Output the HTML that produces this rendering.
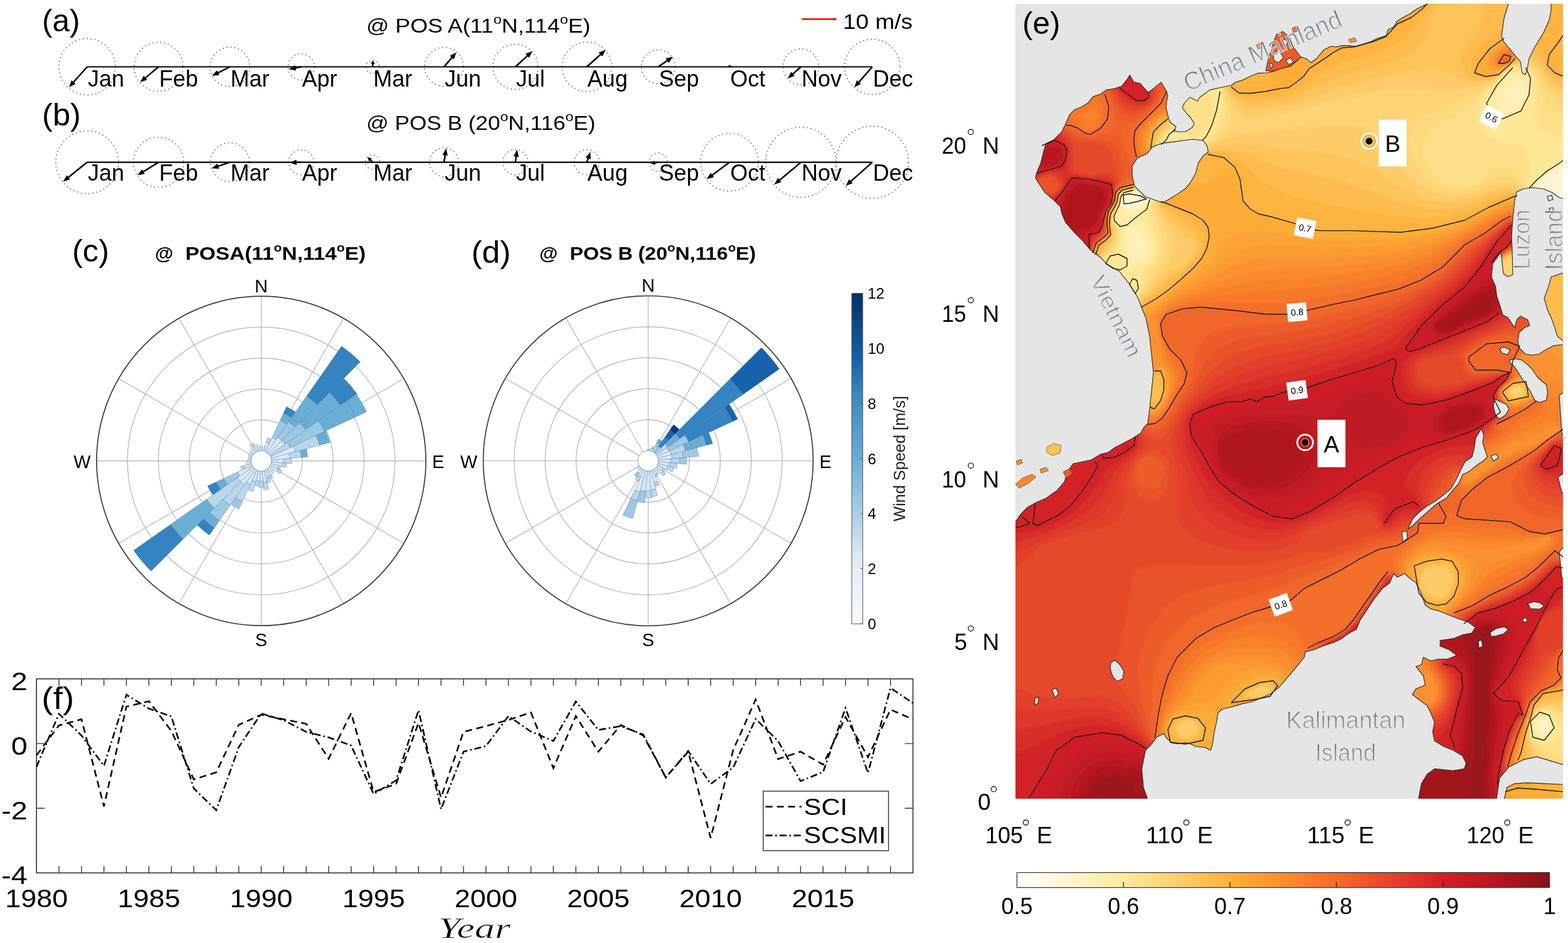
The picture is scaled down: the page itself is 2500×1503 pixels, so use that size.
<!DOCTYPE html>
<html><head><meta charset="utf-8"><title>Figure</title>
<style>html,body{margin:0;padding:0;background:#fff;overflow:hidden}svg{display:block}</style>
</head><body>
<svg width="2500" height="1503" viewBox="0 0 2500 1503" font-family="'Liberation Sans', Arial, sans-serif">
<rect width="2500" height="1503" fill="#fff"/>
<text x="67" y="49.8" font-size="50.5" textLength="60.5" lengthAdjust="spacingAndGlyphs">(a)</text>
<text x="584" y="52" font-size="32" textLength="357.5" lengthAdjust="spacingAndGlyphs">@ POS A(11<tspan font-size="21" dy="-14">o</tspan><tspan dy="14">N,114</tspan><tspan font-size="21" dy="-14">o</tspan><tspan dy="14">E)</tspan></text>
<circle cx="139" cy="106.5" r="45" fill="none" stroke="#85777a" stroke-width="1.8" stroke-dasharray="1.8 4.4"/>
<circle cx="252.8" cy="106.5" r="39" fill="none" stroke="#85777a" stroke-width="1.8" stroke-dasharray="1.8 4.4"/>
<circle cx="366.6" cy="106.5" r="31.5" fill="none" stroke="#85777a" stroke-width="1.8" stroke-dasharray="1.8 4.4"/>
<circle cx="480.4" cy="106.5" r="21" fill="none" stroke="#85777a" stroke-width="1.8" stroke-dasharray="1.8 4.4"/>
<circle cx="594.2" cy="106.5" r="10.5" fill="none" stroke="#85777a" stroke-width="1.8" stroke-dasharray="1.8 4.4"/>
<circle cx="708" cy="106.5" r="31" fill="none" stroke="#85777a" stroke-width="1.8" stroke-dasharray="1.8 4.4"/>
<circle cx="821.8" cy="106.5" r="36" fill="none" stroke="#85777a" stroke-width="1.8" stroke-dasharray="1.8 4.4"/>
<circle cx="935.6" cy="106.5" r="39.5" fill="none" stroke="#85777a" stroke-width="1.8" stroke-dasharray="1.8 4.4"/>
<circle cx="1049.4" cy="106.5" r="27" fill="none" stroke="#85777a" stroke-width="1.8" stroke-dasharray="1.8 4.4"/>
<circle cx="1163.2" cy="106.5" r="2.5" fill="none" stroke="#85777a" stroke-width="1.8" stroke-dasharray="1.8 4.4"/>
<circle cx="1277" cy="106.5" r="28.5" fill="none" stroke="#85777a" stroke-width="1.8" stroke-dasharray="1.8 4.4"/>
<circle cx="1390.8" cy="106.5" r="44" fill="none" stroke="#85777a" stroke-width="1.8" stroke-dasharray="1.8 4.4"/>
<line x1="139" y1="106.5" x2="1390.8" y2="106.5" stroke="#000" stroke-width="2.2"/>
<line x1="139" y1="106.5" x2="116.7" y2="131.5" stroke="#000" stroke-width="2.5"/>
<polygon points="110,139 114.1,127.9 120.5,133.7" fill="#000"/>
<text x="140" y="137.7" font-size="36">Jan</text>
<line x1="252.8" y1="106.5" x2="231.1" y2="124.6" stroke="#000" stroke-width="2.5"/>
<polygon points="223.4,131 229.1,120.7 234.6,127.3" fill="#000"/>
<text x="253.8" y="137.7" font-size="36">Feb</text>
<line x1="366.6" y1="106.5" x2="347" y2="116.3" stroke="#000" stroke-width="2.5"/>
<polygon points="338,120.7 345.9,112 349.8,119.7" fill="#000"/>
<text x="367.6" y="137.7" font-size="36">Mar</text>
<line x1="480.4" y1="106.5" x2="470.2" y2="108.4" stroke="#000" stroke-width="2.5"/>
<polygon points="460.4,110.2 470.4,104 472,112.4" fill="#000"/>
<text x="481.4" y="137.7" font-size="36">Apr</text>
<line x1="594.2" y1="106.5" x2="594.5" y2="101" stroke="#000" stroke-width="2.5"/>
<polygon points="594.7,96.5 597.9,102.2 591,101.8" fill="#000"/>
<text x="595.2" y="137.7" font-size="36">Mar</text>
<line x1="708" y1="106.5" x2="721" y2="91.1" stroke="#000" stroke-width="2.5"/>
<polygon points="727.5,83.5 723.7,94.7 717.1,89.1" fill="#000"/>
<text x="709" y="137.7" font-size="36">Jun</text>
<line x1="821.8" y1="106.5" x2="841.5" y2="88.3" stroke="#000" stroke-width="2.5"/>
<polygon points="848.8,81.5 843.7,92.1 837.8,85.8" fill="#000"/>
<text x="822.8" y="137.7" font-size="36">Jul</text>
<line x1="935.6" y1="106.5" x2="958.2" y2="86.2" stroke="#000" stroke-width="2.5"/>
<polygon points="965.6,79.5 960.3,90.1 954.5,83.7" fill="#000"/>
<text x="936.6" y="137.7" font-size="36">Aug</text>
<line x1="1049.4" y1="106.5" x2="1064.6" y2="96.1" stroke="#000" stroke-width="2.5"/>
<polygon points="1072.9,90.5 1066.2,100.2 1061.4,93.1" fill="#000"/>
<text x="1050.4" y="137.7" font-size="36">Sep</text>
<line x1="1163.2" y1="106.5" x2="1161.9" y2="104.8" stroke="#000" stroke-width="2.5"/>
<polygon points="1161.7,104.5 1165.3,103.5 1159.8,107.7" fill="#000"/>
<text x="1164.2" y="137.7" font-size="36">Oct</text>
<line x1="1277" y1="106.5" x2="1263.5" y2="118.5" stroke="#000" stroke-width="2.5"/>
<polygon points="1256,125.1 1261.4,114.6 1267.1,121" fill="#000"/>
<text x="1278" y="137.7" font-size="36">Nov</text>
<line x1="1390.8" y1="106.5" x2="1368.7" y2="131.6" stroke="#000" stroke-width="2.5"/>
<polygon points="1362.1,139.1 1366.1,128 1372.6,133.7" fill="#000"/>
<text x="1391.8" y="137.7" font-size="36">Dec</text>
<text x="67" y="199.5" font-size="50.5" textLength="62" lengthAdjust="spacingAndGlyphs">(b)</text>
<text x="584" y="207" font-size="32" textLength="365.5" lengthAdjust="spacingAndGlyphs">@ POS B (20<tspan font-size="21" dy="-14">o</tspan><tspan dy="14">N,116</tspan><tspan font-size="21" dy="-14">o</tspan><tspan dy="14">E)</tspan></text>
<circle cx="139" cy="258.6" r="50" fill="none" stroke="#85777a" stroke-width="1.8" stroke-dasharray="1.8 4.4"/>
<circle cx="252.8" cy="258.6" r="40" fill="none" stroke="#85777a" stroke-width="1.8" stroke-dasharray="1.8 4.4"/>
<circle cx="366.6" cy="258.6" r="31" fill="none" stroke="#85777a" stroke-width="1.8" stroke-dasharray="1.8 4.4"/>
<circle cx="480.4" cy="258.6" r="20" fill="none" stroke="#85777a" stroke-width="1.8" stroke-dasharray="1.8 4.4"/>
<circle cx="594.2" cy="258.6" r="11.5" fill="none" stroke="#85777a" stroke-width="1.8" stroke-dasharray="1.8 4.4"/>
<circle cx="708" cy="258.6" r="23" fill="none" stroke="#85777a" stroke-width="1.8" stroke-dasharray="1.8 4.4"/>
<circle cx="821.8" cy="258.6" r="20" fill="none" stroke="#85777a" stroke-width="1.8" stroke-dasharray="1.8 4.4"/>
<circle cx="935.6" cy="258.6" r="20" fill="none" stroke="#85777a" stroke-width="1.8" stroke-dasharray="1.8 4.4"/>
<circle cx="1049.4" cy="258.6" r="14.5" fill="none" stroke="#85777a" stroke-width="1.8" stroke-dasharray="1.8 4.4"/>
<circle cx="1163.2" cy="258.6" r="46" fill="none" stroke="#85777a" stroke-width="1.8" stroke-dasharray="1.8 4.4"/>
<circle cx="1277" cy="258.6" r="56" fill="none" stroke="#85777a" stroke-width="1.8" stroke-dasharray="1.8 4.4"/>
<circle cx="1390.8" cy="258.6" r="57.5" fill="none" stroke="#85777a" stroke-width="1.8" stroke-dasharray="1.8 4.4"/>
<line x1="139" y1="258.6" x2="1390.8" y2="258.6" stroke="#000" stroke-width="2.2"/>
<line x1="139" y1="258.6" x2="108.3" y2="283.2" stroke="#000" stroke-width="2.5"/>
<polygon points="100.5,289.4 106.4,279.2 111.8,285.9" fill="#000"/>
<text x="140" y="288.4" font-size="36">Jan</text>
<line x1="252.8" y1="258.6" x2="227.7" y2="274.1" stroke="#000" stroke-width="2.5"/>
<polygon points="219.2,279.3 226.3,269.9 230.8,277.2" fill="#000"/>
<text x="253.8" y="288.4" font-size="36">Feb</text>
<line x1="366.6" y1="258.6" x2="347.1" y2="265.1" stroke="#000" stroke-width="2.5"/>
<polygon points="337.6,268.3 346.7,260.7 349.4,268.9" fill="#000"/>
<text x="367.6" y="288.4" font-size="36">Mar</text>
<line x1="480.4" y1="258.6" x2="471.8" y2="258.9" stroke="#000" stroke-width="2.5"/>
<polygon points="461.8,259.2 472.7,254.5 472.9,263.1" fill="#000"/>
<text x="481.4" y="288.4" font-size="36">Apr</text>
<line x1="594.2" y1="258.6" x2="589.9" y2="254.3" stroke="#000" stroke-width="2.5"/>
<polygon points="586.2,250.6 593,252.6 588.2,257.4" fill="#000"/>
<text x="595.2" y="288.4" font-size="36">Mar</text>
<line x1="708" y1="258.6" x2="709.8" y2="246.5" stroke="#000" stroke-width="2.5"/>
<polygon points="711.3,236.6 713.9,248.1 705.4,246.8" fill="#000"/>
<text x="709" y="288.4" font-size="36">Jun</text>
<line x1="821.8" y1="258.6" x2="823.1" y2="248.5" stroke="#000" stroke-width="2.5"/>
<polygon points="824.4,238.6 827.2,250.1 818.7,249" fill="#000"/>
<text x="822.8" y="288.4" font-size="36">Jul</text>
<line x1="935.6" y1="258.6" x2="938.1" y2="251.5" stroke="#000" stroke-width="2.5"/>
<polygon points="941.4,242.1 941.8,253.9 933.7,251.1" fill="#000"/>
<text x="936.6" y="288.4" font-size="36">Aug</text>
<line x1="1049.4" y1="258.6" x2="1043" y2="259.7" stroke="#000" stroke-width="2.5"/>
<polygon points="1037.4,260.6 1043.4,256.1 1044.6,262.9" fill="#000"/>
<text x="1050.4" y="288.4" font-size="36">Sep</text>
<line x1="1163.2" y1="258.6" x2="1134.7" y2="279.7" stroke="#000" stroke-width="2.5"/>
<polygon points="1126.7,285.6 1133,275.6 1138.1,282.5" fill="#000"/>
<text x="1164.2" y="288.4" font-size="36">Oct</text>
<line x1="1277" y1="258.6" x2="1242.2" y2="287.7" stroke="#000" stroke-width="2.5"/>
<polygon points="1234.5,294.1 1240.2,283.7 1245.7,290.3" fill="#000"/>
<text x="1278" y="288.4" font-size="36">Nov</text>
<line x1="1390.8" y1="258.6" x2="1355.9" y2="289.6" stroke="#000" stroke-width="2.5"/>
<polygon points="1348.4,296.2 1353.8,285.7 1359.5,292.1" fill="#000"/>
<text x="1391.8" y="288.4" font-size="36">Dec</text>
<line x1="1278.5" y1="30.5" x2="1331" y2="30.5" stroke="#ff0000" stroke-width="2.4"/>
<polygon points="1335,30.5 1329,28 1329,33" fill="#ff0000"/>
<text x="1344" y="46.2" font-size="33" textLength="111" lengthAdjust="spacingAndGlyphs">10 m/s</text>
<text x="247" y="414" font-size="30" font-weight="bold">@</text>
<text x="860" y="414" font-size="30" font-weight="bold">@</text>
<text x="115" y="417" font-size="50" textLength="59" lengthAdjust="spacingAndGlyphs">(c)</text>
<text x="295.5" y="414" font-size="30" font-weight="bold" textLength="287.7" lengthAdjust="spacingAndGlyphs">POSA(11<tspan font-size="19" dy="-13">o</tspan><tspan dy="13">N,114</tspan><tspan font-size="19" dy="-13">o</tspan><tspan dy="13">E)</tspan></text>
<g fill="none" stroke="#b4b4b4" stroke-width="1.2"><circle cx="416.5" cy="734.7" r="65.6"/><circle cx="416.5" cy="734.7" r="114.8"/><circle cx="416.5" cy="734.7" r="164.1"/><circle cx="416.5" cy="734.7" r="213.3"/><circle cx="416.5" cy="734.7" r="16.4"/><line x1="416.5" y1="718.3" x2="416.5" y2="472.2"/><line x1="424.7" y1="720.5" x2="547.8" y2="507.4"/><line x1="430.7" y1="726.5" x2="643.8" y2="603.5"/><line x1="432.9" y1="734.7" x2="679" y2="734.7"/><line x1="430.7" y1="742.9" x2="643.8" y2="866"/><line x1="424.7" y1="748.9" x2="547.8" y2="962"/><line x1="416.5" y1="751.1" x2="416.5" y2="997.2"/><line x1="408.3" y1="748.9" x2="285.2" y2="962"/><line x1="402.3" y1="742.9" x2="189.2" y2="866"/><line x1="400.1" y1="734.7" x2="154" y2="734.7"/><line x1="402.3" y1="726.5" x2="189.2" y2="603.5"/><line x1="408.3" y1="720.5" x2="285.2" y2="507.4"/></g>
<g stroke="#4a6f94" stroke-opacity="0.45" stroke-width="0.9"><path d="M415.1 718.4L414.6 713.4A21.4 21.4 0 0 1 418.4 713.4L417.9 718.4A16.4 16.4 0 0 0 415.1 718.4Z" fill="#d9e8f5"/><path d="M417.9 718.4L418.6 710.4A24.4 24.4 0 0 1 422.8 711.1L420.7 718.9A16.4 16.4 0 0 0 417.9 718.4Z" fill="#d9e8f5"/><path d="M420.7 718.9L424.4 705.3A30.4 30.4 0 0 1 429.3 707.1L423.4 719.8A16.4 16.4 0 0 0 420.7 718.9Z" fill="#d9e8f5"/><path d="M424.4 705.3L426.4 697.6A38.4 38.4 0 0 1 432.7 699.9L429.3 707.1A30.4 30.4 0 0 0 424.4 705.3Z" fill="#b9d6ec"/><path d="M423.4 719.8L434 697.2A41.4 41.4 0 0 1 440.2 700.8L425.9 721.3A16.4 16.4 0 0 0 423.4 719.8Z" fill="#d9e8f5"/><path d="M434 697.2L446.7 670A71.4 71.4 0 0 1 457.5 676.2L440.2 700.8A41.4 41.4 0 0 0 434 697.2Z" fill="#9dc8e3"/><path d="M446.7 670L452.2 658.2A84.4 84.4 0 0 1 464.9 665.6L457.5 676.2A71.4 71.4 0 0 0 446.7 670Z" fill="#6aaed6"/><path d="M452.2 658.2L456.8 648.2A95.4 95.4 0 0 1 471.2 656.6L464.9 665.6A84.4 84.4 0 0 0 452.2 658.2Z" fill="#3583c1"/><path d="M425.9 721.3L443.1 696.7A46.4 46.4 0 0 1 449.3 701.9L428.1 723.1A16.4 16.4 0 0 0 425.9 721.3Z" fill="#d9e8f5"/><path d="M443.1 696.7L460.3 672.1A76.4 76.4 0 0 1 470.5 680.7L449.3 701.9A46.4 46.4 0 0 0 443.1 696.7Z" fill="#9dc8e3"/><path d="M460.3 672.1L489 631.2A126.4 126.4 0 0 1 505.9 645.3L470.5 680.7A76.4 76.4 0 0 0 460.3 672.1Z" fill="#6aaed6"/><path d="M489 631.2L544.6 551.7A223.4 223.4 0 0 1 574.5 576.7L505.9 645.3A126.4 126.4 0 0 0 489 631.2Z" fill="#3583c1"/><path d="M428.1 723.1L449.3 701.9A46.4 46.4 0 0 1 454.5 708.1L429.9 725.3A16.4 16.4 0 0 0 428.1 723.1Z" fill="#d9e8f5"/><path d="M449.3 701.9L477.6 673.6A86.4 86.4 0 0 1 487.3 685.1L454.5 708.1A46.4 46.4 0 0 0 449.3 701.9Z" fill="#9dc8e3"/><path d="M477.6 673.6L525.7 625.5A154.4 154.4 0 0 1 543 646.1L487.3 685.1A86.4 86.4 0 0 0 477.6 673.6Z" fill="#6aaed6"/><path d="M525.7 625.5L548.3 602.9A186.4 186.4 0 0 1 569.2 627.8L543 646.1A154.4 154.4 0 0 0 525.7 625.5Z" fill="#3583c1"/><path d="M429.9 725.3L458.6 705.2A51.4 51.4 0 0 1 463.1 713L431.4 727.8A16.4 16.4 0 0 0 429.9 725.3Z" fill="#b9d6ec"/><path d="M458.6 705.2L507.8 670.8A111.4 111.4 0 0 1 517.5 687.6L463.1 713A51.4 51.4 0 0 0 458.6 705.2Z" fill="#9dc8e3"/><path d="M507.8 670.8L552.8 639.3A166.4 166.4 0 0 1 567.3 664.4L517.5 687.6A111.4 111.4 0 0 0 507.8 670.8Z" fill="#6aaed6"/><path d="M552.8 639.3L568.4 628.4A185.4 185.4 0 0 1 584.5 656.3L567.3 664.4A166.4 166.4 0 0 0 552.8 639.3Z" fill="#6aaed6"/><path d="M431.4 727.8L467.6 710.9A56.4 56.4 0 0 1 471 720.1L432.3 730.5A16.4 16.4 0 0 0 431.4 727.8Z" fill="#d9e8f5"/><path d="M467.6 710.9L503.9 694A96.4 96.4 0 0 1 509.6 709.7L471 720.1A56.4 56.4 0 0 0 467.6 710.9Z" fill="#b9d6ec"/><path d="M503.9 694L519.3 686.8A113.4 113.4 0 0 1 526 705.3L509.6 709.7A96.4 96.4 0 0 0 503.9 694Z" fill="#6aaed6"/><path d="M432.3 730.5L461.3 722.7A46.4 46.4 0 0 1 462.7 730.7L432.8 733.3A16.4 16.4 0 0 0 432.3 730.5Z" fill="#d9e8f5"/><path d="M461.3 722.7L478.7 718A64.4 64.4 0 0 1 480.7 729.1L462.7 730.7A46.4 46.4 0 0 0 461.3 722.7Z" fill="#b9d6ec"/><path d="M478.7 718L488.4 715.4A74.4 74.4 0 0 1 490.6 728.2L480.7 729.1A64.4 64.4 0 0 0 478.7 718Z" fill="#6aaed6"/><path d="M432.8 733.3L452.8 731.5A36.4 36.4 0 0 1 452.8 737.9L432.8 736.1A16.4 16.4 0 0 0 432.8 733.3Z" fill="#d9e8f5"/><path d="M452.8 731.5L464.7 730.5A48.4 48.4 0 0 1 464.7 738.9L452.8 737.9A36.4 36.4 0 0 0 452.8 731.5Z" fill="#b9d6ec"/><path d="M432.8 736.1L450.8 737.7A34.4 34.4 0 0 1 449.7 743.6L432.3 738.9A16.4 16.4 0 0 0 432.8 736.1Z" fill="#d9e8f5"/><path d="M450.8 737.7L456.7 738.2A40.4 40.4 0 0 1 455.5 745.2L449.7 743.6A34.4 34.4 0 0 0 450.8 737.7Z" fill="#b9d6ec"/><path d="M432.3 738.9L443.9 742.1A28.4 28.4 0 0 1 442.2 746.7L431.4 741.6A16.4 16.4 0 0 0 432.3 738.9Z" fill="#d9e8f5"/><path d="M443.9 742.1L447.8 743.1A32.4 32.4 0 0 1 445.9 748.4L442.2 746.7A28.4 28.4 0 0 0 443.9 742.1Z" fill="#b9d6ec"/><path d="M431.4 741.6L444.1 747.5A30.4 30.4 0 0 1 441.4 752.1L429.9 744.1A16.4 16.4 0 0 0 431.4 741.6Z" fill="#d9e8f5"/><path d="M444.1 747.5L449.5 750.1A36.4 36.4 0 0 1 446.3 755.6L441.4 752.1A30.4 30.4 0 0 0 444.1 747.5Z" fill="#b9d6ec"/><path d="M429.9 744.1L438.1 749.8A26.4 26.4 0 0 1 435.2 753.4L428.1 746.3A16.4 16.4 0 0 0 429.9 744.1Z" fill="#d9e8f5"/><path d="M428.1 746.3L436.6 754.8A28.4 28.4 0 0 1 432.8 758L425.9 748.1A16.4 16.4 0 0 0 428.1 746.3Z" fill="#d9e8f5"/><path d="M425.9 748.1L431.6 756.3A26.4 26.4 0 0 1 427.7 758.6L423.4 749.6A16.4 16.4 0 0 0 425.9 748.1Z" fill="#d9e8f5"/><path d="M431.6 756.3L435.1 761.2A32.4 32.4 0 0 1 430.2 764.1L427.7 758.6A26.4 26.4 0 0 0 431.6 756.3Z" fill="#b9d6ec"/><path d="M423.4 749.6L428.5 760.4A28.4 28.4 0 0 1 423.9 762.1L420.7 750.5A16.4 16.4 0 0 0 423.4 749.6Z" fill="#d9e8f5"/><path d="M428.5 760.4L431.9 767.7A36.4 36.4 0 0 1 425.9 769.9L423.9 762.1A28.4 28.4 0 0 0 428.5 760.4Z" fill="#b9d6ec"/><path d="M420.7 750.5L425.4 767.9A34.4 34.4 0 0 1 419.5 769L417.9 751A16.4 16.4 0 0 0 420.7 750.5Z" fill="#d9e8f5"/><path d="M425.4 767.9L428.5 779.5A46.4 46.4 0 0 1 420.5 780.9L419.5 769A34.4 34.4 0 0 0 425.4 767.9Z" fill="#b9d6ec"/><path d="M417.9 751L419.3 767A32.4 32.4 0 0 1 413.7 767L415.1 751A16.4 16.4 0 0 0 417.9 751Z" fill="#d9e8f5"/><path d="M419.3 767L420.2 776.9A42.4 42.4 0 0 1 412.8 776.9L413.7 767A32.4 32.4 0 0 0 419.3 767Z" fill="#b9d6ec"/><path d="M415.1 751L413.7 767A32.4 32.4 0 0 1 408.1 766L412.3 750.5A16.4 16.4 0 0 0 415.1 751Z" fill="#d9e8f5"/><path d="M413.7 767L413 774.9A40.4 40.4 0 0 1 406 773.7L408.1 766A32.4 32.4 0 0 0 413.7 767Z" fill="#b9d6ec"/><path d="M412.3 750.5L407.6 767.9A34.4 34.4 0 0 1 402 765.9L409.6 749.6A16.4 16.4 0 0 0 412.3 750.5Z" fill="#d9e8f5"/><path d="M407.6 767.9L403.5 783.4A50.4 50.4 0 0 1 395.2 780.4L402 765.9A34.4 34.4 0 0 0 407.6 767.9Z" fill="#b9d6ec"/><path d="M409.6 749.6L399 772.2A41.4 41.4 0 0 1 392.8 768.6L407.1 748.1A16.4 16.4 0 0 0 409.6 749.6Z" fill="#d9e8f5"/><path d="M399 772.2L386.3 799.4A71.4 71.4 0 0 1 375.5 793.2L392.8 768.6A41.4 41.4 0 0 0 399 772.2Z" fill="#b9d6ec"/><path d="M386.3 799.4L380.8 811.2A84.4 84.4 0 0 1 368.1 803.8L375.5 793.2A71.4 71.4 0 0 0 386.3 799.4Z" fill="#9dc8e3"/><path d="M407.1 748.1L389.9 772.7A46.4 46.4 0 0 1 383.7 767.5L404.9 746.3A16.4 16.4 0 0 0 407.1 748.1Z" fill="#d9e8f5"/><path d="M389.9 772.7L366.9 805.5A86.4 86.4 0 0 1 355.4 795.8L383.7 767.5A46.4 46.4 0 0 0 389.9 772.7Z" fill="#b9d6ec"/><path d="M366.9 805.5L349.7 830A116.4 116.4 0 0 1 334.2 817L355.4 795.8A86.4 86.4 0 0 0 366.9 805.5Z" fill="#9dc8e3"/><path d="M349.7 830L341.7 841.5A130.4 130.4 0 0 1 324.3 826.9L334.2 817A116.4 116.4 0 0 0 349.7 830Z" fill="#6aaed6"/><path d="M341.7 841.5L333.7 853A144.4 144.4 0 0 1 314.4 836.8L324.3 826.9A130.4 130.4 0 0 0 341.7 841.5Z" fill="#3583c1"/><path d="M404.9 746.3L383.7 767.5A46.4 46.4 0 0 1 378.5 761.3L403.1 744.1A16.4 16.4 0 0 0 404.9 746.3Z" fill="#d9e8f5"/><path d="M383.7 767.5L341.3 809.9A106.4 106.4 0 0 1 329.3 795.7L378.5 761.3A46.4 46.4 0 0 0 383.7 767.5Z" fill="#b9d6ec"/><path d="M341.3 809.9L291.8 859.4A176.4 176.4 0 0 1 272 835.9L329.3 795.7A106.4 106.4 0 0 0 341.3 809.9Z" fill="#6aaed6"/><path d="M291.8 859.4L240.9 910.3A248.4 248.4 0 0 1 213 877.2L272 835.9A176.4 176.4 0 0 0 291.8 859.4Z" fill="#3583c1"/><path d="M403.1 744.1L382.6 758.4A41.4 41.4 0 0 1 379 752.2L401.6 741.6A16.4 16.4 0 0 0 403.1 744.1Z" fill="#d9e8f5"/><path d="M382.6 758.4L362.1 772.8A66.4 66.4 0 0 1 356.3 762.8L379 752.2A41.4 41.4 0 0 0 382.6 758.4Z" fill="#9dc8e3"/><path d="M362.1 772.8L351.5 780.2A79.4 79.4 0 0 1 344.5 768.3L356.3 762.8A66.4 66.4 0 0 0 362.1 772.8Z" fill="#6aaed6"/><path d="M351.5 780.2L339.2 788.8A94.4 94.4 0 0 1 330.9 774.6L344.5 768.3A79.4 79.4 0 0 0 351.5 780.2Z" fill="#3583c1"/><path d="M401.6 741.6L390.8 746.7A28.4 28.4 0 0 1 389.1 742.1L400.7 738.9A16.4 16.4 0 0 0 401.6 741.6Z" fill="#d9e8f5"/><path d="M390.8 746.7L385.3 749.2A34.4 34.4 0 0 1 383.3 743.6L389.1 742.1A28.4 28.4 0 0 0 390.8 746.7Z" fill="#b9d6ec"/><path d="M400.7 738.9L392.9 741A24.4 24.4 0 0 1 392.2 736.8L400.2 736.1A16.4 16.4 0 0 0 400.7 738.9Z" fill="#d9e8f5"/><path d="M400.2 736.1L394.2 736.7A22.4 22.4 0 0 1 394.2 732.7L400.2 733.3A16.4 16.4 0 0 0 400.2 736.1Z" fill="#d9e8f5"/><path d="M400.2 733.3L396.2 732.9A20.4 20.4 0 0 1 396.8 729.4L400.7 730.5A16.4 16.4 0 0 0 400.2 733.3Z" fill="#d9e8f5"/><path d="M400.7 730.5L395.8 729.2A21.4 21.4 0 0 1 397.1 725.7L401.6 727.8A16.4 16.4 0 0 0 400.7 730.5Z" fill="#d9e8f5"/><path d="M401.6 727.8L396.2 725.2A22.4 22.4 0 0 1 398.2 721.9L403.1 725.3A16.4 16.4 0 0 0 401.6 727.8Z" fill="#d9e8f5"/><path d="M403.1 725.3L398.2 721.9A22.4 22.4 0 0 1 400.7 718.9L404.9 723.1A16.4 16.4 0 0 0 403.1 725.3Z" fill="#d9e8f5"/><path d="M404.9 723.1L399.2 717.4A24.4 24.4 0 0 1 402.5 714.7L407.1 721.3A16.4 16.4 0 0 0 404.9 723.1Z" fill="#d9e8f5"/><path d="M407.1 721.3L401.4 713.1A26.4 26.4 0 0 1 405.3 710.8L409.6 719.8A16.4 16.4 0 0 0 407.1 721.3Z" fill="#d9e8f5"/><path d="M401.4 713.1L398.5 709A31.4 31.4 0 0 1 403.2 706.2L405.3 710.8A26.4 26.4 0 0 0 401.4 713.1Z" fill="#b9d6ec"/><path d="M409.6 719.8L404.5 709A28.4 28.4 0 0 1 409.1 707.3L412.3 718.9A16.4 16.4 0 0 0 409.6 719.8Z" fill="#d9e8f5"/><path d="M412.3 718.9L410.2 711.1A24.4 24.4 0 0 1 414.4 710.4L415.1 718.4A16.4 16.4 0 0 0 412.3 718.9Z" fill="#d9e8f5"/></g>
<circle cx="416.5" cy="734.7" r="262.5" fill="none" stroke="#3c3c3c" stroke-width="1.7"/>
<text x="416.5" y="465.7" font-size="29" text-anchor="middle">N</text>
<text x="416.5" y="1029.7" font-size="29" text-anchor="middle">S</text>
<text x="144.5" y="745.7" font-size="29" text-anchor="end">W</text>
<text x="689" y="745.7" font-size="29">E</text>
<text x="751.4" y="419.3" font-size="50" textLength="63" lengthAdjust="spacingAndGlyphs">(d)</text>
<text x="908.5" y="414" font-size="30" font-weight="bold" textLength="296.8" lengthAdjust="spacingAndGlyphs">POS B (20<tspan font-size="19" dy="-13">o</tspan><tspan dy="13">N,116</tspan><tspan font-size="19" dy="-13">o</tspan><tspan dy="13">E)</tspan></text>
<g fill="none" stroke="#b4b4b4" stroke-width="1.2"><circle cx="1033.5" cy="734.5" r="65.7"/><circle cx="1033.5" cy="734.5" r="115"/><circle cx="1033.5" cy="734.5" r="164.4"/><circle cx="1033.5" cy="734.5" r="213.7"/><circle cx="1033.5" cy="734.5" r="16.4"/><line x1="1033.5" y1="718.1" x2="1033.5" y2="471.5"/><line x1="1041.7" y1="720.3" x2="1165" y2="506.7"/><line x1="1047.7" y1="726.3" x2="1261.3" y2="603"/><line x1="1049.9" y1="734.5" x2="1296.5" y2="734.5"/><line x1="1047.7" y1="742.7" x2="1261.3" y2="866"/><line x1="1041.7" y1="748.7" x2="1165" y2="962.3"/><line x1="1033.5" y1="750.9" x2="1033.5" y2="997.5"/><line x1="1025.3" y1="748.7" x2="902" y2="962.3"/><line x1="1019.3" y1="742.7" x2="805.7" y2="866"/><line x1="1017.1" y1="734.5" x2="770.5" y2="734.5"/><line x1="1019.3" y1="726.3" x2="805.7" y2="603"/><line x1="1025.3" y1="720.3" x2="902" y2="506.7"/></g>
<g stroke="#4a6f94" stroke-opacity="0.45" stroke-width="0.9"><path d="M1032.1 718.2L1031.9 716.2A18.4 18.4 0 0 1 1035.1 716.2L1034.9 718.2A16.4 16.4 0 0 0 1032.1 718.2Z" fill="#d9e8f5"/><path d="M1034.9 718.2L1035.2 715.2A19.4 19.4 0 0 1 1038.5 715.8L1037.7 718.7A16.4 16.4 0 0 0 1034.9 718.2Z" fill="#d9e8f5"/><path d="M1037.7 718.7L1038.8 714.8A20.4 20.4 0 0 1 1042.1 716L1040.4 719.6A16.4 16.4 0 0 0 1037.7 718.7Z" fill="#d9e8f5"/><path d="M1038.8 714.8L1039.8 710.9A24.4 24.4 0 0 1 1043.8 712.4L1042.1 716A20.4 20.4 0 0 0 1038.8 714.8Z" fill="#b9d6ec"/><path d="M1040.4 719.6L1044.7 710.6A26.4 26.4 0 0 1 1048.6 712.9L1042.9 721.1A16.4 16.4 0 0 0 1040.4 719.6Z" fill="#b9d6ec"/><path d="M1044.7 710.6L1047.2 705.1A32.4 32.4 0 0 1 1052.1 708L1048.6 712.9A26.4 26.4 0 0 0 1044.7 710.6Z" fill="#9dc8e3"/><path d="M1047.2 705.1L1049.7 699.7A38.4 38.4 0 0 1 1055.5 703L1052.1 708A32.4 32.4 0 0 0 1047.2 705.1Z" fill="#6aaed6"/><path d="M1042.9 721.1L1049.8 711.2A28.4 28.4 0 0 1 1053.6 714.4L1045.1 722.9A16.4 16.4 0 0 0 1042.9 721.1Z" fill="#9dc8e3"/><path d="M1049.8 711.2L1060.1 696.5A46.4 46.4 0 0 1 1066.3 701.7L1053.6 714.4A28.4 28.4 0 0 0 1049.8 711.2Z" fill="#3583c1"/><path d="M1060.1 696.5L1067.6 685.8A59.4 59.4 0 0 1 1075.5 692.5L1066.3 701.7A46.4 46.4 0 0 0 1060.1 696.5Z" fill="#1663ab"/><path d="M1067.6 685.8L1073.9 676.8A70.4 70.4 0 0 1 1083.3 684.7L1075.5 692.5A59.4 59.4 0 0 0 1067.6 685.8Z" fill="#0b3a78"/><path d="M1045.1 722.9L1060.7 707.3A38.4 38.4 0 0 1 1065 712.5L1046.9 725.1A16.4 16.4 0 0 0 1045.1 722.9Z" fill="#b9d6ec"/><path d="M1060.7 707.3L1076.9 691.1A61.4 61.4 0 0 1 1083.8 699.3L1065 712.5A38.4 38.4 0 0 0 1060.7 707.3Z" fill="#6aaed6"/><path d="M1076.9 691.1L1163.9 604.1A184.4 184.4 0 0 1 1184.6 628.7L1083.8 699.3A61.4 61.4 0 0 0 1076.9 691.1Z" fill="#3583c1"/><path d="M1163.9 604.1L1214.1 553.9A255.4 255.4 0 0 1 1242.7 588L1184.6 628.7A184.4 184.4 0 0 0 1163.9 604.1Z" fill="#1663ab"/><path d="M1046.9 725.1L1063.3 713.6A36.4 36.4 0 0 1 1066.5 719.1L1048.4 727.6A16.4 16.4 0 0 0 1046.9 725.1Z" fill="#d9e8f5"/><path d="M1063.3 713.6L1092 693.5A71.4 71.4 0 0 1 1098.2 704.3L1066.5 719.1A36.4 36.4 0 0 0 1063.3 713.6Z" fill="#9dc8e3"/><path d="M1092 693.5L1155.1 649.4A148.4 148.4 0 0 1 1168 671.8L1098.2 704.3A71.4 71.4 0 0 0 1092 693.5Z" fill="#3583c1"/><path d="M1155.1 649.4L1162.4 644.2A157.4 157.4 0 0 1 1176.2 668L1168 671.8A148.4 148.4 0 0 0 1155.1 649.4Z" fill="#1663ab"/><path d="M1048.4 727.6L1068.3 718.3A38.4 38.4 0 0 1 1070.6 724.6L1049.3 730.3A16.4 16.4 0 0 0 1048.4 727.6Z" fill="#d9e8f5"/><path d="M1068.3 718.3L1089.1 708.6A61.4 61.4 0 0 1 1092.8 718.6L1070.6 724.6A38.4 38.4 0 0 0 1068.3 718.3Z" fill="#b9d6ec"/><path d="M1089.1 708.6L1120.9 693.8A96.4 96.4 0 0 1 1126.6 709.5L1092.8 718.6A61.4 61.4 0 0 0 1089.1 708.6Z" fill="#6aaed6"/><path d="M1120.9 693.8L1129.9 689.5A106.4 106.4 0 0 1 1136.3 707L1126.6 709.5A96.4 96.4 0 0 0 1120.9 693.8Z" fill="#3583c1"/><path d="M1049.3 730.3L1070.6 724.6A38.4 38.4 0 0 1 1071.8 731.2L1049.8 733.1A16.4 16.4 0 0 0 1049.3 730.3Z" fill="#d9e8f5"/><path d="M1070.6 724.6L1088 719.9A56.4 56.4 0 0 1 1089.7 729.6L1071.8 731.2A38.4 38.4 0 0 0 1070.6 724.6Z" fill="#b9d6ec"/><path d="M1088 719.9L1111.2 713.7A80.4 80.4 0 0 1 1113.6 727.5L1089.7 729.6A56.4 56.4 0 0 0 1088 719.9Z" fill="#9dc8e3"/><path d="M1049.8 733.1L1069.8 731.3A36.4 36.4 0 0 1 1069.8 737.7L1049.8 735.9A16.4 16.4 0 0 0 1049.8 733.1Z" fill="#d9e8f5"/><path d="M1069.8 731.3L1083.7 730.1A50.4 50.4 0 0 1 1083.7 738.9L1069.8 737.7A36.4 36.4 0 0 0 1069.8 731.3Z" fill="#b9d6ec"/><path d="M1083.7 730.1L1094.7 729.1A61.4 61.4 0 0 1 1094.7 739.9L1083.7 738.9A50.4 50.4 0 0 0 1083.7 730.1Z" fill="#9dc8e3"/><path d="M1049.8 735.9L1067.8 737.5A34.4 34.4 0 0 1 1066.7 743.4L1049.3 738.7A16.4 16.4 0 0 0 1049.8 735.9Z" fill="#d9e8f5"/><path d="M1067.8 737.5L1079.7 738.5A46.4 46.4 0 0 1 1078.3 746.5L1066.7 743.4A34.4 34.4 0 0 0 1067.8 737.5Z" fill="#b9d6ec"/><path d="M1049.3 738.7L1064.8 742.9A32.4 32.4 0 0 1 1062.9 748.2L1048.4 741.4A16.4 16.4 0 0 0 1049.3 738.7Z" fill="#d9e8f5"/><path d="M1064.8 742.9L1074.5 745.5A42.4 42.4 0 0 1 1071.9 752.4L1062.9 748.2A32.4 32.4 0 0 0 1064.8 742.9Z" fill="#b9d6ec"/><path d="M1048.4 741.4L1057.4 745.7A26.4 26.4 0 0 1 1055.1 749.6L1046.9 743.9A16.4 16.4 0 0 0 1048.4 741.4Z" fill="#d9e8f5"/><path d="M1057.4 745.7L1061.1 747.3A30.4 30.4 0 0 1 1058.4 751.9L1055.1 749.6A26.4 26.4 0 0 0 1057.4 745.7Z" fill="#b9d6ec"/><path d="M1046.9 743.9L1056.8 750.8A28.4 28.4 0 0 1 1053.6 754.6L1045.1 746.1A16.4 16.4 0 0 0 1046.9 743.9Z" fill="#d9e8f5"/><path d="M1056.8 750.8L1061.7 754.2A34.4 34.4 0 0 1 1057.8 758.8L1053.6 754.6A28.4 28.4 0 0 0 1056.8 750.8Z" fill="#b9d6ec"/><path d="M1045.1 746.1L1052.2 753.2A26.4 26.4 0 0 1 1048.6 756.1L1042.9 747.9A16.4 16.4 0 0 0 1045.1 746.1Z" fill="#d9e8f5"/><path d="M1042.9 747.9L1047.5 754.5A24.4 24.4 0 0 1 1043.8 756.6L1040.4 749.4A16.4 16.4 0 0 0 1042.9 747.9Z" fill="#d9e8f5"/><path d="M1047.5 754.5L1049.8 757.8A28.4 28.4 0 0 1 1045.5 760.2L1043.8 756.6A24.4 24.4 0 0 0 1047.5 754.5Z" fill="#b9d6ec"/><path d="M1040.4 749.4L1048.9 767.5A36.4 36.4 0 0 1 1042.9 769.7L1037.7 750.3A16.4 16.4 0 0 0 1040.4 749.4Z" fill="#d9e8f5"/><path d="M1048.9 767.5L1051.4 772.9A42.4 42.4 0 0 1 1044.5 775.5L1042.9 769.7A36.4 36.4 0 0 0 1048.9 767.5Z" fill="#b9d6ec"/><path d="M1037.7 750.3L1045.5 779.3A46.4 46.4 0 0 1 1037.5 780.7L1034.9 750.8A16.4 16.4 0 0 0 1037.7 750.3Z" fill="#d9e8f5"/><path d="M1045.5 779.3L1048.4 789.9A57.4 57.4 0 0 1 1038.5 791.7L1037.5 780.7A46.4 46.4 0 0 0 1045.5 779.3Z" fill="#b9d6ec"/><path d="M1034.9 750.8L1037.7 782.7A48.4 48.4 0 0 1 1029.3 782.7L1032.1 750.8A16.4 16.4 0 0 0 1034.9 750.8Z" fill="#d9e8f5"/><path d="M1037.7 782.7L1038.7 793.7A59.4 59.4 0 0 1 1028.3 793.7L1029.3 782.7A48.4 48.4 0 0 0 1037.7 782.7Z" fill="#b9d6ec"/><path d="M1032.1 750.8L1029.3 782.7A48.4 48.4 0 0 1 1021 781.3L1029.3 750.3A16.4 16.4 0 0 0 1032.1 750.8Z" fill="#d9e8f5"/><path d="M1029.3 782.7L1027.6 801.6A67.4 67.4 0 0 1 1016.1 799.6L1021 781.3A48.4 48.4 0 0 0 1029.3 782.7Z" fill="#9dc8e3"/><path d="M1029.3 750.3L1020.2 784.1A51.4 51.4 0 0 1 1011.8 781.1L1026.6 749.4A16.4 16.4 0 0 0 1029.3 750.3Z" fill="#d9e8f5"/><path d="M1020.2 784.1L1016.3 798.6A66.4 66.4 0 0 1 1005.4 794.7L1011.8 781.1A51.4 51.4 0 0 0 1020.2 784.1Z" fill="#b9d6ec"/><path d="M1016.3 798.6L1008.8 826.6A95.4 95.4 0 0 1 993.2 821L1005.4 794.7A66.4 66.4 0 0 0 1016.3 798.6Z" fill="#9dc8e3"/><path d="M1026.6 749.4L1021.5 760.2A28.4 28.4 0 0 1 1017.2 757.8L1024.1 747.9A16.4 16.4 0 0 0 1026.6 749.4Z" fill="#d9e8f5"/><path d="M1021.5 760.2L1018.1 767.5A36.4 36.4 0 0 1 1012.6 764.3L1017.2 757.8A28.4 28.4 0 0 0 1021.5 760.2Z" fill="#b9d6ec"/><path d="M1024.1 747.9L1019.5 754.5A24.4 24.4 0 0 1 1016.2 751.8L1021.9 746.1A16.4 16.4 0 0 0 1024.1 747.9Z" fill="#d9e8f5"/><path d="M1019.5 754.5L1015.5 760.2A31.4 31.4 0 0 1 1011.3 756.7L1016.2 751.8A24.4 24.4 0 0 0 1019.5 754.5Z" fill="#9dc8e3"/><path d="M1021.9 746.1L1019.1 748.9A20.4 20.4 0 0 1 1016.8 746.2L1020.1 743.9A16.4 16.4 0 0 0 1021.9 746.1Z" fill="#d9e8f5"/><path d="M1020.1 743.9L1018.4 745.1A18.4 18.4 0 0 1 1016.8 742.3L1018.6 741.4A16.4 16.4 0 0 0 1020.1 743.9Z" fill="#d9e8f5"/></g>
<circle cx="1033.5" cy="734.5" r="263" fill="none" stroke="#3c3c3c" stroke-width="1.7"/>
<text x="1033.5" y="465" font-size="29" text-anchor="middle">N</text>
<text x="1033.5" y="1030" font-size="29" text-anchor="middle">S</text>
<text x="761" y="745.5" font-size="29" text-anchor="end">W</text>
<text x="1306.5" y="745.5" font-size="29">E</text>
<defs><linearGradient id="gb" x1="0" y1="1" x2="0" y2="0"><stop offset="0" stop-color="#f7fbff"/><stop offset="0.2" stop-color="#deebf7"/><stop offset="0.3" stop-color="#b7d4ea"/><stop offset="0.5" stop-color="#6aaed6"/><stop offset="0.7" stop-color="#3787c0"/><stop offset="0.8" stop-color="#1361a9"/><stop offset="1" stop-color="#08306b"/></linearGradient></defs>
<rect x="1358" y="467.5" width="17.6" height="526.8" fill="url(#gb)" stroke="#555" stroke-width="1"/>
<line x1="1372.5" y1="994.3" x2="1375.6" y2="994.3" stroke="#444" stroke-width="1"/>
<text x="1383.5" y="1002.9" font-size="24">0</text>
<line x1="1372.5" y1="906.5" x2="1375.6" y2="906.5" stroke="#444" stroke-width="1"/>
<text x="1383.5" y="915.1" font-size="24">2</text>
<line x1="1372.5" y1="818.7" x2="1375.6" y2="818.7" stroke="#444" stroke-width="1"/>
<text x="1383.5" y="827.3" font-size="24">4</text>
<line x1="1372.5" y1="730.9" x2="1375.6" y2="730.9" stroke="#444" stroke-width="1"/>
<text x="1383.5" y="739.5" font-size="24">6</text>
<line x1="1372.5" y1="643.1" x2="1375.6" y2="643.1" stroke="#444" stroke-width="1"/>
<text x="1383.5" y="651.7" font-size="24">8</text>
<line x1="1372.5" y1="555.3" x2="1375.6" y2="555.3" stroke="#444" stroke-width="1"/>
<text x="1383.5" y="563.9" font-size="24">10</text>
<line x1="1372.5" y1="467.5" x2="1375.6" y2="467.5" stroke="#444" stroke-width="1"/>
<text x="1383.5" y="476.1" font-size="24">12</text>
<text x="1443" y="731" font-size="26" text-anchor="middle" fill="#222" textLength="200" lengthAdjust="spacingAndGlyphs" transform="rotate(-90 1443 731)">Wind Speed [m/s]</text>
<rect x="58.2" y="1082" width="1397.4" height="309.3" fill="none" stroke="#333" stroke-width="1.6"/>
<path d="M94 1082v11M94 1391.3v-11M129.9 1082v11M129.9 1391.3v-11M165.7 1082v11M165.7 1391.3v-11M201.5 1082v11M201.5 1391.3v-11M237.4 1082v11M237.4 1391.3v-11M273.2 1082v11M273.2 1391.3v-11M309 1082v11M309 1391.3v-11M344.8 1082v11M344.8 1391.3v-11M380.7 1082v11M380.7 1391.3v-11M416.5 1082v11M416.5 1391.3v-11M452.3 1082v11M452.3 1391.3v-11M488.2 1082v11M488.2 1391.3v-11M524 1082v11M524 1391.3v-11M559.8 1082v11M559.8 1391.3v-11M595.7 1082v11M595.7 1391.3v-11M631.5 1082v11M631.5 1391.3v-11M667.3 1082v11M667.3 1391.3v-11M703.2 1082v11M703.2 1391.3v-11M739 1082v11M739 1391.3v-11M774.8 1082v11M774.8 1391.3v-11M810.6 1082v11M810.6 1391.3v-11M846.5 1082v11M846.5 1391.3v-11M882.3 1082v11M882.3 1391.3v-11M918.1 1082v11M918.1 1391.3v-11M954 1082v11M954 1391.3v-11M989.8 1082v11M989.8 1391.3v-11M1025.6 1082v11M1025.6 1391.3v-11M1061.5 1082v11M1061.5 1391.3v-11M1097.3 1082v11M1097.3 1391.3v-11M1133.1 1082v11M1133.1 1391.3v-11M1169 1082v11M1169 1391.3v-11M1204.8 1082v11M1204.8 1391.3v-11M1240.6 1082v11M1240.6 1391.3v-11M1276.4 1082v11M1276.4 1391.3v-11M1312.3 1082v11M1312.3 1391.3v-11M1348.1 1082v11M1348.1 1391.3v-11M1383.9 1082v11M1383.9 1391.3v-11M1419.8 1082v11M1419.8 1391.3v-11M58.2 1185.1h13M1455.6 1185.1h-13M58.2 1288.2h13M1455.6 1288.2h-13" stroke="#333" stroke-width="1.4" fill="none"/>
<polyline points="58.2,1203.7 94,1156.2 129.9,1146.4 165.7,1285.1 201.5,1126.3 237.4,1117.6 273.2,1165 309,1242.3 344.8,1231 380.7,1155.2 416.5,1139.2 452.3,1146.4 488.2,1153.7 524,1209.3 559.8,1136.6 595.7,1262.4 631.5,1249.5 667.3,1152.1 703.2,1271.2 739,1166.5 774.8,1157.3 810.6,1147.5 846.5,1135.6 882.3,1224.3 918.1,1141.3 954,1198 989.8,1155.7 1025.6,1172.2 1061.5,1239.2 1097.3,1198 1133.1,1335.6 1169,1195.4 1204.8,1115 1240.6,1209.8 1276.4,1198 1312.3,1218.6 1348.1,1142.8 1383.9,1206.8 1419.8,1131 1455.6,1146.4" fill="none" stroke="#000" stroke-width="2.6" stroke-dasharray="11 7"/>
<polyline points="58.2,1222.2 94,1137.7 129.9,1172.2 165.7,1220.7 201.5,1107.3 237.4,1129.4 273.2,1141.8 309,1256.8 344.8,1291.3 380.7,1190.8 416.5,1137.2 452.3,1148 488.2,1166.5 524,1175.3 559.8,1188.2 595.7,1265.5 631.5,1243.9 667.3,1132 703.2,1289.7 739,1198 774.8,1189.2 810.6,1141.3 846.5,1166 882.3,1181 918.1,1118.1 954,1163.4 989.8,1157.3 1025.6,1170.7 1061.5,1239.2 1097.3,1197 1133.1,1249.5 1169,1223.2 1204.8,1145.9 1240.6,1181 1276.4,1244.9 1312.3,1230.5 1348.1,1128.4 1383.9,1232 1419.8,1096.4 1455.6,1120.7" fill="none" stroke="#000" stroke-width="2.6" stroke-dasharray="11 4.5 2.5 4.5"/>
<text x="17.8" y="1099.5" font-size="40" textLength="26" lengthAdjust="spacingAndGlyphs">2</text>
<text x="17.8" y="1202.6" font-size="40" textLength="26" lengthAdjust="spacingAndGlyphs">0</text>
<text x="2.3" y="1305.7" font-size="40" textLength="41.6" lengthAdjust="spacingAndGlyphs">-2</text>
<text x="2.3" y="1408.8" font-size="40" textLength="41.6" lengthAdjust="spacingAndGlyphs">-4</text>
<text x="58.2" y="1445.5" font-size="41.5" text-anchor="middle" textLength="100" lengthAdjust="spacingAndGlyphs">1980</text>
<text x="237.4" y="1445.5" font-size="41.5" text-anchor="middle" textLength="100" lengthAdjust="spacingAndGlyphs">1985</text>
<text x="416.5" y="1445.5" font-size="41.5" text-anchor="middle" textLength="100" lengthAdjust="spacingAndGlyphs">1990</text>
<text x="595.7" y="1445.5" font-size="41.5" text-anchor="middle" textLength="100" lengthAdjust="spacingAndGlyphs">1995</text>
<text x="774.8" y="1445.5" font-size="41.5" text-anchor="middle" textLength="100" lengthAdjust="spacingAndGlyphs">2000</text>
<text x="954" y="1445.5" font-size="41.5" text-anchor="middle" textLength="100" lengthAdjust="spacingAndGlyphs">2005</text>
<text x="1133.1" y="1445.5" font-size="41.5" text-anchor="middle" textLength="100" lengthAdjust="spacingAndGlyphs">2010</text>
<text x="1312.3" y="1445.5" font-size="41.5" text-anchor="middle" textLength="100" lengthAdjust="spacingAndGlyphs">2015</text>
<text x="698.5" y="1494.5" font-size="46" font-family="'Liberation Serif', 'Times New Roman', serif" textLength="115.5" lengthAdjust="spacingAndGlyphs" font-style="italic" stroke="#fff" stroke-width="0.6">Year</text>
<text x="66.3" y="1129.6" font-size="50" textLength="52" lengthAdjust="spacingAndGlyphs">(f)</text>
<rect x="1216.8" y="1261" width="199.8" height="94.8" fill="#fff" stroke="#333" stroke-width="1.4"/>
<line x1="1220.6" y1="1285.8" x2="1278" y2="1285.8" stroke="#000" stroke-width="2.6" stroke-dasharray="11 7"/>
<line x1="1220.6" y1="1331.6" x2="1278" y2="1331.6" stroke="#000" stroke-width="2.6" stroke-dasharray="11 4.5 2.5 4.5"/>
<text x="1281.5" y="1299" font-size="36" textLength="69.7" lengthAdjust="spacingAndGlyphs">SCI</text>
<text x="1281.5" y="1344.2" font-size="36" textLength="131" lengthAdjust="spacingAndGlyphs">SCSMI</text>
<defs><clipPath id="mc"><rect x="1619" y="6" width="873" height="1267"/></clipPath><filter id="bl" filterUnits="userSpaceOnUse" x="1560" y="-40" width="1000" height="1360"><feGaussianBlur stdDeviation="2.2"/></filter><linearGradient id="tg" x1="0" y1="0" x2="0" y2="1"><stop offset="0" stop-color="#575d65"/><stop offset="1" stop-color="#a9adb3"/></linearGradient><linearGradient id="cb" x1="0" y1="0" x2="1" y2="0"><stop offset="0" stop-color="#ffffff"/><stop offset="0.1" stop-color="#fff4cf"/><stop offset="0.2" stop-color="#feea9b"/><stop offset="0.3" stop-color="#fdd06e"/><stop offset="0.4" stop-color="#fdb03a"/><stop offset="0.5" stop-color="#fb8e2e"/><stop offset="0.6" stop-color="#f36b29"/><stop offset="0.7" stop-color="#e4452a"/><stop offset="0.8" stop-color="#d11f28"/><stop offset="0.9" stop-color="#b3171f"/><stop offset="1" stop-color="#871117"/></linearGradient></defs>
<g clip-path="url(#mc)">
<g filter="url(#bl)">
<rect x="1607" y="-6" width="897" height="1291" fill="#fff5d5"/>
<path fill="#fff3c9" d="M1607.8 -5.2l0 1291.4 895.4 0 0 -972 -4.4 1.6 -4.6 4.4 -1.4 6 -4.6 0 -4.4 6 -3 0 -9 9 -3 0 -9 6 -6 -4.4 0 -4.6 -3 -1.4 0 -9 3 -3 1.4 -13.6 4.6 -6 0 -6 -6 -9 9 -7.4 3 0 10.4 -7.6 3 0 3 -3 3 0 7.6 -4.4 10.4 9 0 -282zM1832.8 302.2l0 3 -3 3 0 7.6 -4.6 6 -3 0 -7.4 4.4 -7.6 0 -6 3 -9 -1.4 -3 -3 0 -7.6 3 -7.4 6 -1.6 21 0 4.6 -1.4 4.4 -6z"/>
<path fill="#fff0bc" d="M1607.8 -5.2l0 1291.4 895.4 0 0 -957 -12 0 -6 4.6 -3 0 -9 9 -4.4 0 -1.6 3 -4.4 0 -3 3 -3 -1.6 -6 -10.4 0 -3 -3 -3 4.4 -13.6 0 -16.4 1.6 -1.6 -1.6 -10.4 4.6 -4.6 3 0 15 -10.4 18 -9 10.4 1.4 0 -271.4zM2465.8 1146.8l4.4 12 -9 10.4 -6 -7.4 -1.4 -10.6 4.4 -3zM1843.2 290.2l-9 22.6 -10.4 12 -7.6 4.4 -10.4 3 -10.6 0 -6 -4.4 0 -16.6 3 -3 16.6 0 1.4 -1.4 12 -1.6 4.6 -6 13.4 -10.4z"/>
<path fill="#feeeaf" d="M1607.8 -5.2l0 1291.4 895.4 0 0 -945 -27 0 -3 3 -15 6 -4.4 -7.4 0 -3 -3 -3 0 -3 -4.6 -6 0 -24 3 -3 3 -13.6 28.6 -19.4 13.4 -6 9 0 0 -267zM2465.8 1143.8l4.4 6 1.6 12 -9 9 -4.6 0 -7.4 -10.6 0 -10.4 6 -4.6zM1801.2 362.2l10.6 6 12 12 1.4 4.6 7.6 9 -6 10.4 -7.6 7.6 -6 -1.6 -15 -9 0 -36zM1844.8 290.2l-3 4.6 0 6 -6 9 0 4.4 -3 1.6 -3 6 -9 9 -13.6 6 -12 0 -6 -4.6 -1.4 -3 0 -13.4 3 -7.6 21 -1.4 9 -3 4.4 -6 7.6 -3 7.4 -7.6zM2426.8 132.8l7.4 9 -3 1.4 0 7.6 -3 1.4 0 7.6 -3 1.4 0 4.6 -6 1.4 -1.4 3 -4.6 0 -1.4 3 -7.6 0 -3 3 -1.4 -6 -3 -1.4 0 -10.6 -3 -1.4 0 -4.6 7.4 -7.4 4.6 0 7.4 -9 4.6 0 1.4 -3z"/>
<path fill="#feeba2" d="M1607.8 -5.2l0 1291.4 895.4 0 0 -933 -45 0 -1.4 -6 -10.6 -18 0 -22.4 -1.4 -1.6 1.4 -9 9 -13.4 9 -4.6 12 -10.4 16.6 -9 10.4 -3 0 -261zM2456.8 1140.8l10.4 1.4 3 3 4.6 12 -3 7.6 -9 9 -9 -1.6 -4.6 -4.4 -3 -7.6 0 -10.4zM1801.2 359.2l7.6 0 9 4.6 12 15 6 13.4 0 4.6 -4.6 9 -12 10.4 -12 -1.4 -13.4 -13.6 0 -31.4 1.4 -6zM1843.2 287.2l1.6 6 -3 1.6 0 7.4 -3 1.6 -3 12 -7.6 12 -9 9 -16.4 7.4 -10.6 -1.4 -6 -7.6 1.6 -24 4.4 -4.4 25.6 -3 6 -6 3 0 13.4 -10.6zM2428.2 126.8l7.6 7.4 1.4 9 -9 22.6 -9 9 -15 6 -9 -1.6 -6 -6 -3 -7.4 0 -12 3 -7.6 16.6 -16.4 10.4 -4.6z"/>
<path fill="#fee795" d="M1607.8 -5.2l0 1291.4 895.4 0 0 -921 -45 0 -1.4 -1.4 0 -16.6 -4.6 -4.4 0 -3 -7.4 -12 0 -19.6 -3 -1.4 0 -4.6 -3 -1.4 3 -6 13.4 -15 4.6 0 13.4 -15 4.6 0 1.4 -3 4.6 0 6 -6 0 -3 4.4 -6 9 -3 0 -249zM2455.2 1134.8l4.6 0 3 3 6 0 4.4 6 0 6 6 9 -16.4 22.4 -4.6 -3 -6 0 -3 -3 -6 0 -1.4 -1.4 0 -16.6 -3 -1.4 0 -4.6zM1843.2 287.2l3 4.6 -3 3 0 6 -3 3 -3 12 -6 10.4 0 6 -9 9 -3 0 -3 3 0 3 4.6 4.6 15 24 4.4 13.4 0 9 -4.4 10.6 -9 10.4 -18 10.6 -10.6 1.4 -7.4 -4.4 3 -3 3 0 0 -10.6 -3 -3 -4.6 0 -3 -4.4 3 -21 1.6 -1.6 0 -16.4 -1.6 -4.6 -3 0 -10.4 -10.4 0 -10.6 3 -1.4 0 -4.6 3 -1.4 0 -4.6 3 -3 0 -9 6 -10.4 4.4 0 3 -3 16.6 0 4.4 -1.6 6 -6 9 -3 4.6 -6zM2435.8 116.2l4.4 6 0 24 -3 3 0 6 -3 3 -6 15 -6 6 -3 0 -9 6 -6 0 -9 6 -3 -3 -6 0 -4.4 -3 -6 -7.4 0 -3 -6 -6 0 -4.6 3 -3 3 -9 6 -6 3 -9 6 -6 0 -3 16.4 -15 7.6 4.6 7.4 0 1.6 1.4z"/>
<path fill="#fee08a" d="M1607.8 -5.2l0 1291.4 895.4 0 0 -909 -45 0 -1.4 -1.4 0 -27 -4.6 -6 -3 -9 -6 -6 0 -3 -3 -3 0 -6 -3 -3 -3 -12 1.6 -12 1.4 -1.6 0 -9 1.6 -1.4 0 -19.6 -1.6 -1.4 0 -7.6 -4.4 -10.4 -10.6 -7.6 -10.4 -3 -18 -1.4 -19.6 -7.6 -12 -12 -3 -6 0 -7.4 -1.4 -1.6 1.4 -18 3 -10.4 9 -13.6 16.6 -18 1.4 -4.4 22.6 -21 6 6 6 1.4 6 -1.4 1.4 -1.6 0 -6 3 -1.4 1.6 6 4.4 4.4 4.6 10.6 1.4 15 1.6 1.4 1.4 46.6 1.6 1.4 0 7.6 4.4 10.4 4.6 4.6 13.4 4.4 30 0 0 -220.4zM2453.8 1133.2l16.4 1.6 9 9 10.6 16.4 1.4 4.6 -1.4 7.4 -13.6 12 -12 3 -19.4 -9 -4.6 -4.4 -1.4 -22.6zM1844.8 287.2l1.4 1.6 0 6 -3 1.4 0 7.6 -3 1.4 0 10.6 -3 4.4 -4.4 18 0 15 12 27 1.4 16.6 -6 16.4 -12 13.6 -7.4 12 -1.6 22.4 -9 13.6 -6 1.4 -1.4 3 -4.6 0 -1.4 3 -4.6 0 -1.4 3 -4.6 0 -1.4 3 -4.6 0 -1.4 3 -4.6 0 -1.4 3 -3 0 -3 3 -3 0 -10.6 6 -4.4 4.6 -3 0 -6 6 -9 3 -4.6 4.4 -4.4 0 -3 3 -3 0 -3 3 -3 0 -3 3 -3 0 -3 3 -3 0 -3 3 -15 6 -27 24 -4.6 0 -1.4 -3 -16.6 0 -1.4 -3 -4.6 0 -1.4 -3 9 -7.4 0 -3 126 -126 6 -9 19.4 -16.6 3 -9 0 -19.4 -10.4 -13.6 0 -13.4 9 -15 0 -9 3 -6 9 -6 19.4 -1.6 6 -3 1.6 -3 9 -3 6 -6zM1928.8 72.8l4.4 4.4 0 7.6 3 1.4 0 13.6 3 1.4 0 13.6 3 1.4 0 24 6 6 0 28.6 -1.4 1.4 -1.6 12 -12 24 -16.4 18 -3 0 -6 6 -4.6 0 -1.4 3 -4.6 0 -1.4 3 -3 0 -21 21 -3 0 -3 3 -1.6 -1.4 0 -7.6 -3 -3 0 -9 -4.4 -4.4 -3 -7.6 -4.6 -3 10.6 -13.4 1.4 -4.6 13.6 -10.4 13.4 -1.6 3 3 4.6 12 7.4 6 24 -16.4 0 -3 3 -3 0 -6 3 -3 0 -6 3 -3 -3 -7.6 -1.4 -13.4 -7.6 -16.6 -16.4 -18 0 -3 -12 -15 0 -3 3 -1.4 0 -16.6 3 -1.4 0 -7.6 6 -1.4 1.4 -3z"/>
<path fill="#fdda7f" d="M1607.8 -5.2l0 1291.4 895.4 0 0 -84 -25.4 1.6 -16.6 -9 -21 -18 0 -16.6 -3 -7.4 10.6 -15 6 -6 6 -1.6 15 3 15 10.6 13.4 4.4 0 -759 -45 0 -1.4 -1.4 0 -37.6 -1.6 -4.4 -3 -3 -3 -9 -9 -10.6 0 -6 -10.4 -18 0 -4.4 -7.6 -18 -7.4 -7.6 -9 -4.4 -16.6 0 -10.4 6 -16.6 18 -27 7.4 -22.4 1.6 -15 -9 -18 -16.6 -6 -10.4 -3 -12 0 -19.6 6 -18 15 -13.4 21 -7.6 24 -13.4 28.4 -30 18 -15 28.6 -28.6 12 4.6 6 -1.6 0 -3 4.4 -3 3 6 6 4.6 6 12 9 28.4 10.6 18 6 6 13.4 7.6 15 1.4 0 -190.4zM1847.8 282.8l1.4 1.4 0 21 -3 3 -1.4 7.6 -4.6 4.4 -1.4 24 13.4 34.6 1.6 15 -1.6 1.4 -1.4 12 -4.6 9 -16.4 22.6 -6 15 0 4.4 -6 10.6 -9 9 -3 0 -3 3 -3 0 -3 3 -3 0 -3 3 -3 0 -3 3 -3 0 -3 3 -3 0 -3 3 -3 0 -3 3 -15 6 -1.6 3 -4.4 0 -4.6 6 -4.4 0 -1.6 3 -4.4 0 -1.6 3 -6 1.4 -3 3 -3 0 -3 3 -3 0 -3 3 -3 0 -21 12 -3 0 -27 24 -6 0 -3 -3 -15 0 -3 -3 -4.4 0 -1.6 -1.4 10.6 -10.6 0 -3 18 -16.4 0 -4.6 18 -16.4 0 -4.6 18 -16.4 0 -4.6 18 -16.4 43.4 -46.6 9 -3 22.6 -22.4 4.4 -12 0 -13.6 -9 -15 0 -12 9 -15 1.6 -12 3 -6 7.4 -4.4 22.6 -3 16.4 -9 6 -6 4.6 0zM1928.8 72.8l4.4 4.4 0 6 4.6 7.6 0 7.4 3 3 0 12 3 3 1.4 15 3 3 0 7.6 3 6 1.6 18 1.4 1.4 0 21 -3 9 -7.4 12 -13.6 13.6 -12 9 -4.4 0 -1.6 3 -7.4 1.4 -3 3 -9 3 -19.6 21 -3 0 -6 4.6 -10.4 -15 0 -6 -3 -3 -3 -15 12 -18 13.4 -12 1.6 -6 6 -4.6 -6 -7.4 0 -19.6 3 -1.4 0 -7.6 3 -1.4 0 -10.6 3 -1.4 0 -7.6 3 -1.4 0 -4.6 3 -1.4 0 -4.6 3 -1.4 0 -4.6 3 -1.4 0 -7.6 3 -3 0 -15 3 -3 0 -6 7.4 -4.4z"/>
<path fill="#fdd374" d="M1607.8 -5.2l0 1291.4 895.4 0 0 -66 -4.4 1.6 -13.6 13.4 -3 -3 -15 0 -3 -3 -9 0 -1.4 -1.4 0 -9 1.4 -1.6 1.6 -12 -4.6 -10.4 -13.4 -18 0 -18 -1.6 -1.6 0 -6 10.6 -15 9 -7.4 18 0 19.4 7.4 9 1.6 0 -735 -39 0 -7.4 -6 0 -45 -1.6 -6 -3 -1.6 0 -4.4 -3 -1.6 0 -4.4 -16.4 -16.6 0 -3 -3 -3 0 -4.4 -6 -10.6 -12 -12 -7.6 -3 -15 0 -36 18 -19.4 4.6 -9 0 -1.6 1.4 -16.4 -1.4 -16.6 -7.6 -22.4 -18 -9 -12 -6 -12 -6 -22.4 0 -15 3 -10.6 6 -10.4 6 -6 13.4 -7.6 27 -6 21 -13.4 34.6 -16.6 25.4 -16.4 27 -25.6 18 0 6 -4.4 3 4.4 4.6 1.6 6 6 16.4 31.4 10.6 12 12 7.6 16.4 3 0 -171zM1849.2 282.8l1.6 1.4 0 19.6 -3 3 0 4.4 -4.6 7.6 0 18 4.6 13.4 12 24 1.4 6 0 19.6 -9 21 -19.4 27 -9 18 -12 12 -4.6 0 -3 3 -3 0 -3 3 -3 0 -3 3 -3 0 -3 3 -3 0 -3 3 -15 6 -16.4 10.4 -3 0 -6 6 -9 3 -4.6 4.6 -4.4 0 -3 3 -3 0 -3 3 -3 0 -3 3 -3 0 -3 3 -3 0 -3 3 -15 6 -25.6 22.4 -6 0 -3 -3 -15 0 -3 -3 -4.4 0 -1.6 -1.4 10.6 -10.6 0 -3 18 -18 0 -3 18 -18 0 -3 18 -18 0 -3 60 -63 3 0 6 -4.4 21 -24 4.4 -10.6 0 -13.4 -6 -12 0 -15 9 -15 0 -9 3 -6 10.6 -7.6 10.4 0 10.6 -3 6 -4.4 9 -3 6 -6 4.4 0 3 -3zM1928.8 71.2l6 6 0 6 3 3 0 12 3 1.6 0 13.4 3 1.6 0 7.4 3 1.6 0 7.4 4.4 6 0 4.6 12 34.4 1.6 18 -4.6 9 -19.4 18 -21 12 -4.6 0 -1.4 3 -9 1.6 -3 3 -9 3 -21 21 -3 0 -4.6 4.4 -1.4 -4.4 -10.6 -13.6 0 -4.4 -3 -3 -3 -15 9 -16.6 24 -24 -4.4 -6 0 -21 3 -3 0 -6 3 -3 0 -9 3 -3 0 -6 3 -3 0 -3 9 -15 0 -6 3 -3 0 -15 3 -3 0 -7.4 7.4 -4.6z"/>
<path fill="#fdcc68" d="M1607.8 -5.2l0 1291.4 895.4 0 0 -57 -12 1.6 -4.4 4.4 -4.6 -1.4 -15 0 -3 -3 -9 0 -6 -6 -1.4 -25.6 -10.6 -21 0 -28.4 3 -1.6 10.6 -18 13.4 -6 12 0 18 4.6 9 0 0 -714 -24 0 -7.4 -6 -6 -1.6 -9 -9 0 -45 -1.6 -1.4 0 -6 -3 -1.6 0 -4.4 -3 -1.6 0 -4.4 -15 -12 -7.4 -10.6 0 -4.4 -12 -10.6 -10.6 -4.4 -13.4 0 -10.6 3 -22.4 10.4 -30 7.6 -21 0 -18 -4.6 -21 -10.4 -18 -13.6 -21 -22.4 -24 -33 -18 -18 -19.6 -9 -12 -1.6 -1.4 -1.4 -42 0 -1.6 1.4 -12 0 -1.4 1.6 -10.6 0 -1.4 1.4 -21 1.6 -1.6 1.4 -21 1.6 -1.4 1.4 -13.6 0 -1.4 1.6 -18 0 -1.6 1.4 -19.4 0 -6 -1.4 -16.6 6 -27 13.4 -10.4 3 -4.6 4.6 -3 -1.6 -13.4 1.6 -1.6 3 -4.4 0 -1.6 3 -4.4 0 -19.6 21 -4.4 0 -4.6 4.4 -3 -1.4 0 -3 -6 -6 0 -3 -3 -3 0 -6 -3 -1.6 0 -4.4 -3 -3 -1.4 -10.6 6 -13.4 18 -18 3 0 0 -3 3 -3 4.4 -1.6 -6 -7.4 1.6 -1.6 0 -18 3 -3 0 -6 3 -3 0 -9 3 -3 0 -6 3 -3 0 -3 9 -15 0 -6 3 -3 0 -15 3 -3 0 -7.4 7.4 -4.6 19.6 0 6 4.6 0 7.4 3 1.6 1.4 13.4 3 3 0 12 3 3 0 6 3 3 0 6 4.6 4.6 3 10.4 18 31.6 7.4 7.4 6 3 21 -1.4 15 -4.6 22.6 -3 66 -16.4 6 0 19.4 -6 6 0 7.6 -3 6 0 31.4 -7.6 7.6 0 9 -3 58.4 -3 1.6 1.6 13.4 0 12 3 27 0 1.6 -1.6 15 0 1.4 -1.4 16.6 -1.6 15 -4.4 15 -7.6 30 -25.4 15 0 7.4 -7.6 9 6 9 9 10.6 18 12 13.6 12 7.4 16.4 3 0 -157.4zM2423.8 615.8l1.4 1.4 0 7.6 3 3 -1.4 1.4 -7.6 0 -1.4 3 -4.6 0 -1.4 -6 -3 -1.4 0 -4.6 1.4 -1.4 7.6 0 1.4 -3zM2405.8 405.8l3 1.4 1.4 6 3 1.6 30 0 1.6 1.4 -1.6 1.6 0 7.4 -3 3 0 21 -3 3 -3 9 -7.4 9 -7.6 0 -1.4 -3 -4.6 0 -19.4 -19.4 0 -4.6 -3 -1.4 0 -4.6 -3 -1.4 0 -10.6 9 -4.4 3 -9zM1847.8 281.2l3 3 0 21 -4.6 7.6 -1.4 12 9 22.4 10.4 15 9 21 0 12 -12 27 -15 18 -16.4 24 -18 18 -3 0 -3 3 -3 0 -3 3 -3 0 -3 3 -3 0 -3 3 -3 0 -21 12 -4.6 0 -1.4 3 -7.6 0 -1.4 3 -4.6 0 -1.4 3 -4.6 0 -12 7.6 -4.4 0 -1.6 3 -4.4 0 -1.6 3 -4.4 0 -1.6 3 -4.4 0 -1.6 3 -4.4 0 -1.6 3 -4.4 0 -1.6 3 -4.4 0 -1.6 3 -4.4 0 -10.6 12 -4.4 0 -10.6 10.4 -6 0 -3 -3 -15 0 -3 -3 -4.4 0 -1.6 -1.4 10.6 -10.6 0 -3 18 -18 0 -3 18 -18 0 -3 18 -18 0 -3 55.4 -58.4 12 -10.6 3 -6 16.6 -18 4.4 -9 0 -16.4 -4.4 -9 0 -13.6 10.4 -18 1.6 -12 10.4 -9 15 -1.4 6 -3 12 -12 4.6 0 1.4 -3 4.6 0 1.4 -3z"/>
<path fill="#fdc45b" d="M1607.8 -5.2l0 1291.4 895.4 0 0 -51 -16.4 0 -3 1.6 -1.6 -3 -16.4 0 -1.6 -3 -10.4 0 -6 -6 -1.6 -15 -4.4 -6 -6 -24 1.4 -30 6 -7.6 3 -9 7.6 -7.4 15 -6 34.4 1.4 0 -694.4 -7.4 0 -10.6 -6 -3 0 -12 -12 -4.4 0 -9 -9 0 -42 -1.6 -1.6 0 -9 -6 -9 0 -4.4 -3 -3 -3 0 -27 -27 -6 -3 -7.4 0 -1.6 -1.6 -12 1.6 -30 12 -33 9 -31.4 0 -1.6 -1.6 -13.4 -1.4 -31.6 -12 -28.4 -16.6 -28.6 -19.4 -25.4 -13.6 -31.6 -10.4 -22.4 -3 -1.6 -1.6 -10.4 0 -1.6 -1.4 -63 -4.6 -1.4 -1.4 -10.6 0 -1.4 -1.6 -10.6 0 -1.4 -1.4 -22.6 -1.6 -1.4 -1.4 -21 0 -1.6 1.4 -24 3 -13.4 4.6 -19.6 0 -3 3 -9 3 -21 21 -3 0 -6 6 -3 -3 0 -3 -6 -6 0 -3 -3 -3 0 -4.6 -3 -3 0 -3 -3 -3 0 -4.4 -3 -3 0 -7.6 7.6 -15 10.4 -10.4 16.6 -10.6 -4.6 -6 1.6 -22.4 3 -3 0 -6 3 -3 0 -9 3 -3 0 -6 3 -3 0 -3 9 -15 0 -6 3 -3 0 -15 3 -3 0 -6 4.4 -1.6 1.6 -3 22.4 0 4.6 4.6 0 6 3 3 1.4 12 3 1.4 0 4.6 3 1.4 0 4.6 3 1.4 0 4.6 3 1.4 0 4.6 3 1.4 0 13.6 12 21 10.6 10.4 16.4 7.6 21 0 1.6 -1.6 9 0 1.4 -1.4 21 -3 24 -6 85.6 -28.6 24 -6 6 0 7.4 -3 6 0 7.6 -3 6 0 39 -9 7.4 0 1.6 -1.4 10.4 0 1.6 -1.6 12 0 1.4 1.6 12 1.4 27 13.6 13.6 4.4 7.4 0 1.6 1.6 18 -1.6 16.4 -6 27 -22.4 7.6 -3 12 0 4.4 -6 10.6 1.4 9 9 15 22.6 9 7.4 13.4 6 12 1.6 0 -147zM1879.2 1155.8l13.6 -7.6 4.4 0 3 3 3 0 7.6 9 -10.6 13.6 -16.4 0 -4.6 -9zM2026.2 1095.8l0 3 -9 9 -12 0 -4.4 3 -10.6 0 -1.4 -1.6 0 -3 3 -3 3 0 15 -9 15 0zM2293.2 902.2l9 0 12 13.6 1.6 7.4 -6 18 -4.6 7.6 -7.4 3 -12 0 -19.6 -16.6 0 -7.4 3 -7.6 0 -6 4.6 -6zM2407.2 620.2l10.6 -6 7.4 0 4.6 10.6 0 4.4 -1.6 1.6 -6 0 -4.4 3 -6 0 -4.6 -6zM2405.8 405.8l6 4.4 33 0 3 3 0 3 -3 1.6 0 7.4 -3 1.6 0 22.4 -3 1.6 0 4.4 -3 1.6 0 4.4 -3 1.6 0 3 -6 4.4 -7.6 0 -3 -3 -3 0 -19.4 -19.4 0 -3 -6 -9 0 -10.6 3 -1.4 0 -4.6 4.4 -1.4zM1849.2 281.2l1.6 1.6 0 22.4 -3 7.6 0 13.4 3 6 28.4 36 12 10.6 6 0 1.6 -1.6 6 7.6 3 7.4 -6 12 -3 1.6 -6 10.4 -3 1.6 0 3 -6 6 -3 0 -3 3 -7.6 0 -7.4 4.4 -27 30 -22.6 19.6 -4.4 0 -1.6 3 -4.4 0 -1.6 3 -4.4 0 -1.6 3 -4.4 0 -1.6 3 -4.4 0 -1.6 3 -4.4 0 -1.6 3 -4.4 0 -15 9 -6 0 -9 6 -6 0 -9 6 -4.6 0 -3 3 -3 0 -3 3 -3 0 -3 3 -3 0 -3 3 -3 0 -3 3 -15 6 -25.4 22.4 -9 0 -3 -3 -15 0 -3 -3 -4.6 0 -1.4 -1.4 12 -12 0 -3 18 -18 0 -3 18 -18 0 -3 18 -18 0 -3 55.4 -57 31.6 -40.6 3 -7.4 0 -9 -3 -9 0 -18 4.4 -4.6 0 -3 6 -9 0 -10.4 1.6 -3 9 -7.6 7.4 0 13.6 -4.4 9 -9 10.4 -6 3 0 3 -3z"/>
<path fill="#fdbc4e" d="M2365.2 -5.2l0 22.4 -1.4 1.6 0 9 -3 12 -4.6 9 -19.4 25.4 -7.6 13.6 0 13.4 7.6 15 9 7.6 9 3 18 0 10.4 -3 18 -13.6 9 -9 15 -6 4.6 0 1.4 -1.4 -1.4 -12 4.4 -1.6 3 3 4.6 0 12 10.6 10.4 19.4 13.6 13.6 9 4.4 16.4 1.6 0 -138zM1607.8 -5.2l0 1291.4 895.4 0 0 -43.4 -7.4 0 -7.6 -6 -4.4 0 -3 -3 -15 0 -3 -3 -9 0 -6 -4.6 -4.6 1.6 -3 -3 -3 -9 -1.4 -25.6 -1.6 -1.4 0 -18 3 -10.6 -1.4 -9 4.4 -4.4 6 -16.6 9 -9 12 -6 7.6 0 1.4 -1.4 27 1.4 0 -672 -4.4 0 -7.6 -7.4 -6 -9 0 -3 -4.4 -1.6 -12 -12 -3 0 -9 -9 -1.6 -54 -3 -3 -3 -9 -13.4 -10.4 -10.6 -12 -12 -6 -16.4 0 -12 3 -31.6 13.4 -31.4 9 -9 0 -1.6 1.6 -40.4 -1.6 -1.6 -1.4 -31.4 -6 -43.6 -15 -4.4 -3 -51 -16.6 -96 -22.4 -30 -10.6 -27 -12 -22.6 -6 -42 1.6 -3 -3 -9 0 -15 6 -22.4 22.4 -1.6 -1.4 -7.4 6 -1.6 -6 -6 -4.6 0 -4.4 -3 -1.6 0 -3 -12 -21 1.6 -10.4 7.4 -13.6 7.6 -7.4 9 -6 6 -1.6 4.4 -4.4 -3 -4.6 0 -21 3 -3 0 -6 3 -3 0 -9 3 -3 0 -6 3 -3 0 -3 9 -15 0 -6 3 -3 0 -15 3 -3 0 -6 7.6 -6 22.4 0 4.6 4.6 0 6 3 3 3 10.4 3 3 0 3 12 21 0 6 3 3 0 7.6 3 6 12 12 18 7.4 25.4 0 1.6 -1.4 18 -1.6 33 -9 40.4 -19.4 3 0 10.6 -6 15 -4.6 4.4 -3 75 -21 22.6 -9 13.4 -7.4 16.6 -16.6 6 -16.4 4.4 -27 15 -15 4.6 -7.6 0 -4.4zM1882.2 1149.8l7.6 -3 9 0 6 3 7.4 7.4 -1.4 10.6 -9 9 -15 1.4 -6 -3 -4.6 -6 -1.4 -10.4zM2029.2 1097.2l-7.4 12 -10.6 0 -9 3 -13.4 0 -3 -3 4.4 -7.4 18 -9 15 -1.6zM2302.2 899.2l6 3 7.6 9 3 6 0 9 -7.6 19.6 -6 6 -6 3 -10.4 1.4 -10.6 -4.4 -13.4 -15 0 -19.6 3 -7.4 10.4 -7.6 12 -3zM2404.2 623.2l6 -7.4 7.6 -3 7.4 0 4.6 4.4 1.4 12 -3 3 -16.4 3 -6 -6zM2405.8 404.2l7.4 4.6 36 0 1.6 1.4 -1.6 6 -3 3 0 6 -3 3 0 21 -3 3 0 3 -6 10.6 -7.4 4.4 -7.6 0 -3 -3 -3 0 -19.4 -19.4 0 -3 -6 -9 0 -10.6 3 -3 0 -4.4 6 -3zM1847.8 279.8l3 3 0 19.4 1.4 1.6 -3 4.4 0 15 1.6 3 37.4 34.6 9 6 10.6 10.4 4.4 12 -1.4 9 -4.6 9 -10.4 13.6 -9 9 -22.6 13.4 -31.4 30 -15 10.6 -7.6 1.4 -1.4 3 -4.6 0 -1.4 3 -4.6 0 -1.4 3 -4.6 0 -1.4 3 -4.6 0 -1.4 3 -6 0 -3 3 -3 0 -7.6 4.6 -4.4 0 -1.6 3 -7.4 0 -1.6 3 -4.4 0 -1.6 3 -7.4 0 -1.6 3 -4.4 0 -1.6 3 -6 0 -3 3 -3 0 -3 3 -3 0 -3 3 -3 0 -3 3 -3 0 -3 3 -15 6 -25.4 22.4 -9 0 -3 -3 -15 0 -3 -3 -4.6 0 -1.4 -1.4 12 -12 0 -3 18 -18 0 -3 18 -18 0 -3 18 -18 0 -3 55.4 -57 3 -7.6 6 -6 0 -3 4.6 -7.4 16.4 -19.6 3 -10.4 -1.4 -1.6 0 -10.4 -1.6 -1.6 0 -15 6 -7.4 0 -3 6 -9 0 -10.6 3 -4.4 6 -4.6 7.6 0 4.4 -3 12 -3 10.6 -10.4 3 0 12 -7.6z"/>
<path fill="#fdb441" d="M2503.2 -5.2l-64.4 0 0 30 -6 10.4 -3 1.6 0 6 -3 3 0 3 -1.6 1.4 -6 0 -1.4 3 -15 -1.4 -4.6 -3 -7.4 0 -16.6 9 -15 16.4 -12 19.6 -1.4 6 0 12 7.4 9 4.6 1.4 6 0 1.4 1.6 18 -1.6 31.6 -25.4 10.4 -4.6 3 -3 0 -7.4 1.6 -1.6 0 -7.4 -3 -3 0 -6 1.4 -1.6 7.6 4.6 3 0 3 3 6 1.4 10.4 10.6 4.6 13.4 0 7.6 13.4 16.4 12 6 15 -1.4zM1607.8 -5.2l0 1291.4 895.4 0 0 -36 -3 0 -12 -12 -4.4 0 -3 -3 -15 0 -3 -3 -9 0 -4.6 -4.4 -7.4 3 -3 -3 -1.6 -7.6 -3 -3 0 -4.4 -3 -1.6 -1.4 -6 1.4 -4.4 0 -16.6 1.6 -1.4 0 -9 3 -12 0 -12 7.4 -10.6 0 -7.4 4.6 -7.6 13.4 -12 7.6 -3 6 0 1.4 -1.4 27 1.4 0 -579 -7.4 1.6 -10.6 10.4 -9 0 -9 -6 -9 0 -1.4 -1.4 0 -25.6 -3 -1.4 0 -7.6 -3 -1.4 0 -4.6 -3 -1.4 0 -4.6 -6 -4.4 0 -4.6 -9 -7.4 0 -3 -13.6 1.4 -3 -3 -3 0 -19.4 -19.4 0 -3 -6 -9 0 -10.6 3 -3 0 -6 6 -3 9 -9 7.4 3 34.6 0 6 -3 1.4 -13.4 1.6 -1.6 -1.6 -6 0 -36 -3 -3 -3 -9 -4.4 -4.4 -3 0 -18 -18 -3 -1.6 -16.6 0 -30 10.6 -31.4 15 -33 9 -25.6 1.4 -1.4 1.6 -25.6 0 -1.4 -1.6 -31.6 -1.4 -1.4 -1.6 -16.6 -1.4 -1.4 -1.6 -22.6 -3 -9 -3 -7.4 0 -1.6 -1.4 -7.4 0 -9 -3 -31.6 -4.6 -7.4 -3 -6 0 -24 -6 -28.6 -9 -28.4 -13.4 -9 -6 -39 -33 -13.6 -7.6 -15 -4.4 -19.4 0 -1.6 1.4 -6 -6 -12 0 -3 3 -9 3 -21 21 -3 0 -6 6 -3 -3 0 -3 -6 -6 0 -3 -4.4 -7.4 -9 -7.6 -3 -7.4 0 -15 4.4 -10.6 9 -10.4 13.6 -9 3 0 4.4 -6 0 -22.6 3 -3 0 -6 3 -3 0 -9 3 -3 0 -6 12 -21 0 -6 3 -3 0 -15 3 -3 0 -7.4 3 -3 3 0 3 -3 19.6 0 7.4 6 0 6 3 3 1.6 9 3 3 0 3 3 3 0 3 10.4 18 0 4.4 4.6 4.6 0 7.4 10.4 10.6 15 4.4 25.6 0 1.4 -1.4 10.6 0 1.4 -1.6 15 -1.4 21 -6 12 -6 36 -24 27 -13.6 16.6 -6 4.4 0 6 -3 30 -7.4 34.6 -16.6 12 -9 25.4 -27 7.6 -13.4 7.4 -9 1.6 -15zM1871.8 1154.2l10.4 -9 16.6 -1.4 7.4 3 9 9 1.6 9 -7.6 12 -4.4 3 -10.6 1.4 -6 3 -9 -4.4 -7.4 -7.6 -1.6 -3zM2030.8 1094.2l0 4.6 -7.6 12 -10.4 0 -7.6 3 -18 0 -4.4 -4.6 0 -3 7.4 -7.4 18 -9 16.6 -1.6zM2297.8 894.8l13.4 4.4 7.6 9 3 6 0 15 -7.6 18 -9 9 -13.4 4.6 -15 -4.6 -10.6 -10.4 -4.4 -10.6 0 -25.4 6 -7.6 15 -6 12 0zM2401.2 623.2l10.6 -10.4 15 -1.6 4.4 4.6 3 12 -6 6 -7.4 0 -3 3 -7.6 0 -7.4 -6zM1853.8 627.8l-3 3 0 4.4 -7.6 7.6 -7.4 -3 -67.6 0 -6 -1.6 -4.4 -6 -4.6 0 -1.4 -3 -4.6 0 -4.4 -6 -4.6 0 -1.4 -3 -4.6 0 -7.4 -9 -4.6 0 -4.4 -6 -4.6 0 -4.4 -6 1.4 -1.4 105 0 1.6 -1.6 31.4 1.6 4.6 3zM1849.2 279.8l3 3 0 28.4 3 3 0 4.6 -4.4 4.4 46.4 28.6 18 19.4 3 9 0 13.6 -1.4 6 -7.6 13.4 -15 16.6 -13.4 9 -40.6 34.4 -22.4 13.6 -1.6 3 -4.4 0 -1.6 3 -4.4 0 -3 3 -6 0 -3 3 -6 0 -3 3 -6 0 -3 3 -13.6 3 -3 3 -6 0 -9 6 -6 0 -10.4 7.4 -4.6 0 -3 3 -3 0 -3 3 -3 0 -3 3 -3 0 -3 3 -3 0 -3 3 -15 6 -12 12 -3 0 -12 10.6 -6 0 -3 -3 -15 0 -3 -3 -6 0 -1.4 -3 10.4 -10.6 0 -3 18 -18 0 -3 18 -18 0 -3 18 -18 0 -3 60 -64.4 7.6 -19.6 13.4 -13.4 6 -10.6 0 -34.4 4.6 -4.6 0 -3 6 -9 0 -10.4 1.4 -3 10.6 -9 7.4 0 13.6 -4.6 13.4 -12 3 0 9 -6z"/>
<path fill="#fdac39" d="M2426.8 53.2l-6 -1.4 -6 4.4 -4.6 0 -1.4 3 -4.6 0 -1.4 3 -6 0 -9 9 -3 0 -19.6 19.6 0 3 -9 10.4 0 3 -3 3 0 4.6 3 0 3 3 6 0 3 3 13.6 0 3 -3 3 0 9 -9 3 0 16.4 -15 7.6 -3 4.4 -7.6zM1607.8 -5.2l0 1291.4 880.4 0 -4.4 -16.4 0 -7.6 -9 0 -3 -3 -27 0 -1.6 -1.4 1.6 -1.6 -1.6 -1.4 0 -22.6 -7.4 0 -1.6 -1.4 0 -3 -3 -1.6 0 -4.4 -3 -1.6 0 -4.4 -6 -1.6 -1.4 -6 3 -3 0 -6 3 -3 0 -9 3 -3 0 -9 3 -3 0 -10.4 3 -3 0 -9 6 -9 0 -10.6 3 -3 0 -3 9 -9 0 -3 7.4 -7.4 6 0 3 -3 12 0 3 -3 7.6 0 4.4 4.4 6 0 0 -561 -4.4 1.6 -3 4.4 -6 0 -3 -3 -10.6 -1.4 -9 -6 -9 0 -1.4 -1.6 0 -25.4 -3 -3 0 -6 -3 -3 -3 -9 -6 -6 0 -3 -9 -9 0 -3 -3 0 -3 3 -6 0 -6 -4.6 -3 0 -18 -18 0 -3 -6 -9 0 -13.4 3 -3 0 -4.6 13.4 -12 6 0 1.6 1.6 37.4 0 6 -6 0 -51 -4.4 -6 -3 -9 -3 -3 -3 0 -12 -10.6 -4.6 0 -4.4 -6 -10.6 0 -3 3 -4.4 0 -9 6 -6 0 -3 3 -3 0 -3 3 -3 0 -3 3 -3 0 -3 3 -3 0 -3 3 -3 0 -3 3 -15 6 -6 6 -9 0 -3 3 -9 0 -3 3 -9 0 -3 3 -9 0 -3 3 -18 0 -3 3 -21 0 -3 3 -37.6 0 -3 -3 -102 0 -3 -3 -6 0 -3 -3 -9 0 -3 -3 -6 0 -3 -3 -6 0 -3 -3 -6 0 -3 -3 -9 0 -3 -3 -9 0 -3 -3 -9 0 -3 -3 -6 0 -3 -3 -9 -3 -1.4 -4.4 -12 -12 0 -13.6 -3 -3 0 -18 -3 -1.4 0 -4.6 -3 -1.4 0 -4.6 -3 -1.4 0 -4.6 -6 0 -9 9 -22.6 13.6 -19.4 6 -9 0 -4.6 -1.6 -7.4 -9 -9 -3 -13.6 -10.4 -4.4 1.4 -1.6 -6 -6 -6 0 -3 -15 -15 0 -3 -4.4 -3 0 -18 3 -3 0 -6 16.4 -16.4 4.6 -3 7.4 -1.6 6 -6 0 -22.4 3 -1.6 0 -7.4 3 -1.6 0 -10.4 3 -1.6 0 -6 3 -3 0 -3 9 -15 0 -6 3 -3 0 -15 3 -3 0 -9 1.6 -1.4 3 0 3 -3 36 0 3 -3 18 0 1.4 -3 10.6 0 1.4 -3 28.6 0 3 -3 1.4 1.4 0 13.6 3 1.4 0 13.6 3 1.4 0 7.6 3 3 0 6 7.6 10.4 0 7.6 1.4 1.4 0 12 -1.4 1.6 1.4 3 10.6 0 1.4 -3 13.6 0 1.4 -3 4.6 0 7.4 -9 4.6 0 6 -6 0 -4.6 10.4 -10.4 4.6 0 4.4 -6 4.6 0 4.4 -6 4.6 0 7.4 -9 4.6 0 4.4 -6 4.6 0 1.4 -3 16.6 0 3 -3 0 -13.6 1.4 -1.4 3 1.4 0 7.6 6 6 4.6 -3 1.4 -6 6 6 6 -6 3 3 4.6 0 1.4 -3 4.6 0 1.4 -3 4.6 0 1.4 -3 7.6 0 0 -4.6 16.4 -16.4 4.6 0 1.4 -3 4.6 0 1.4 -3 4.6 0 1.4 -3 4.6 0 7.4 -9 4.6 0 9 -10.6 -10.6 0 -1.4 3 -10.6 0 -1.4 3 -7.6 0 -1.4 3 -10.6 0 -1.4 3 -10.6 0 -1.4 3 -4.6 0 -1.4 3 -7.6 0 -1.4 3 -4.6 0 -1.4 3 -4.6 0 -1.4 3 -10.6 0 -1.4 3 -19.6 0 -1.4 3 -3 0 -1.6 -1.4 0 -45zM1900.2 1140.8l3 3 7.6 0 10.4 12 0 18 -3 1.4 -1.4 6 -4.6 0 -1.4 3 -13.6 0 -3 3 0 13.6 -3 1.4 0 7.6 -3 1.4 0 13.6 -3 1.4 -1.4 -1.4 0 -37.6 -3 -3 -13.6 0 -4.4 -4.4 0 -19.6 3 -3 3 -9 4.4 -4.4 6 0 3 -3zM1964.8 1119.8l1.4 -1.6 1.6 1.6 -1.6 1.4zM1967.8 1115.2l3 -1.4 12 -15 3 0 21 -12 12 0 3 -3 9 0 7.4 10.4 -6 6 0 10.6 18 16.4 0 4.6 12 10.4 0 4.6 12 10.4 0 4.6 12 10.4 0 4.6 3 1.4 0 4.6 -1.4 1.4 -7.6 0 -1.4 3 -10.6 0 -1.4 3 -10.6 0 -1.4 3 -19.6 0 -4.4 -4.4 0 -7.6 -3 -1.4 0 -7.6 -3 -1.4 0 -7.6 -3 -1.4 0 -7.6 -3 -1.4 0 -7.6 -3 -1.4 0 -7.6 -3 -1.4 0 -7.6 -3 -1.4 0 -4.6 -3 -1.4 0 -4.6 -13.6 0 -1.4 3 -22.6 0zM2317.2 896.2l0 3 9 12 0 21 -6 10.6 0 6 -4.4 1.4 -15 15 -16.6 0 -1.4 -3 -10.6 0 -4.4 -6 -7.6 0 -1.4 3 -4.6 0 -1.4 3 -7.6 0 -1.4 3 -7.6 0 -1.4 -1.4 0 -4.6 4.4 -4.4 4.6 0 1.4 -3 4.6 0 1.4 -3 4.6 0 1.4 -3 4.6 0 0 -4.6 -3 -1.4 0 -16.6 -3 -3 0 -18 4.4 -4.4 6 0 3 -3 7.6 0 3 -3 30 0zM2440.2 605.2l0 4.6 -6 4.4 0 4.6 3 1.4 0 10.6 -1.4 1.4 -3 0 -3 3 -7.6 0 -3 3 -10.4 0 -1.6 1.6 -7.4 -6 0 -3 -3 -3 0 -4.6 7.4 -7.4 3 0 6 -6 12 0 3 -3 4.6 0 1.4 -3zM1855.2 629.2l-3 3 0 4.6 -9 9 -1.4 4.4 -31.6 0 -1.4 -3 -10.6 0 -3 -3 -15 0 -3 -3 -9 0 -1.4 -3 -4.6 0 -6 -6 -3 0 -3 -3 -3 0 -6 -6 -9 -3 -9 -9 -3 0 -6 -6 -3 0 -6 -6 -4.4 -1.4 1.4 -1.6 112.6 0 1.4 -1.4 9 0 3 -3 22.6 0 1.4 1.4 0 6 3 3zM1927.2 362.2l0 13.6 3 3 -3 3 0 10.4 -3 3 0 6 -3 3 -3 9 -24 24 -3 0 -13.4 15 -6 3 -9 9 -3 0 -18 15 -4.6 0 -6 6 -3 0 -9 6 -6 0 -9 6 -6 0 -3 3 -6 0 -3 3 -6 0 -3 3 -6 0 -3 3 -6 0 -3 3 -6 0 -3 3 -3 0 -3 3 -6 0 -9 6 -6 0 -1.4 3 -4.6 0 -1.4 3 -4.6 0 -1.4 3 -4.6 0 -1.4 3 -4.6 0 -1.4 3 -4.6 0 -1.4 3 -4.6 0 -1.4 3 -4.6 0 -10.4 12 -4.6 0 -4.4 6 -7.6 4.6 -6 0 -3 -3 -15 0 -3 -3 -6 0 -1.4 -1.6 10.4 -12 0 -3 18 -18 0 -3 18 -18 0 -3 18 -18 0 -3 25.6 -27 0 -3 6 -4.4 0 -4.6 6 -4.4 0 -4.6 6 -4.4 0 -4.6 18 -16.4 0 -4.6 3 -3 0 -6 10.4 -10.4 3 0 1.6 -4.6 6 -6 0 -33 6 -7.4 0 -3 6 -9 0 -10.6 10.4 -10.4 9 0 3 -3 4.6 0 6 -3 6 -6 7.4 -4.6 3 0 3 -3 3 0 3 -3 10.6 1.6 1.4 1.4 0 19.6 3 1.4 0 7.6 3 1.4 0 10.6 3 3 7.6 0 1.4 3 7.6 0 4.4 6 7.6 0 1.4 3 7.6 0 1.4 3 4.6 0 1.4 3 4.6 0 13.4 15 0 3z"/>
<path fill="#fca336" d="M2425.2 51.8l-4.4 0 -1.6 3 -7.4 3 -1.6 3 -4.4 0 -1.6 3 -16.4 10.4 -12 12 -6 13.6 1.4 7.4 4.6 4.6 12 1.4 9 -6 6 -1.4 15 -15 4.4 -1.6 4.6 -4.4 1.4 -12 -3 -3zM1607.8 -5.2l0 1291.4 823.4 0 0 -4.4 -7.4 -10.6 -9 -4.4 -16.6 -1.6 -1.4 -1.4 0 -7.6 3 -1.4 0 -4.6 13.4 -13.4 6 0 3 -4.6 6 0 -1.4 -7.4 -7.6 -10.6 0 -7.4 6 -13.6 0 -7.4 3 -4.6 0 -7.4 3 -3 0 -7.6 3 -4.4 0 -9 6 -9 0 -10.6 3 -3 0 -3 16.6 -19.4 7.4 -1.6 4.6 -3 9 0 3 -3 19.4 1.6 0 -549 -3 -1.6 -1.4 1.6 -9 0 -1.6 -3 -4.4 0 -1.6 -3 -7.4 0 -1.6 -3 -4.4 0 -3 -3 -7.6 0 -1.4 -1.6 0 -24 -3 -3 0 -6 -3 -3 -3 -9 -6 -6 0 -3 -9 -9 -1.6 -4.4 -4.4 3 -7.6 0 -4.4 -4.6 -3 0 -18 -18 -3 -9 -4.6 -4.4 0 -10.6 4.6 -4.4 0 -4.6 15 -13.4 3 1.4 42 0 4.4 -6 0 -48 -7.4 -12 0 -4.4 -4.6 -1.6 -13.4 -10.4 -18 -1.6 -22.6 7.6 -49.4 25.4 -3 3 -18 6 -4.6 0 -25.4 9 -6 0 -24 6 -9 0 -9 3 -15 0 -1.6 1.6 -126 0 -1.4 -1.6 -10.6 0 -1.4 -1.4 -7.6 0 -1.4 -1.6 -7.6 0 -1.4 -1.4 -24 -3 -1.6 -1.6 -9 0 -1.4 -1.4 -13.6 0 -1.4 -1.6 -36 1.6 -16.6 7.4 -6 4.6 -15 16.4 -12 16.6 -22.4 21 -13.6 9 -9 9 -12 7.4 -6 6 -4.4 1.6 -19.6 15 -24 15 -3 0 -3 3 -3 0 -3 3 -3 0 -3 3 -3 0 -3 3 -3 0 -3 3 -3 0 -3 3 -3 0 -3 3 -3 0 -3 3 -3 0 -3 3 -3 0 -3 3 -3 0 -3 3 -3 0 -7.4 4.4 -4.6 0 -3 3 -6 0 -3 3 -6 0 -9 6 -6 0 -3 3 -6 0 -9 6 -6 0 -3 3 -6 0 -3 3 -9 0 -4.4 4.6 -7.6 0 -3 -3 -15 0 -3 -3 -6 0 -1.4 -3 10.4 -10.6 0 -3 18 -18 0 -3 18 -18 0 -3 18 -18 0 -3 25.6 -27 0 -3 6 -6 0 -3 6 -6 0 -3 6 -6 0 -3 18 -18 3 -13.4 9 -9 4.4 -1.6 1.6 -4.4 6 -6 0 -33 4.4 -4.6 0 -3 6 -9 1.6 -13.4 9 -9 16.4 -3 6 -3 6 -6 6 -1.6 1.6 -3 4.4 0 1.6 -3 4.4 0 1.6 -3 12 1.6 7.4 -7.6 3 0 -1.4 -7.4 -6 -6 0 -3 -7.6 -9 -3 0 -6 -7.6 -3 0 -3 -3 1.6 -18 4.4 -12 15 -15 9 -4.4 4.6 0 6 -4.6 1.4 -22.4 3 -1.6 0 -7.4 3 -1.6 0 -10.4 3 -1.6 0 -7.4 3 -1.6 0 -4.4 3 -1.6 0 -4.4 3 -1.6 0 -4.4 3 -1.6 0 -7.4 3 -1.6 0 -16.4 3 -1.6 0 -9 -1.4 -3 -7.6 0 -1.4 -3 -13.6 0 -1.4 -3 -43.6 0 -1.4 -3 -21 0 -1.6 -1.4 0 -66zM2140.2 1161.8l-6 1.4 -1.4 3 -4.6 0 -1.4 3 -7.6 0 -1.4 3 -4.6 0 -1.4 3 -7.6 0 -1.4 3 -7.6 0 -1.4 3 -4.6 0 -1.4 3 -7.6 0 -1.4 3 -10.6 0 -1.4 3 -10.6 0 -1.4 3 -22.6 0 -1.4 3 -16.6 0 -1.4 3 -4.6 0 -10.4 12 -4.6 0 -4.4 6 -4.6 0 -4.4 6 -4.6 0 -1.4 3 -4.6 0 -1.4 3 -7.6 0 -1.4 3 -7.6 0 -1.4 3 -19.6 0 -1.4 3 -4.6 0 -1.4 -3 -25.6 0 -1.4 -3 -25.6 0 -4.4 -4.4 0 -4.6 -6 -4.4 0 -4.6 -3 -1.4 0 -6 -3 -3 0 -19.6 3 -3 3 -9 1.4 -15 6 -12 4.6 -4.4 13.4 -6 18 -1.6 1.6 -1.4 19.4 1.4 1.6 1.6 18 0 9 6 -3 -4.6 -1.6 -12 3 -7.4 7.6 -10.6 12 -12 10.4 -7.4 25.6 -9 18 -1.6 10.4 3 7.6 7.6 6 3 4.4 6 3 0 12 10.4 3 0 16.6 15 3 0 9 9 3 0 12 12 3 0 12 12 3 0zM2318.8 891.8l9 10.4 4.4 9 -1.4 21 -9 19.6 -27 22.4 -6 9 0 6 -3 3 -1.6 6 -9 0 -1.4 3 -10.6 0 -1.4 3 -4.6 0 -1.4 3 -22.6 0 -1.4 -1.4 0 -37.6 3 -3 0 -12 3 -3 0 -9 12 -19.4 1.4 -21 9 -7.6 18 -6 28.6 0zM2437.2 600.8l15 21 -4.4 4.4 -4.6 0 -6 7.6 -6 3 -4.4 0 -6 3 -7.6 0 -6 3 -9 -9 0 -3 -4.4 -6 10.4 -10.6 3 0 6 -6 7.6 0zM1858.2 624.8l-4.4 13.4 -13.6 16.6 -18 -1.6 -3 -3 -10.4 0 -3 -3 -25.6 -1.4 -3 -3 -6 0 -6 -4.6 -3 0 -6 -6 -9 -3 -6 -6 -9 -3 -9 -9 -3 0 -6 -6 -3 0 -6 -6 -4.4 -1.4 1.4 -1.6 111 0 3 -3 9 0 3 -3 24 0 6 10.6z"/>
<path fill="#fc9b33" d="M1607.8 116.2l0 1170 811.4 0 -3 -9 -4.4 -4.4 -6 -3 -4.6 0 -4.4 -4.6 0 -9 3 -3 0 -3 15 -15 4.4 0 3 -3 6 0 -6 -10.4 0 -3 -4.4 -4.6 0 -7.4 4.4 -10.6 12 -48 3 -3 3 -9 0 -7.4 3 -6 18 -19.6 4.6 0 3 -3 6 0 18 -6 10.4 1.6 0 -540 -4.4 0 -3 -4.6 -6 0 -7.6 -6 -6 0 -9 -6 -9 0 -3 -3 0 -25.4 -3 -3 0 -6 -3 -3 -3 -9 -6 -6 0 -3 -9 -9 0 -3 -3 3 -9 0 -3 -3 -3 0 -21 -21 0 -3 -6 -9 0 -10.6 3 -3 1.6 -7.4 15 -12 46.4 0 3 -4.6 0 -48 -4.4 -6 -3 -9 -3 -3 -3 0 -6 -6 -30 0 -13.6 4.6 -60 31.4 -27 9 -4.4 3 -36 10.6 -30 4.4 -1.6 1.6 -34.4 1.4 -1.6 1.6 -31.4 0 -1.6 1.4 -45 0 -1.4 1.6 -100.6 -6 -1.4 1.4 -15 0 -1.6 1.6 -12 1.4 -27 12 -33 25.6 -76.4 49.4 -28.6 22.6 -3 0 -21 12 -16.4 6 -3 3 -6 0 -3 3 -6 0 -3 3 -6 0 -3 3 -6 0 -3 3 -6 0 -1.6 3 -7.4 0 -1.6 3 -7.4 0 -1.6 3 -4.4 0 -1.6 3 -7.4 0 -1.6 3 -7.4 0 -1.6 3 -4.4 0 -1.6 3 -7.4 0 -1.6 3 -7.4 0 -1.6 3 -9 0 -3 3 -9 0 -3 -3 -15 0 -3 -3 -6 0 -1.4 -3 10.4 -10.6 0 -3 18 -18 0 -3 18 -18 0 -3 18 -18 0 -3 18 -18 1.6 -4.4 18 -22.6 0 -3 6 -6 0 -3 18 -19.4 1.4 -10.6 21 -21 1.6 -4.4 -1.6 -3 0 -25.6 6 -7.4 0 -3 6 -9 1.6 -13.6 10.4 -9 13.6 -1.4 6 -3 6 -6 7.4 -1.6 1.6 -3 4.4 0 1.6 -3 4.4 0 1.6 -3 4.4 -1.4 9 1.4 4.6 -6 3 0 0 -6 -6 -6 -3 -7.4 -6 -6 -3 0 -6 -6 -3 0 -3 -3 0 -18 4.4 -13.6 12 -13.4 15 -9 10.6 -1.6 1.4 -22.4 3 -3 0 -6 3 -3 0 -9 3 -3 0 -6 3 -3 0 -3 3 -1.6 0 -4.4 3 -1.6 0 -4.4 3 -1.6 0 -7.4 3 -1.6 0 -16.4 3 -1.6 0 -9 -3 -3 -6 0 -3 -3 -12 0 -3 -3 -42 0 -3 -3 -55.4 0 -3 3 -9 0 -3 3 -7.6 0 -1.4 3 -6 0 -3 3 -12 0 -3 3 -9 0 -3 3 -9 0 -3 3 -6 0 -3 3 -6 0 -3 3 -6 0 -3 3 -9 0 -3 3 -6 0 -3 3 -6 0 -3 3 -6 0 -3 3 -3 0 -3 3 -3 0 -3 3zM2140.2 1158.8l-1.4 4.4 -3 0 -9 6 -6 0 -9 6 -6 0 -3 3 -6 0 -3 3 -3 0 -3 3 -6 0 -3 3 -9 0 -3 3 -9 0 -3 3 -21 0 -3 3 -15 0 -3 3 -3 0 -12 12 -3 0 -15 12 -3 0 -9 6 -6 0 -3 3 -6 0 -3 3 -18 0 -3 3 -4.6 0 -3 -3 -24 0 -3 -3 -24 0 -10.4 -13.4 0 -3 -3 -3 0 -6 -3 -3 0 -21 3 -4.6 1.4 -19.4 6 -13.6 10.6 -10.4 30 -15 22.4 -3 9 -6 30 -31.6 7.6 -4.4 21 -6 27 -1.6 12 3 9 4.6 9 7.4 3 0 46.4 46.6 3 0 12 12 3 0 12 12 3 0zM2324.8 890.2l10.4 10.6 3 6 0 18 -12 25.4 -22.4 21 -3 7.6 -6 6 -3 9 -4.6 4.4 -10.4 0 -3 3 -9 0 -3 3 -3 0 -3 4.6 -22.6 0 -1.4 -1.6 0 -39 3 -3 0 -12 3 -3 0 -12 -3 -3 3 -1.4 0 -6 7.4 -9 3 -19.6 12 -10.4 21 -7.6 25.6 1.6zM2437.2 599.2l4.6 4.6 3 7.4 9 9 -3 6 -18 12 -15 4.6 -12 0 -7.6 -7.6 -4.4 -7.4 1.4 -6 16.6 -13.6 10.4 -3 6 -4.4zM1861.2 621.8l-4.4 15 -9 13.4 -7.6 6 -12 0 -6 -1.4 -3 -3 -9 0 -3 -3 -9 0 -3 -3 -16.4 0 -1.6 -3 -7.4 0 -13.6 -10.6 -3 0 -3 -3 -3 0 -6 -6 -9 -3 -9 -9 -4.4 0 -6 -6 -3 0 -9 -7.4 1.4 -1.6 109.6 0 3 -3 9 0 3 -3 25.4 -3 6 6 3 7.6zM2425.2 53.2l-4.4 0 -6 6 -25.6 18 -9 9 -4.4 10.6 0 4.4 6 7.6 10.4 0 10.6 -4.6 24 -22.4 1.4 -7.6 -3 -3 0 -9 -1.4 -1.4z"/>
<path fill="#fb9230" d="M2423.8 62.2l-3 3 -4.6 0 -1.4 3 -4.6 0 -1.4 3 -7.6 1.6 -9 6 -9 9 -3 6 0 7.4 3 4.6 9 1.4 9 -3 9 -7.4 4.6 -7.6 12 -10.4 -1.6 -15zM1607.8 117.8l0 1168.4 804 0 -3 -9 -10.6 -7.4 -1.4 -3 0 -10.6 3 -3 0 -4.4 13.4 -13.6 6 0 3 -4.4 4.6 0 -4.6 -7.6 0 -3 -6 -6 0 -7.4 6 -16.6 3 -15 7.6 -19.4 0 -6 6 -12 0 -7.6 4.4 -9 16.6 -18 12 -4.4 6 0 12 -6 13.4 -1.6 0 -517.4 -9 0 -9 -3 -7.4 -4.6 -7.6 -7.4 -3 -6 -6 -6 -3 -7.6 -3 -1.4 0 -27 -3 -3 0 -6 -3 -3 -3 -9 -6 -6 0 -3 -9 -9 0 -3 -3 3 -9 0 -3 -3 -3 0 -21 -21 0 -3 -6 -9 0 -10.6 3 -3 0 -6 12 -12 3 -1.4 46.6 0 4.4 -4.6 0 -46.4 -1.4 -4.6 -3 -1.4 0 -4.6 -3 -1.4 0 -4.6 -3 -3 -6 -1.4 -34.6 0 -6 1.4 -22.4 10.6 -16.6 10.4 -57 27 -33 12 -30 7.6 -27 3 -1.4 1.4 -49.6 3 -1.4 1.6 -21 0 -1.6 1.4 -109.4 0 -1.6 1.6 -25.4 1.4 -18 4.6 -19.6 7.4 -24 12 -3 3 -66 34.6 -18 12 -25.4 24 -4.6 0 -9 6 -9 0 -3 3 -7.4 0 -7.6 4.4 -4.4 0 -3 3 -6 0 -3 3 -6 0 -3 3 -6 0 -3 3 -6 0 -10.6 6 -6 0 -3 3 -6 0 -9 6 -6 0 -3 3 -6 0 -9 6 -6 0 -3 3 -6 0 -3 3 -9 0 -3 3 -1.4 -1.4 -9 0 -1.6 -3 -16.4 0 -1.6 -3 -7.4 0 -1.6 -3 12 -10.6 0 -4.4 18 -16.6 0 -4.4 18 -16.6 0 -4.4 18 -16.6 0 -4.4 18 -16.6 0 -3 7.6 -7.4 0 -3 6 -6 0 -3 6 -6 0 -3 6 -6 0 -3 16.4 -16.6 3 -13.4 10.6 -10.6 4.4 -1.4 0 -3 6 -6 0 -33 10.6 -16.6 1.4 -13.4 3 -4.6 7.6 -6 18 -3 10.4 -9 4.6 0 3 -3 9 -3 4.4 -4.4 10.6 1.4 9 -7.4 0 -4.6 -6 -4.4 0 -4.6 -9 -9 -4.6 0 -1.4 -3 -4.6 0 -7.4 -9 0 -18 7.4 -16.4 15 -15 12 -6 10.6 0 1.4 -21 3 -3 0 -6 3 -3 0 -9 3 -3 0 -6 3 -3 0 -3 9 -15 0 -6 3 -3 0 -15 3 -3 0 -6 -4.4 -4.6 -6 0 -3 -3 -12 0 -3 -3 -40.6 0 -3 -3 -55.4 0 -3 3 -9 0 -3 3 -6 0 -10.6 6 -12 0 -4.4 4.6 -9 0 -3 3 -9 0 -3 3 -6 0 -3 3 -6 0 -3 3 -6 0 -3 3 -9 0 -3 3 -6 0 -3 3 -6 0 -3 3 -6 0 -3 3 -3 0 -3 3 -3 0 -3 3zM1853.8 1205.2l-1.6 -21 3 -3 1.6 -25.4 6 -13.6 12 -13.4 22.4 -18 7.6 -13.6 13.4 -16.4 15 -13.6 15 -10.4 10.6 0 1.4 1.4 61.6 -1.4 12 3 15 7.4 9 7.6 3 0 4.4 6 3 0 12 10.4 3 0 6 6 3 0 7.6 9 3 0 9 9 3 0 27 24 4.4 0 3 3 0 4.6 -3 3 0 9 -6 1.4 -1.4 3 -3 0 -9 6 -6 0 -9 6 -6 0 -3 3 -6 0 -9 6 -6 0 -3 3 -9 0 -3 3 -9 0 -3 3 -21 0 -3 3 -15 0 -3 3 -3 0 -12 12 -3 0 -15 12 -3 0 -9 6 -6 0 -3 3 -6 0 -3 3 -18 0 -3 3 -4.6 0 -3 -3 -24 0 -3 -3 -24 0 -10.4 -13.4 0 -3 -3 -3 0 -4.6zM2336.8 888.8l10.4 12 -1.4 22.4 -13.6 25.6 -27 27 -3 10.4 0 7.6 -4.4 4.4 -21 0 -3 3 -9 0 -3 3 -3 0 -3 4.6 -22.6 0 -1.4 -1.6 0 -40.4 3 -3 0 -12 3 -3 0 -9 -3 -3 0 -3 3 -3 0 -9 3 -3 3 -18 3 -6 12 -10.6 22.4 -9 19.6 1.6zM2434.2 593.2l3 3 -1.4 1.6 7.4 6 0 3 10.6 12 0 6 -7.6 7.4 -12 7.6 -13.4 4.4 -15 0 -9 -9 0 -3 -4.6 -7.4 12 -12 24 -13.6zM1864.2 620.2l-4.4 15 -9 15 -9 7.6 -13.6 0 -3 -3 -4.4 0 -1.6 -3 -10.4 0 -3 -3 -9 0 -3 -3 -15 0 -3 -3 -7.6 0 -13.4 -10.6 -9 -3 -6 -6 -9 -3 -9 -9 -3 0 -13.6 -10.4 -3 0 -1.4 -4.6 1.4 -1.4 109.6 0 3 -3 9 0 3 -3 18 -1.6 4.4 -3 4.6 0 7.4 7.6 3 6z"/>
<path fill="#fa8a2d" d="M2423.8 63.8l-3 3 -3 0 -1.6 3 -4.4 0 -6 6 -15 7.4 -7.6 10.6 0 7.4 6 4.6 9 -1.6 6 -3 6 -6 3 -6 13.6 -13.4 -3 -6zM1607.8 117.8l0 1168.4 799.4 0 -1.4 -6 -6 -6 -6 -1.4 0 -4.6 3 -3 0 -10.4 3 -3 0 -3 13.4 -13.6 4.6 0 3 -4.4 -6 -15 0 -9 9 -27 0 -4.6 7.4 -18 0 -6 6 -12 0 -6 3 -9 21 -22.4 12 -4.6 4.6 0 19.4 -9 6 0 0 -483 -24 0 -10.4 3 -13.6 12 1.6 7.6 -9 7.4 -4.6 0 -10.4 7.6 -13.6 4.4 -13.4 -1.4 -9 -9 -4.6 -9 1.6 -6 9 -9 4.4 -1.6 16.6 -13.4 7.4 -3 0 -3 -10.4 -10.6 -1.6 -9 3 -3 4.6 0 9 -4.4 4.4 -7.6 0 -3 3 -3 0 -4.4 6 -6 3 0 3 -3 0 -27 -3 -1.6 0 -7.4 -3 -1.6 0 -4.4 -3 -1.6 0 -4.4 -6 -4.6 0 -4.4 -9 -7.6 0 -4.4 -3 3 -9 0 -3 -3 -3 0 -21 -21 0 -3 -6 -9 0 -10.6 3 -3 0 -6 16.6 -15 45 0 4.4 -4.4 0 -45 -1.4 -4.6 -13.6 0 -1.4 -3 -7.6 0 -1.4 -3 -7.6 0 -6 -6 -9 -1.4 -21 7.4 -37.4 22.6 -60 30 -33 12 -39 9 -28.6 3 -1.4 1.4 -12 0 -1.6 1.6 -12 0 -1.4 1.4 -52.6 3 -1.4 1.6 -69 1.4 -1.6 1.6 -28.4 1.4 -1.6 1.6 -7.4 0 -31.6 7.4 -63 24 -42 21 -16.4 16.6 1.4 31.4 1.6 1.6 0 10.4 3 3 1.4 27 9 9 7.6 15 0 13.6 -1.6 1.4 -1.4 12 -12 24 -7.6 7.6 -6 3 -7.4 0 -3 -3 -3 0 -7.6 -4.6 -9 0 -3 -3 -9 0 -3 -3 -16.4 0 -3 -3 -4.6 0 -6 -4.4 -3 0 -6 -6 -9 -3 -6 -6 -9 -3 -9 -9 -3 0 -6 -6 -3 0 -6 -6 -3 0 -4.4 -7.6 -4.6 0 -4.4 -6 -4.6 0 -4.4 -6 -4.6 0 -4.4 -6 -4.6 0 -4.4 -6 -15 -1.4 -1.6 -3 -16.4 0 -1.6 -3 -7.4 0 -1.6 -3 12 -10.6 0 -4.4 18 -16.6 0 -4.4 18 -16.6 0 -4.4 18 -16.6 0 -4.4 18 -16.6 0 -3 6 -6 0 -3 6 -6 0 -3 6 -6 0 -3 6 -6 0 -3 18 -18 0 -6 3 -7.4 19.6 -19.6 1.4 -3 -1.4 -27 1.4 -6 10.6 -16.4 1.4 -13.6 9 -9 18 -3 9 -6 1.6 -3 6 0 3 -3 9 -3 4.4 -4.4 10.6 0 4.4 -6 -28.4 -27 -3 -7.6 0 -19.4 9 -18 13.4 -13.6 18 -9 4.6 -4.4 3 0 1.4 -12 3 -3 0 -6 3 -3 0 -9 3 -3 0 -6 3 -3 0 -3 9 -15 0 -6 3 -3 0 -15 3 -3 0 -6 -3 -3 -6 0 -3 -3 -12 0 -3 -3 -34.4 0 -1.6 -1.6 -7.4 0 -3 -3 -52.6 0 -3 3 -9 0 -3 3 -6 0 -3 3 -4.4 0 -6 4.6 -12 0 -3 3 -9 0 -3 3 -9 0 -1.6 3 -7.4 0 -1.6 3 -7.4 0 -1.6 3 -6 0 -3 3 -10.4 0 -1.6 3 -7.4 0 -1.6 3 -7.4 0 -1.6 3 -7.4 0 -1.6 3 -4.4 0 -1.6 3 -4.4 0 -1.6 3 -4.4 0 -1.6 3 -4.4 0 -1.6 3zM2291.8 1095.8l0 7.4 -3 6 0 6 -4.6 4.6 -10.4 4.4 -1.6 3 -4.4 0 -19.6 18 -7.4 3 -12 12 -3 0 -3 3 -3 0 -3 3 -3 0 -3 3 -3 0 -21 12 -3 -3 -7.6 0 -1.4 -3 -4.6 0 -1.4 -3 -4.6 0 -1.4 -3 -4.6 0 -4.4 -6 -4.6 0 -1.4 -3 -6 0 -15 9 -6 0 -9 6 -6 0 -3 3 -6 0 -3 3 -3 0 -3 3 -6 0 -3 3 -9 0 -3 3 -9 0 -3 3 -21 0 -3 3 -15 0 -3 3 -3 0 -12 12 -3 0 -6 6 -3 0 -6 6 -3 0 -9 6 -6 0 -3 3 -6 0 -3 3 -18 0 -3 3 -4.6 0 -3 -3 -24 0 -3 -3 -25.4 0 -3 -3 0 -3 -6 -6 0 -3 -3 -3 0 -4.4 -4.6 -6 0 -21 3 -3 -1.4 -22.6 7.4 -19.4 28.6 -33 15 -22.6 21 -21 10.4 -7.4 13.6 -6 22.4 -1.6 1.6 -1.4 15 0 1.4 -1.6 22.6 0 25.4 6 12 6 16.6 12 46.4 46.6 3 0 27 24 3 0 0 -3 3 -3 0 -4.6 4.6 -3 0 -3 6 -6 0 -3 6 -6 0 -3 6 -6 0 -3 9 -9 0 -3 12 -12 0 -3 3 -1.4 0 -4.6 6 -4.4 0 -4.6 3 -1.4 0 -4.6 3 -1.4 0 -4.6 6 -4.4 0 -4.6 4.4 -3 4.6 1.6 6 6 3 0 6 6 3 0 6 6 3 0 6 6 3 0 4.4 4.4 1.6 4.6 12 7.4 10.4 15 0 3zM2471.8 857.2l0 4.6 -3 3 -36 16.4 -4.6 0 -10.4 4.6 -4.6 0 -43.4 13.4 -7.6 7.6 -7.4 16.4 -13.6 21 -12 13.6 -18 15 -3 9 -4.4 6 0 7.4 -4.6 3 -22.4 0 -3 3 -7.6 0 -10.4 7.6 -22.6 0 -3 -3 0 -37.6 3 -3 0 -12 3 -3 0 -6 1.6 -1.4 0 -3 -4.6 -6 3 -1.6 0 -10.4 3 -9 0 -12 4.6 -9 15 -13.6 15 -7.4 3 0 12 -7.6 16.4 1.6 13.6 4.4 6 0 9 3 10.4 0 10.6 3 30 1.6 25.4 -6 7.6 0 7.4 -3 7.6 0 4.4 -3 9 -1.6 4.6 -3 6 0 9 -4.4zM2488.2 681.8l0 3 -13.4 10.4 -3 0 -3 3 -4.6 0 -12 7.6 -4.4 0 -3 3 -4.6 0 -3 3 -12 3 -3 3 -4.4 0 -15 7.4 -13.6 10.6 -3 0 -6 6 -3 0 -34.4 27 -6 1.4 -3 -3 6 -10.4 0 -4.6 -3 -3 7.4 -7.4 4.6 0 6 -6 0 -4.6 3 -1.4 1.4 -4.6 6 1.6 1.6 3 10.4 -1.6 37.6 -22.4 66 -25.6 6 0z"/>
<path fill="#f8812c" d="M2423.8 65.2l-15 13.6 -13.6 4.4 -7.4 7.6 -3 9 7.4 4.4 1.6 -1.4 6 0 7.4 -4.6 4.6 -7.4 0 -4.6 12 -12zM1607.8 117.8l0 1168.4 795 0 -1.6 -7.4 -7.4 -6 0 -4.6 3 -4.4 -1.6 -1.6 0 -6 3 -3 0 -3 15 -15 6 -1.4 0 -6 -6 -9 0 -13.6 7.6 -25.4 4.4 -9 0 -4.6 4.6 -9 0 -4.4 6 -12 0 -6 3 -9 21 -24 15 -6 4.4 0 7.6 -6 9 -4.6 7.4 -1.4 0 -447 -12 0 -18 -6 -15 -1.6 -27 16.6 -16.4 4.4 -9 -3 -9 -9 -4.6 -9 0 -6 36 -33 -9 -10.4 0 -9 13.6 -9 10.4 -12 0 -4.6 6 -6 3 0 3 -3 0 -25.4 -3 -1.6 0 -7.4 -3 -1.6 0 -4.4 -3 -1.6 0 -4.4 -6 -4.6 0 -4.4 -9 -7.6 0 -3 -12 1.6 -3 -3 -3 0 -21 -21 0 -3 -6 -9 0 -12 3 -1.6 0 -6 4.6 -6 10.4 -9 6 -1.4 42 0 3 -3 0 -45 -4.4 -4.6 -12 0 -3 -3 -13.6 -1.4 -7.4 -6 -7.6 0 -24 10.4 -18 12 -27 13.6 -28.4 18 -31.6 16.4 -43.4 15 -33 6 -1.6 1.6 -48 6 -1.4 1.4 -10.6 0 -1.4 1.6 -43.6 3 -1.4 1.4 -16.6 0 -1.4 1.6 -60 3 -1.6 1.4 -12 0 -1.4 1.6 -28.6 3 -60 15 -30 10.4 -18 9 -12 9 -4.4 7.6 -1.6 10.4 1.6 1.6 1.4 24 3 6 3 16.4 3 9 13.6 21 1.4 15 -4.4 18 -12 24 -10.6 10.6 -6 3 -7.4 0 -3 -4.6 -4.6 0 -1.4 -3 -4.6 0 -1.4 -3 -10.6 0 -1.4 -3 -10.6 0 -1.4 -3 -16.6 0 -1.4 -3 -4.6 0 -6 -4.4 -3 0 -6 -6 -3 0 -3 -3 -3 0 -6 -6 -9 -3 -9 -9 -3 0 -6 -6 -3 0 -6 -6 -3 0 -6 -7.6 -3 0 -6 -6 -3 0 -6 -6 -3 0 -15 -12 -13.4 -1.4 -1.6 -3 -16.4 0 -1.6 -3 -7.4 0 -1.6 -3 12 -12 0 -3 18 -18 0 -3 18 -18 0 -3 18 -18 0 -3 24 -25.6 0 -3 6 -6 0 -3 6 -6 0 -3 6 -6 0 -3 18 -19.4 0 -6 3 -7.6 10.6 -10.4 4.4 -1.6 0 -3 6 -6 -1.4 -6 0 -22.4 1.4 -6 9 -13.6 3 -9 0 -7.4 7.6 -7.6 4.4 0 6 -3 9 0 1.6 -3 4.4 -1.4 4.6 -4.6 4.4 0 18 -10.4 -6 -10.6 0 -3 -3 -3 0 -3 -3 -3 0 -4.4 -3 -1.6 -4.4 -9 0 -7.4 -1.6 -1.6 1.6 -15 6 -13.4 15 -16.6 7.4 -6 22.6 -9 0 -9 3 -3 0 -6 3 -3 0 -9 3 -3 0 -6 7.4 -10.4 0 -3 6 -9 0 -6 3 -3 0 -15 3 -3 0 -4.6 -3 -4.4 -7.4 0 -1.6 -3 -13.4 0 -1.6 -3 -42 0 -3 -3 -55.4 0 -3 3 -9 0 -3 3 -6 0 -3 3 -6 0 -1.6 3 -13.4 0 -1.6 3 -10.4 0 -1.6 3 -9 0 -3 3 -6 0 -3 3 -6 0 -3 3 -6 0 -4.4 4.4 -1.6 -1.4 -6 0 -3 3 -6 0 -3 3 -6 0 -3 3 -6 0 -3 3 -3 0 -21 12zM2293.2 1094.2l-1.4 18 -7.6 10.6 -10.4 6 -4.6 0 -3 3 -3 0 -15 15 -7.4 3 -10.6 10.4 -4.4 0 -3 3 -3 0 -3 3 -3 0 -3 3 -3 0 -21 12 -4.6 -3 -6 0 -3 -3 -15 -6 -6 -6 -3 0 -3 -3 -4.4 0 -1.6 3 -3 0 -9 6 -6 0 -9 6 -6 0 -3 3 -6 0 -3 3 -3 0 -3 3 -6 0 -3 3 -9 0 -3 3 -9 0 -3 3 -21 0 -3 3 -15 0 -3 3 -3 0 -12 12 -3 0 -6 6 -3 0 -6 6 -3 0 -9 6 -6 0 -3 3 -6 0 -3 3 -18 0 -3 3 -7.4 0 -3 -3 -24 0 -3 -3 -24 0 -10.6 -13.4 0 -3 -3 -3 0 -6 -3 -3 1.6 -30 -3 -3 0 -10.6 4.4 -18 10.6 -19.4 33 -48 22.4 -22.6 19.6 -12 18 -6 24 -3 1.4 -1.4 36 0 16.6 4.4 15 7.6 27 21 3 0 4.4 4.4 3 0 4.6 6 4.4 0 4.6 6 3 0 9 9 3 0 10.4 10.6 3 6 6 4.4 0 4.6 6 4.4 0 4.6 3 3 6 0 1.6 -1.6 0 -3 6 -6 0 -3 6 -6 0 -3 6 -6 0 -3 9 -9 0 -3 12 -12 3 -9 6 -6 6 -15 6 -6 0 -3 4.4 -6 4.6 1.6 6 6 3 0 6 6 3 0 6 6 3 0 6 6 3 0 9 6 16.4 18zM2473.2 857.2l0 7.6 -6 6 -12 7.4 -31.4 15 -30 10.6 -21 12 -25.6 30 -34.4 30 -3 7.4 -4.6 4.6 0 6 -4.4 4.4 -22.6 0 -3 3 -9 0 -3 3 -3 0 -4.4 6 -22.6 0 -3 -3 0 -39 3 -3 0 -12 3 -3 0 -10.4 -3 -3 0 -3 3 -3 -1.4 -31.6 4.4 -10.4 12 -12 9 -6 28.6 -13.6 25.4 0 1.6 1.6 40.4 3 1.6 1.4 72 -1.4 1.4 -1.6 25.6 -3 7.4 -3 6 0zM2489.8 680.2l0 4.6 -15 12 -3 0 -18 10.4 -3 0 -45 21 -28.6 18 -31.4 24 -9 3 -4.6 -4.4 1.6 -16.6 10.4 -10.4 3 0 7.6 -7.6 4.4 -12 16.6 -1.4 49.4 -30 45 -21 7.6 0 6 3z"/>
<path fill="#f6782b" d="M2410.2 86.2l-3 -3 -12 3 -4.4 4.6 -3 6 0 4.4 1.4 1.6 12 -1.6 9 -9zM1607.8 119.2l0 1167 793.4 0 -3 -7.4 -4.4 -4.6 1.4 -18 3 -3 0 -3 12 -13.4 7.6 -3 0 -6 -7.6 -12 1.6 -12 7.4 -24 4.6 -9 0 -4.6 4.4 -7.4 1.6 -9 4.4 -7.6 4.6 -19.4 18 -19.6 10.4 -6 12 -3 15 -12 9 -3 0 -412.4 -3 0 -6 4.4 -3 6 0 6 -6 7.6 -4.4 0 -4.6 6 -4.4 0 -1.6 3 -10.4 4.4 -15 10.6 -3 0 -43.6 22.4 -33 21 -21 16.6 -4.4 1.4 -6 -1.4 -4.6 -6 0 -6 3 -6 0 -4.6 22.6 -19.4 0 -3 3 -3 0 -4.6 3 -3 4.4 0 1.6 -3 13.4 -4.4 40.6 -30 25.4 -13.6 13.6 -12 3 -6 0 -7.4 -3 -7.6 -4.6 -4.4 -12 10.4 -16.4 9 -16.6 1.6 -6 -3 -6 -6 -7.4 -15 3 -7.6 21 -19.4 1.4 -4.6 9 -9 -6 -6 -1.4 -6 1.4 -7.4 12 -9 10.6 -10.6 3 -6 10.4 -6 0 -24 -3 -3 0 -6 -3 -3 -3 -9 -6 -6 0 -3 -9 -9 0 -3 -3 1.6 -10.4 0 -1.6 -3 -3 0 -21 -19.6 0 -4.4 -3 -1.6 0 -4.4 -3 -1.6 0 -13.4 3 -1.6 0 -7.4 16.6 -15 45 0 3 -1.6 1.4 -3 0 -42 -3 -4.4 -12 0 -3 -3 -7.4 0 -1.6 -3 -7.4 0 -4.6 -3 -13.4 1.4 -22.6 12 -19.4 13.6 -24 12 -45 31.4 -24 12 -15 4.6 -4.6 3 -37.4 10.4 -6 0 -7.6 3 -15 1.6 -9 3 -25.4 3 -1.6 1.4 -9 0 -1.4 1.6 -9 0 -1.6 1.4 -9 0 -12 3 -10.4 0 -1.6 1.6 -10.4 0 -1.6 1.4 -30 1.6 -1.4 1.4 -22.6 0 -1.4 1.6 -22.6 0 -1.4 1.4 -21 0 -1.6 1.6 -39 3 -1.4 1.4 -7.6 0 -1.4 1.6 -7.6 0 -1.4 1.4 -27 4.6 -31.6 13.4 -9 9 -3 6 0 21 10.6 33 16.4 27 1.6 18 -6 18 -16.6 30 -13.4 10.6 -4.6 1.4 -18 0 -3 -3 -6 0 -15 -9 -6 0 -3 -3 -3 0 -6 -6 -3 0 -9 -7.4 -3 0 -6 -6 -3 0 -3 -3 -3 0 -6 -6 -9 -3 -9 -9 -3 0 -6 -6 -3 0 -6 -6 -3 0 -7.4 -7.6 -3 0 -6 -6 -3 0 -6 -6 -3 0 -15 -12 -12 -1.4 -3 -3 -15 0 -3 -3 -6 0 -1.6 -3 12 -12 0 -3 18 -18 0 -3 18 -18 0 -3 18 -18 0 -3 18 -18 0 -3 6 -4.6 0 -4.4 6 -4.6 0 -4.4 6 -4.6 0 -4.4 6 -4.6 0 -4.4 16.6 -16.6 4.4 -16.4 7.6 -7.6 6 -3 1.4 -4.4 3 -1.6 1.6 -3 -1.6 -27 6 -15 6 -7.4 3 -16.6 6 -6 21 -4.4 1.6 -3 3 0 4.4 -4.6 7.6 -1.4 15 -9 -4.6 -1.6 -4.4 -6 0 -3 -3 -3 0 -3 -3 -3 0 -4.4 -6 -10.6 -1.6 -6 0 -19.4 1.6 -6 13.4 -19.6 16.6 -15 12 -6 12 -1.4 0 -9 3 -3 0 -6 3 -3 0 -9 3 -3 0 -6 6 -7.6 0 -3 6 -9 0 -6 3 -3 0 -15 3 -3 0 -7.4 -3 -3 -6 0 -3 -3 -12 0 -3 -3 -40.6 0 -3 -3 -55.4 0 -3 3 -9 0 -3 3 -6 0 -10.6 6 -12 0 -3 3 -9 0 -3 3 -9 1.4 -3 3 -6 0 -3 3 -6 0 -3 3 -6 0 -1.4 3 -10.6 0 -3 3 -6 0 -3 3 -6 0 -3 3 -6 0 -3 3 -3 0 -21 12zM2477.8 858.8l-1.6 9 -9 9 -30 19.4 -51 24 -16.4 12 -24 22.6 -25.6 16.4 -4.4 4.6 -3 12 -7.6 10.4 -28.4 1.6 -3 3 -9 0 -7.6 4.4 0 4.6 18 16.4 0 4.6 6 4.4 -3 12 -3 1.6 0 6 12 18 7.6 15 1.4 15 -4.4 13.4 -7.6 7.6 -6 3 -3 4.4 -4.4 0 -3 3 -9 3 -13.6 10.6 -3 0 -10.4 10.4 -6 1.6 -3 3 -7.6 1.4 -3 3 -3 0 -21 12 -3 0 -3 -3 -6 0 -3 -3 -15 -6 -6 -6 -9 -3 -4.4 4.6 -3 0 -9 6 -6 0 -9 6 -6 0 -3 3 -6 0 -3 3 -3 0 -3 3 -6 0 -3 3 -9 0 -3 3 -9 0 -3 3 -21 0 -3 3 -15 0 -3 3 -3 0 -12 12 -3 0 -15 12 -3 0 -9 6 -6 0 -3 3 -6 0 -3 3 -18 0 -3 3 -4.6 0 -3 -3 -24 0 -3 -3 -24 0 -12 -15 0 -3 -3 -3 0 -6 -3 -1.6 0 -21 -1.4 -1.4 0 -7.6 -3 -4.4 3 -24 6 -18 19.4 -37.6 16.6 -25.4 15 -16.6 22.4 -16.4 28.6 -12 25.4 -6 9 0 1.6 -1.6 28.4 0 18 4.6 15 9 18 18 10.6 4.4 3 3 3 0 13.4 12 0 4.6 9 7.4 0 4.6 6 4.4 0 3 10.6 10.6 1.4 4.4 6 6 0 3 6 6 0 3 4.6 4.6 3 0 3 -3 0 -3 6 -6 0 -3 6 -6 0 -3 6 -6 0 -3 9 -9 0 -3 12 -12 0 -3 3 -3 0 -3 6 -6 6 -15 6 -6 0 -3 9 -10.6 0 -3 7.4 -7.4 0 -40.6 3 -3 0 -12 3 -3 0 -10.4 -4.4 -6 3 -3 0 -9 1.4 -1.6 -4.4 -4.4 -3 -19.6 4.4 -10.4 10.6 -10.6 36 -22.4 12 -3 12 0 1.4 -1.6 31.6 0 1.4 1.6 16.6 0 1.4 1.4 52.6 1.6 1.4 1.4 16.6 0 1.4 1.6 43.6 -3zM1748.8 171.8l1.4 6 3 1.4 0 7.6 -3 1.4 0 4.6 -3 1.4 0 4.6 -6 1.4 -1.4 3 -7.6 0 -3 3 -1.4 -6 -3 -1.4 0 -4.6 -3 -1.4 0 -4.6 -3 -3 4.4 -4.4 4.6 0 1.4 -3 4.6 0 1.4 -3 4.6 0 1.4 -3z"/>
<path fill="#f46f2a" d="M2408.8 89.2l-3 -3 -9 1.6 -9 12 1.4 1.4 10.6 0 7.4 -6zM1607.8 138.8l0 1147.4 790.4 0 -1.4 -7.4 -3 -4.6 1.4 -18 3 -3 0 -4.4 16.6 -15 0 -3 -6 -9 1.4 -19.6 6 -15 0 -4.4 6 -10.6 0 -6 3 -3 3 -12 6 -10.4 0 -7.6 3 -4.4 0 -4.6 22.6 -24 3 0 9 -6 6 0 19.4 -21 6 -1.4 0 -394.6 -9 3 -10.4 12 -3 0 -6 6 -3 0 -9 7.6 -3 0 -12 10.4 -18 7.6 -24 15 -13.6 6 -12 9 -10.4 4.4 -6 6 -24 16.6 -6 0 -6 -6 -1.6 -10.6 1.6 -4.4 4.4 -4.6 0 -3 12 -12 3 0 6 -6 0 -3 4.6 -7.4 0 -12 1.4 -1.6 9 0 18 -9 22.6 -24 33 -19.4 10.4 -12 1.6 -10.6 -1.6 0 -1.4 3 -18 12 -15 6 -6 0 -13.6 -12 -7.4 -13.4 0 -6 4.4 -7.6 15 -12 3 -4.4 1.6 -9 7.4 -4.6 -4.4 -6 -1.6 -12 10.6 -13.4 3 0 4.4 -6 12 -7.6 1.6 -3 4.4 0 3 -4.4 0 -22.6 -3 -3 0 -6 -3 -3 -3 -9 -6 -6 0 -3 -9 -9 0 -3 -4.4 3 -9 -1.4 -1.6 -3 -4.4 0 -19.6 -19.6 0 -4.4 -3 -1.6 0 -4.4 -3 -1.6 0 -13.4 3 -1.6 0 -7.4 15 -15 4.6 -1.6 43.4 0 3 -4.4 0 -39 -3 -6 -13.4 0 -3 -3 -15 -1.6 -1.6 -1.4 -16.4 1.4 -9 4.6 -27 19.4 -31.6 16.6 -33 28.4 -21 13.6 -25.4 12 -30 10.4 -30 7.6 -6 0 -7.6 3 -6 0 -31.4 7.4 -7.6 0 -9 3 -7.4 0 -9 3 -34.6 4.6 -1.4 1.4 -25.6 1.6 -1.4 1.4 -121.6 0 -1.4 1.6 -15 0 -1.6 1.4 -19.4 1.6 -27 10.4 -9 9 -3 6 0 18 9 24 6 10.6 10.4 12 6 12 1.6 16.4 -1.6 6 -12 22.6 0 3 -4.4 4.4 -1.6 6 -7.4 12 -15 12 -6 1.6 -12 -1.6 -7.6 -4.4 -6 0 -15 -9 -6 0 -12 -10.6 -3 0 -7.4 -4.4 -1.6 -3 -4.4 0 -4.6 -6 -4.4 0 -1.6 -3 -4.4 0 -4.6 -6 -4.4 0 -1.6 -3 -4.4 0 -7.6 -9 -4.4 0 -4.6 -6 -4.4 0 -4.6 -6 -4.4 0 -4.6 -6 -3 0 -6 -6 -3 0 -6 -6 -3 0 -15 -12 -3 0 -3 -3 -7.4 0 -3 -3 -15 0 -3 -3 -6 0 -1.6 -3 12 -12 0 -3 18 -18 0 -3 18 -18 0 -3 18 -18 0 -3 18 -18 0 -3 6 -4.6 0 -4.4 6 -4.6 0 -4.4 6 -4.6 0 -4.4 6 -4.6 0 -4.4 6 -4.6 10.6 -13.4 0 -6 3 -7.6 21 -21 -1.6 -6 0 -22.4 3 -9 7.6 -10.6 4.4 -19.4 7.6 -6 4.4 0 6 -3 7.6 0 3 -6 6 0 1.4 -3 7.6 0 1.4 -3 4.6 0 1.4 -3 4.6 0 0 -3 -4.6 -1.6 0 -3 -7.4 -9 0 -3 -7.6 -10.4 -3 -7.6 0 -10.4 -1.4 -1.6 1.4 -19.4 4.6 -9 31.4 -31.6 7.6 -4.4 15 1.4 0 -9 3 -1.4 0 -6 3 -3 0 -9 3 -3 0 -6 3 -3 0 -3 9 -15 0 -6 3 -3 0 -15 3 -3 0 -6 -3 -3 -6 0 -3 -3 -12 0 -3 -3 -40.6 0 -3 -3 -55.4 0 -3 3 -9 0 -3 3 -6 0 -10.6 6 -12 0 -4.4 4.4 -7.6 0 -3 3 -6 0 0 3 13.6 21 3 9 3 1.6 0 4.4 3 1.6 0 4.4 3 1.6 0 4.4 3 1.6 0 4.4 3 1.6 0 4.4 3 1.6 3 7.4 7.4 7.6 7.6 15 -1.6 10.4 -6 10.6 -4.4 4.4 -15 6 -4.6 0 -25.4 -25.4 -4.6 0 -3 -3 -3 0 -3 -3 -3 0 -3 -3 -3 0 -3 -3 -3 0 -3 -3 -3 0 -3 -3 -3 0 -3 -3 -3 0 -3 -3 -3 0 -3 -3 -3 0 -3 -3 -3 0 -3 -3 -3 0 -21 -12zM2483.8 857.2l1.4 4.6 -1.4 6 -40.6 34.4 -22.4 13.6 -31.6 15 -52.4 36 -16.6 7.4 -4.4 12 -6 6 0 3 -3 3 -30 1.6 -3 3 -9 0 -3 3 -3 0 -1.6 4.4 18 18 0 3 9 9 0 10.6 -3 3 0 6 15 27 3 15 -6 18 -10.4 10.4 -7.6 4.6 -3 0 -3 3 -3 0 -3 3 -3 0 -3 3 -3 0 -9 7.4 -3 0 -12 10.6 -4.4 0 -3 3 -3 0 -3 3 -3 0 -21 12 -9 1.4 -3 -3 -6 0 -3 -3 -15 -6 -6 -6 -7.6 -3 -4.4 4.6 -3 0 -9 6 -6 0 -9 6 -6 0 -3 3 -6 0 -3 3 -3 0 -3 3 -6 0 -3 3 -9 0 -3 3 -9 0 -3 3 -21 0 -3 3 -15 0 -3 3 -3 0 -12 12 -3 0 -15 12 -3 0 -9 6 -6 0 -3 3 -6 0 -3 3 -18 0 -3 3 -4.6 0 -3 -3 -24 0 -3 -3 -24 0 -12 -15 0 -3 -3 -3 0 -6 -3 -1.6 0 -18 -3 -9 -4.4 -6 0 -10.4 3 -6 0 -12 10.4 -33 7.6 -15 0 -3 19.4 -36 16.6 -18 24 -18 33 -15 39 -10.6 7.4 0 1.6 -1.4 34.4 0 13.6 4.4 13.4 10.6 7.6 13.4 3 12 3 4.6 24 24 0 4.4 9 9 0 3 22.4 28.6 0 3 6 6 0 3 4.6 4.4 4.4 0 0 -3 6 -6 0 -3 6 -6 0 -3 6 -6 0 -3 9 -9 0 -3 12 -12 3 -9 6 -6 6 -15 6 -6 3 -7.4 15 -18 0 -42 3 -1.6 0 -13.4 3 -1.6 0 -10.4 -4.4 -6 -1.6 -15 -10.4 -21 0 -6 1.4 -4.6 13.6 -13.4 42 -28.6 12 -3 10.4 0 18 -6 51 3 1.6 1.6 24 0 42 10.4 18 0 1.4 1.6 1.6 -1.6 19.4 0z"/>
<path fill="#f16629" d="M2219.8 909.8l-7.6 1.4 -12 12 0 4.6 -3 1.4 0 4.6 -6 4.4 0 4.6 -6 4.4 0 4.6 -6 4.4 0 4.6 -9 7.4 0 4.6 -6 4.4 0 4.6 -15 13.4 0 4.6 -4.4 4.4 -4.6 0 -1.4 3 -4.6 0 -4.4 6 -4.6 0 -1.4 3 -4.6 0 -1.4 3 -4.6 0 -1.4 3 -7.6 0 -1.4 3 -4.6 0 -1.4 3 -7.6 3 1.6 4.6 4.4 3 0 4.4 6 9 0 4.6 4.6 4.4 0 4.6 9 9 0 3 6 6 0 3 9 9 1.4 6 7.6 7.4 0 3 6 6 0 3 3 3 4.4 0 0 -3 6 -6 0 -3 6 -6 0 -3 6 -6 0 -3 9 -9 0 -3 12 -12 3 -9 6 -6 0 -3 3 -3 3 -9 6 -6 3 -9 6 -6 0 -3 9 -9 0 -40.4 3 -1.6 0 -13.4 3 -1.6 0 -10.4 -3 -1.6 -1.4 -7.4 -4.6 -4.6 -1.4 -10.4zM2405.8 89.2l-7.6 0 -6 10.6 7.6 0 1.4 -3 4.6 0zM1607.8 143.2l0 1143 789 0 -1.6 -9 -3 -4.4 0 -4.6 3 -3 0 -10.4 3 -1.6 0 -4.4 15 -15 -3 -4.6 0 -4.4 -6 -1.6 -1.4 -3 3 -3 0 -6 3 -3 0 -9 3 -3 0 -7.4 3 -3 0 -4.6 6 -10.4 0 -6 3 -3 0 -3 3 -3 0 -4.6 6 -9 0 -10.4 3 -3 0 -6 19.4 -21 7.6 -3 1.4 -3 4.6 0 1.4 -3 7.6 0 0 -3 9 -9 0 -4.6 -3 -3 0 -19.4 1.4 -1.6 18 1.6 0 -181.6 -6 1.6 -10.4 10.4 -4.6 -3 -4.4 0 -9 6 -30 30 -9 3 -6 6 -15 6 -6 6 -6 0 -3 3 -3 0 -3 3 -3 0 -3 3 -3 0 -3 3 -15 6 -6 6 -7.6 3 -1.4 3 -6 0 -3 3 -15 6 -1.6 13.6 -3 3 0 6 -1.4 1.4 -7.6 0 -3 -3 -6 1.6 -22.4 0 -3 3 -9 0 -3 3 -3 0 -1.6 4.4 18 18 0 3 10.6 9 -1.6 18 16.6 33 0 18 -3 9 -21 21 -3 0 -3 3 -3 0 -3 3 -3 0 -21 12 -6 0 -4.6 4.6 -4.4 0 -3 3 -3 0 -3 3 -3 0 -3 3 -3 0 -21 12 -4.6 -3 -6 0 -3 -3 -15 -6 -6 -6 -3 0 -3 -3 -4.4 0 -15 9 -6 0 -9 6 -6 0 -3 3 -6 0 -3 3 -3 0 -3 3 -6 0 -3 3 -9 0 -3 3 -9 0 -3 3 -21 0 -3 3 -15 0 -3 3 -3 0 -12 12 -3 0 -6 6 -3 0 -6 6 -3 0 -9 6 -6 0 -3 3 -6 0 -3 3 -18 0 -3 3 -4.6 0 -3 -3 -24 0 -3 -3 -24 0 -6 -6 0 -3 -6 -6 0 -3 -3 -1.6 0 -6 -3 -3 0 -16.4 -1.4 -4.6 -9 -7.4 0 -18 3 -3 0 -18 3 -3 0 -12 3 -3 0 -12 3 -3 0 -6 3 -3 0 -6 3 -3 0 -6 3 -3 0 -6 3 -3 0 -3 3 -3 6 -15 33 -33 3 0 6 -6 9 -3 6 -6 3 0 3 -3 6 0 9 -6 6 0 3 -3 3 0 3 -3 6 0 9 -6 6 0 3 -3 6 0 3 -3 7.4 0 3 -3 9 0 3 -3 6 0 3 -3 6 0 3 -3 6 0 3 -3 6 0 12 -12 3 0 7.6 -6 1.4 -3 4.6 0 1.4 -3 4.6 0 1.4 -3 4.6 0 1.4 -3 4.6 0 1.4 -3 4.6 0 1.4 -3 4.6 0 1.4 -3 4.6 0 1.4 -3 4.6 0 1.4 -3 4.6 0 1.4 -3 4.6 0 1.4 -3 4.6 0 4.4 -6 4.6 0 1.4 -3 4.6 0 4.4 -6 4.6 0 1.4 -3 4.6 0 1.4 -3 4.6 0 1.4 -3 4.6 0 1.4 -3 4.6 0 1.4 -3 3 0 3 -3 12 0 3 -3 10.6 0 3 -3 9 -3 21 -15 0 -4.6 3 -3 0 -6 1.4 -1.4 37.6 0 0 -4.6 3 -1.4 0 -9 6 -3 10.4 -1.6 6 7.6 4.6 0 1.4 3 25.6 0 1.4 3 39 0 3 3 9 0 3 3 3 0 21 12 15 0 3 3 13.6 0 3 -3 9 0 3 -3 9 0 7.4 4.4 3 0 0 -165 -3 1.6 -6 -1.6 -4.4 6 -7.6 3 -6 6 -3 0 -28.4 24 -4.6 0 -3 3 -3 0 -6 6 -9 3 -6 6 -3 0 -3 3 -15 6 -1.4 3 -7.6 3 -1.4 3 -4.6 0 -1.4 3 -4.6 0 -7.4 9 -4.6 0 -27 27 -6 -7.4 -4.4 -10.6 0 -13.4 3 -6 7.4 -6 0 -3 10.6 -10.6 4.4 0 6 -6 4.6 -12 0 -12 4.4 -6 12 -1.4 10.6 -7.6 6 -9 0 -12 4.4 -4.4 3 0 10.6 -6 0 -3 -18 -27 0 -10.6 21 -22.4 0 -3 -3 -3 0 -16.6 6 -1.4 0 -10.6 3 -1.4 0 -4.6 3 -1.4 0 -4.6 6 -1.4 4.4 -6 4.6 0 1.4 -3 4.6 0 12 -7.6 0 -25.4 -3 -3 0 -6 -3 -3 -3 -9 -6 -6 0 -3 -9 -9 -1.6 1.4 -6 0 -4.4 -1.4 -1.6 -3 -4.4 0 -19.6 -19.6 0 -4.4 -3 -1.6 0 -4.4 -3 -1.6 0 -13.4 3 -3 0 -6 3 -1.6 1.6 -6 9 -7.4 10.4 -3 40.6 0 1.4 -4.6 0 -36 -1.4 -4.4 -3 -3 -21 -1.6 -3 -3 -18 0 -3 3 -9 3 -6 6 -3 0 -21 18 -4.6 0 -7.4 6 -3 0 -7.6 6 -3 0 -43.4 42 -3 0 -6 6 -9 3 -6 6 -3 0 -9 6 -6 0 -9 6 -6 0 -3 3 -3 0 -3 3 -6 0 -3 3 -9 0 -3 3 -9 0 -3 3 -9 0 -3 3 -9 0 -3 3 -9 0 -3 3 -12 0 -3 3 -12 0 -3 3 -9 0 -3 3 -12 0 -3 3 -9 0 -3 3 -12 0 -3 3 -9 0 -3 3 -12 0 -1.6 1.6 -3 -1.6 -55.4 0 -3 -3 -21 0 -3 -3 -27 0 -3 -3 -46.6 0 -1.4 3 -7.6 0 -1.4 3 -7.6 0 -1.4 3 -7.6 0 -9 9 0 4.6 -3 1.4 0 13.6 3 1.4 0 7.6 3 1.4 0 4.6 3 1.4 0 4.6 6 4.4 0 4.6 18 18 0 3 6 9 0 15 -3 3 0 6 -9 10.4 -6 15 -6 6 0 6 -6 6 0 3 -6 7.6 -13.4 10.4 -10.6 0 -4.4 -4.4 -9 -3 -1.6 -3 -7.4 0 -1.6 -3 -4.4 0 -1.6 -3 -4.4 0 -1.6 -3 -7.4 0 -1.6 -3 -3 0 -6 -6 -3 0 -9 -9 -4.4 0 -4.6 -6 -4.4 0 -1.6 -3 -4.4 0 -4.6 -6 -4.4 0 -1.6 -3 -4.4 0 -7.6 -9 -4.4 0 -4.6 -6 -4.4 0 -4.6 -6 -4.4 0 -4.6 -6 -3 0 -6 -6 -3 0 -6 -6 -3 0 -15 -12 -3 0 -3 -3 -7.4 0 -3 -3 -15 0 -3 -3 -6 0 -1.6 -3 12 -12 0 -3 18 -18 0 -3 18 -18 0 -3 18 -18 0 -3 18 -18 0 -3 6 -6 0 -3 6 -6 0 -3 6 -6 0 -3 6 -6 0 -3 10.6 -13.6 6 -4.4 0 -9 3 -3 0 -3 12 -12 3 0 0 -3 6 -6 -3 -4.6 0 -21 3 -3 0 -6 3 -3 0 -3 6 -6 0 -7.4 3 -3 0 -9 6 -6 6 0 3 -3 7.4 0 1.6 -6 13.4 -10.6 6 0 3 -3 6 0 -15 -15 0 -3 -4.4 -4.4 0 -4.6 -3 -3 0 -15 -3 -3 0 -4.4 3 -3 0 -15 42 -40.6 6 -15 4.4 -4.4 6 0 13.6 -9 0 -6 3 -3 0 -3 9 -15 0 -6 3 -3 0 -15 3 -3 0 -6 -1.6 -1.6 -6 0 -3 -3 -12 0 -3 -3 -33 0 -1.4 -1.4 -9 0 -1.6 -3 -55.4 0 -1.6 3 -10.4 0 -1.6 3 -7.4 0 -1.6 3 -6 0 -3 4.4 -12 0 -3 3 -9 0 -1.4 3 -4.6 0 3 7.6 6 7.4 0 3 6 6 0 3 6 6 0 3 6 6 0 3 16.6 19.6 7.4 4.4 0 3 3 3 0 6 3 3 0 18 -3 3 0 6 -10.4 12 -4.6 0 -6 6 -6 1.6 -10.4 -1.6 -10.6 -6 -6 -6 -9 0 -4.4 -6 -4.6 0 -1.4 -3 -4.6 0 -1.4 -3 -4.6 0 -1.4 -3 -4.6 0 -1.4 -3 -4.6 0 -1.4 -3 -4.6 0 -1.4 -3 -4.6 0 -1.4 -3 -4.6 0 -1.4 -3 -4.6 0 -1.4 -3 -4.6 0 -1.4 -3 -4.6 0 -1.4 -3 -4.6 0 -10.4 -12z"/>
<path fill="#ed5d29" d="M2219.8 914.2l-6 0 -9 7.6 -6 12 -6 6 0 3 -6 6 0 3 -6 6 0 3 -6 6 -12 19.4 -12 10.6 0 3 -6 6 -9 3 -6 6 -3 0 -9 6 -10.6 3 -6 6 0 4.4 3 3 0 3 3 3 0 3 3 3 0 3 12 21 0 4.6 3 1.4 0 7.6 3 1.4 0 6 3 3 1.6 6 6 6 0 3 6 6 0 3 3 3 4.4 0 0 -4.4 6 -4.6 0 -4.4 6 -4.6 0 -4.4 6 -4.6 0 -4.4 9 -7.6 0 -4.4 12 -10.6 0 -4.4 3 -1.6 0 -4.4 6 -4.6 0 -4.4 3 -1.6 0 -4.4 3 -1.6 0 -4.4 6 -4.6 0 -4.4 3 -1.6 0 -3 6 -6 0 -3 9 -9 0 -40.4 3 -3 0 -12 3 -3 0 -9 -6 -6 0 -3 -4.4 -4.6 0 -4.4zM2503.2 689.2l-10.4 1.6 -21 10.4 -24 22.6 -9 4.4 -12 12 -12 19.6 -3 10.4 0 12 3 9 4.4 7.6 12 12 12 7.4 24 7.6 36 1.4zM1607.8 143.2l0 1143 786 0 -1.6 -18 3 -3 0 -10.4 3 -1.6 0 -4.4 15 -15 -4.4 -4.6 0 -3 -3 0 -4.6 -4.4 0 -3 3 -3 0 -6 3 -4.6 0 -7.4 3 -4.6 3 -13.4 6 -10.6 0 -4.4 6 -10.6 0 -3 6 -9 0 -9 3 -4.4 1.6 -10.6 12 -15 22.4 -22.4 4.6 -9 4.4 -21 7.6 -10.6 6 -6 10.4 4.6 0 -153 -3 0 -6 6 -12 -4.6 -10.4 3 -30 28.6 -12 6 -4.6 4.4 -16.4 7.6 -6 4.4 -22.6 9 -3 3 -3 0 -22.4 12 -4.6 4.6 -3 0 -15 7.4 -3 3 -3 9 -4.4 4.6 0 6 -1.6 1.4 -9 0 -4.4 -3 -3 1.6 -24 0 -1.6 3 -10.4 0 -1.6 3 -4.4 0 0 4.4 16.4 16.6 0 3 10.6 10.4 0 13.6 3 9 9 13.4 6 15 0 18 -3 9 -4.6 7.6 -10.4 10.4 -7.6 4.6 -3 0 -3 3 -3 0 -3 3 -3 0 -3 3 -3 0 -3 3 -3 0 -7.4 4.4 -7.6 0 -4.4 4.6 -6 0 -1.6 3 -4.4 0 -1.6 3 -4.4 0 -1.6 3 -4.4 0 -1.6 3 -4.4 0 -1.6 3 -4.4 0 -1.6 3 -4.4 0 -3 3 -4.6 -3 -6 0 -3 -3 -15 -6 -6 -6 -3 0 -3 -3 -4.4 0 -15 9 -6 0 -9 6 -6 0 -3 3 -6 0 -3 3 -3 0 -3 3 -6 0 -3 3 -9 0 -3 3 -9 0 -3 3 -21 0 -3 3 -15 0 -3 3 -3 0 -12 12 -3 0 -15 12 -3 0 -9 6 -6 0 -3 3 -6 0 -3 3 -18 0 -3 3 -4.6 0 -3 -3 -24 0 -3 -3 -24 0 -6 -4.6 0 -4.4 -6 -4.6 0 -4.4 -3 -1.6 0 -6 -3 -3 0 -15 -1.4 -3 -12 -12 -1.6 -30 -1.4 -1.4 0 -48 1.4 -1.6 0 -10.4 1.6 -1.6 0 -7.4 3 -12 13.4 -31.6 18 -24 28.6 -24 37.4 -18 105 -30 37.6 -18 48 -18 57 -28.4 13.4 -4.6 7.6 0 22.4 -6 15 -9 7.6 -7.4 3 -6 0 -4.6 13.4 -13.4 3 0 9 -9 4.6 -1.6 6 -10.4 10.4 -3 6 -4.6 4.6 -9 3 -15 4.4 -7.4 4.6 -4.6 6 -1.4 12 -13.6 4.4 0 6 -6 0 -4.4 3 -1.6 0 -16.4 4.6 -4.6 0 -6 1.4 -1.4 7.6 0 6 -3 9 -10.6 -1.6 -10.4 4.6 -4.6 7.4 -3 7.6 -9 -1.6 -6 -12 -21 0 -7.4 3 -6 16.6 -15 1.4 -3 -1.4 -6 -1.6 -1.6 -12 1.6 -6 -3 -37.4 1.4 -12 -12 0 -13.4 1.4 -3 28.6 -21 21 -3 7.4 -3 34.6 0 3 3 3 -1.6 4.4 3 10.6 -6 0 -24 -3 -3 0 -6 -3 -3 -3 -9 -6 -6 0 -3 -9 -10.4 -1.6 1.4 -7.4 0 -4.6 -4.4 -4.4 0 -19.6 -19.6 0 -3 -6 -9 0 -13.4 3 -3 0 -6 3 -3 0 -3 9 -9 7.6 -3 45 0 0 -6 1.4 -1.6 0 -30 -1.4 -1.4 0 -6 -1.6 -1.6 -13.4 0 -3 -3 -25.6 0 -10.4 4.6 -18 15 -4.6 1.4 -7.4 7.6 -7.6 3 -4.4 4.4 -13.6 7.6 -33 33 -16.4 13.4 -33 19.6 -3 0 -16.6 9 -22.4 7.4 -4.6 3 -4.4 0 -34.6 12 -60 15 -6 0 -13.4 4.6 -13.6 1.4 -7.4 3 -7.6 0 -10.4 3 -18 0 -1.6 1.6 -67.4 3 -1.6 1.4 -21 3 -18 7.6 -19.4 19.4 -6 16.6 -1.6 21 -4.4 16.4 -34.6 58.6 -16.4 16.4 -3 1.6 -12 0 -16.6 -13.6 -4.4 0 -18 -10.4 -6 0 -10.6 -9 -3 0 -6 -6 -7.4 -3 -6 -6 -3 0 -3 -3 -3 0 -6 -6 -9 -3 -9 -9 -3 0 -6 -6 -3 0 -6 -6 -3 0 -4.6 -6 -3 0 -6 -6 -3 0 -6 -6 -3 0 -15 -12 -7.4 -3 -6 0 -3 -3 -15 0 -3 -3 -6 0 -1.6 -3 10.6 -10.6 0 -3 18 -18 0 -3 18 -18 0 -3 18 -18 0 -3 18 -18 1.4 -4.4 6 -6 0 -3 6 -6 0 -3 6 -6 0 -3 6 -6 0 -3 13.6 -16.6 1.4 -9 4.6 -9 16.4 -16.4 1.6 -3 -1.6 -4.6 1.6 -22.4 3 -4.6 0 -4.4 9 -12 3 -19.6 24 -24 3 -1.4 15 0 3 -3 3 0 -4.6 -4.6 -6 0 -13.4 -12 -4.6 -9 -12 -36 0 -6 4.6 -4.4 22.4 -10.6 15 -10.4 18 -18 9 -21 4.6 -1.6 6 -6 3 0 15 -9 0 -3 3 -1.4 0 -4.6 3 -1.4 0 -4.6 3 -1.4 0 -7.6 3 -1.4 0 -16.6 3 -1.4 0 -4.6 -3 -3 -6 0 -3 -3 -12 0 -3 -3 -33 0 -1.6 -1.4 -7.4 0 -1.6 -3 -55.4 0 -1.6 3 -10.4 0 -1.6 3 -7.4 0 -1.6 3 -4.4 0 -3 4.4 -13.6 0 0 6 3 3 0 3 3 3 0 3 3 3 0 3 3 3 0 3 3 3 0 3 3 3 0 3 3 3 6 15 6 6 6 10.6 15 46.4 0 3 -4.4 4.6 -18 6 -6 0 -15 4.4 -12 -1.4 -7.6 -3 -6 -4.6 -16.4 -7.4 -3 -4.6 -3 0 -3 -3 -3 0 -3 -3 -3 0 -3 -3 -3 0 -3 -3 -3 0 -3 -3 -3 0 -3 -3 -15 -6 -13.6 -12 -3 0z"/>
<path fill="#ea532a" d="M2218.2 915.8l-4.4 0 -6 4.4 -7.6 13.6 -4.4 4.4 -31.6 48 -18 19.6 -3 0 -12 9 -9 3 -9 6 -4.4 0 -4.6 4.4 1.6 10.6 3 3 0 3 9 15 1.4 7.4 3 3 0 6 3 3 0 6 3 3 0 4.6 3 3 1.6 7.4 6 4.6 0 4.4 6 4.6 0 4.4 3 3 4.4 -1.4 0 -3 6 -6 0 -3 6 -6 0 -3 6 -6 0 -3 9 -9 0 -3 12 -12 0 -3 3 -1.6 0 -4.4 6 -4.6 0 -4.4 3 -1.6 0 -4.4 3 -1.6 0 -4.4 6 -4.6 0 -4.4 3 -1.6 0 -4.4 6 -4.6 0 -4.4 9 -9 0 -39 3 -3 0 -12 3 -3 0 -7.6 -6 -7.4 0 -3 -6 -6 0 -3zM2503.2 693.8l-1.4 1.4 -9 0 -19.6 7.6 -34.4 33 -7.6 15 -1.4 16.4 6 16.6 13.4 13.4 18 9 12 1.6 1.6 1.4 9 0 1.4 1.6 12 0zM1607.8 144.8l0 1141.4 784.4 0 0 -18 3 -3 0 -10.4 3 -3 0 -3 13.6 -15 -4.6 -6 -6 -3 0 -9 12 -40.6 12 -27 6 -7.4 0 -12 3 -12 12 -21 16.6 -21 13.4 -27 13.6 -13.6 3 -1.4 10.4 0 0 -142.6 -7.4 3 -6 -1.4 -16.6 1.4 -31.4 28.6 -39 22.4 -3 0 -46.6 22.6 -22.4 13.4 -10.6 15 -1.4 6 -42 -1.4 -1.6 3 -10.4 0 -1.6 3 -4.4 0 0 4.4 18 18 0 3 10.4 9 0 10.6 3 4.4 1.6 7.6 7.4 10.4 7.6 16.6 0 19.4 -4.6 13.6 -7.4 10.4 -10.6 7.6 -3 4.4 -3 0 -9 6 -7.4 0 -3 3 -9 0 -7.6 4.6 -7.4 0 -3 3 -4.6 0 -3 3 -3 0 -3 3 -3 0 -3 3 -3 0 -21 12 -3 0 -3 -3 -6 0 -3 -3 -15 -6 -6 -6 -3 0 -3 -3 -4.4 0 -1.6 3 -4.4 0 -1.6 3 -4.4 0 -1.6 3 -7.4 0 -1.6 3 -4.4 0 -1.6 3 -7.4 0 -1.6 3 -7.4 0 -1.6 3 -4.4 0 -1.6 3 -7.4 0 -1.6 3 -10.4 0 -1.6 3 -10.4 0 -1.6 3 -22.4 0 -1.6 3 -16.4 0 -1.6 3 -4.4 0 -10.6 12 -4.4 0 -4.6 6 -4.4 0 -4.6 6 -4.4 0 -1.6 3 -4.4 0 -1.6 3 -7.4 0 -1.6 3 -7.4 0 -1.6 3 -19.4 0 -1.6 3 -7.4 0 -1.6 -3 -25.4 0 -1.6 -3 -25.4 0 -4.6 -4.6 0 -4.4 -6 -4.6 0 -3 -3 -3 0 -6 -4.4 -4.4 0 -15 -9 -6 -6 -7.6 -18 -69 -4.6 -37.4 1.6 -1.6 0 -12 4.4 -19.4 15 -36 16.6 -24 10.4 -10.6 16.6 -12 15 -7.4 28.4 -9 6 0 24 -6 7.6 0 1.4 -1.6 27 -3 9 -3 7.6 0 31.4 -7.4 37.6 -13.6 37.4 -9 22.6 -7.4 58.4 -25.6 18 -1.4 21 -6 15 -9 24 -25.6 3 0 10.6 -10.4 3 -7.6 15 -16.4 10.4 -21 9 -9 13.6 -4.6 19.4 -16.4 0 -3 3 -3 0 -16.6 4.6 -6 0 -6 12 -4.4 7.4 -7.6 3 -12 10.6 -7.4 6 -7.6 -1.6 -9 -9 -15 0 -12 6 -9 10.6 -7.4 3 -4.6 0 -6 -1.6 -1.4 -57 1.4 -10.4 -7.4 -4.6 -12 0 -10.6 9 -10.4 15 -10.6 12 -6 16.6 -3 6 -3 19.4 -4.4 9 0 7.6 6 6 3 4.4 0 3 3 10.6 -6 0 -22.6 -3 -1.4 0 -7.6 -3 -1.4 0 -4.6 -3 -1.4 0 -4.6 -6 -4.4 0 -4.6 -9 -9 -9 0 -6 -4.4 -3 0 -19.6 -19.6 0 -3 -6 -9 0 -13.4 3 -3 0 -6 3 -3 0 -4.6 10.6 -9 7.4 -3 43.6 0 0 -43.4 -3 -1.6 -42 0 -7.6 3 -27 22.6 -25.4 18 -34.6 34.4 -27 21 -42 24 -37.4 16.6 -54 18 -16.6 3 -6 3 -24 6 -6 0 -7.4 3 -6 0 -24 6 -7.6 0 -1.4 1.4 -34.6 3 -1.4 1.6 -9 0 -1.6 1.4 -9 0 -1.4 1.6 -21 3 -30 12 -12 9 -10.6 12 -22.4 42 -18 24 -22.6 37.4 -10.4 9 -10.6 3 -12 -4.4 -16.4 -16.6 -3 0 -15 -9 -4.6 0 -4.4 -4.4 -3 0 -4.6 -6 -4.4 0 -1.6 -3 -7.4 -6 -3 0 -6 -6 -3 0 -3 -3 -3 0 -6 -6 -9 -3 -9 -9 -3 0 -6 -6 -3 0 -6 -6 -3 0 -4.6 -6 -4.4 0 -4.6 -6 -4.4 0 -4.6 -6 -4.4 0 -4.6 -6 -4.4 0 -4.6 -6 -4.4 0 -3 -3 -6 0 -3 -3 -15 0 -3 -3 -6 0 -3 -3 12 -12 0 -3 18 -18 0 -3 18 -18 0 -3 18 -18 0 -3 25.4 -27 0 -3 6 -6 0 -3 6 -6 0 -3 6 -6 0 -3 6 -6 3 -7.6 4.6 -4.4 4.4 -16.6 16.6 -18 1.4 -3 0 -24 6 -15 6 -6 0 -6 3 -4.4 0 -9 12 -19.6 1.6 -21 -7.6 -22.4 -10.4 -13.6 -10.6 -4.4 -36 -1.6 -28.4 -15 -4.6 -4.4 -4.4 0 -1.6 -3 -4.4 0 -1.6 -3 -4.4 0 -1.6 -3 -4.4 0 -1.6 -3 -4.4 0 -1.6 -3 -4.4 0 -1.6 -3 -7.4 -3 -15 -15 -7.6 -3zM2284.2 1203.8l6 -6 3 0 3 -3 10.6 0 1.4 3 4.6 0 1.4 3 4.6 0 10.4 12 -7.4 7.4 -7.6 0 -3 3 -4.4 -6 -4.6 0 -4.4 -6 -4.6 0 -1.4 -3 -4.6 0zM1838.8 726.8l15 15 3 6 0 7.4 -9 18 -6 6 -6 1.6 -12 -3 -6 -3 -6 -6 0 -19.6 1.4 -1.4 0 -10.6 3 -3zM1745.8 72.8l-1.6 1.4 3 3 3 9 6 6 3 9 6 6 0 9 3 3 0 25.6 15 31.4 6 6 6 3 13.6 0 12 -4.4 9 -6 12 -12 6 -15 -1.6 -18 -9 -7.6 -1.4 -6 -3 -1.4 0 -22.6 3 -1.4 0 -13.6 3 -1.4 0 -7.6 -1.6 -1.4 -7.4 0 -3 -3 -52.6 0 -3 3 -9 0 -3 3 -6 0 -3 3z"/>
<path fill="#e64a2a" d="M2216.8 917.2l-4.6 0 -4.4 4.6 -4.6 9 -39 57 -19.4 19.4 -12 7.6 -24 10.4 -3 3 7.4 12 0 4.6 3 1.4 0 10.6 3 1.4 0 6 4.6 7.6 0 4.4 3 3 0 6 3 3 0 6 3 3 0 4.6 6 6 0 3 10.4 13.4 3 -1.4 0 -3 6 -6 0 -3 6 -6 0 -3 6 -6 0 -3 9 -9 0 -3 12 -12 3 -9 6 -6 0 -3 3 -3 3 -9 6 -6 3 -9 6 -6 0 -3 9 -9 0 -39 3 -3 0 -12 3 -3 0 -7.6 -6 -6 0 -4.4 -6 -4.6 0 -3zM2488.2 699.8l-10.4 3 -7.6 4.4 -25.4 27 -4.6 10.6 0 15 6 13.4 10.6 10.6 15 7.4 12 3 19.4 1.6 0 -96zM1607.8 144.8l0 184.4 7.4 -7.4 3 0 6 -6 3 0 6 -6 3 0 6 -6 3 0 9 -9 0 -6 7.6 -6 6 0 3 -3 4.4 0 15 15 -10.4 13.4 -6 -1.4 -9 1.4 -57 57 0 921 783 0 1.4 -19.4 3 -1.6 0 -10.4 15 -21 -10.4 -9 0 -9 6 -24 9 -25.6 9 -18 6 -6 1.4 -25.4 4.6 -13.6 30 -51 22.4 -19.4 10.6 -6 4.4 0 0 -132 -25.4 0 -6 3 -25.6 24 -28.4 18 -34.6 16.4 -13.4 4.6 -33 18 -6 6 -1.6 9 -7.4 7.4 -13.6 1.6 -3 -3 -28.4 0 -1.6 3 -10.4 0 -1.6 3 -4.4 0 0 4.4 18 18 0 3 15 12 1.4 16.6 10.6 15 6 13.4 1.4 13.6 -1.4 1.4 -1.6 13.6 -7.4 15 -10.6 10.4 -9 6 -4.4 0 -7.6 4.6 -7.4 0 -3 3 -12 0 -3 3 -7.6 0 -3 3 -6 0 -3 3 -3 0 -3 3 -3 0 -3 3 -3 0 -21 12 -3 0 -3 -3 -6 0 -3 -3 -15 -6 -6 -6 -3 0 -3 -3 -4.4 0 -1.6 3 -4.4 0 -1.6 3 -4.4 0 -1.6 3 -7.4 0 -1.6 3 -4.4 0 -1.6 3 -7.4 0 -1.6 3 -7.4 0 -1.6 3 -4.4 0 -1.6 3 -7.4 0 -1.6 3 -10.4 0 -1.6 3 -10.4 0 -1.6 3 -22.4 0 -1.6 3 -16.4 0 -1.6 3 -4.4 0 -10.6 12 -4.4 0 -4.6 6 -4.4 0 -4.6 6 -4.4 0 -1.6 3 -4.4 0 -1.6 3 -7.4 0 -1.6 3 -7.4 0 -1.6 3 -19.4 0 -1.6 3 -7.4 0 -1.6 -3 -25.4 0 -1.6 -3 -25.4 0 -10.6 -13.6 0 -3 -3 -3 0 -4.4 -4.4 -6 0 -15 -3 0 -4.6 -4.6 -4.4 -1.4 -7.6 -9 -22.4 -49.6 -34.6 -51 -1.4 -10.4 7.4 -10.6 0 -6 3 -3 0 -10.4 3 -4.6 0 -10.4 3 -4.6 0 -10.4 3 -4.6 6 -33 4.6 -13.4 0 -25.6 4.4 -12 6 -6 6 -3 25.6 -6 60 0 1.4 1.6 30 0 1.6 1.4 63 -1.4 1.4 -1.6 12 0 1.6 -1.4 22.4 -3 39 -12 37.6 -3 42 -13.6 30 -15 6 0 1.4 -1.4 1.6 1.4 19.4 0 13.6 -4.4 28.4 -16.6 10.6 -12 4.4 0 9 -9 0 -9 21 -37.4 15 -13.6 16.6 -1.4 6 -6 6 -1.6 7.4 -7.4 0 -3 3 -3 0 -18 3 -1.6 1.6 -10.4 10.4 -6 6 -6 4.6 -10.6 15 -15 0 -7.4 -9 -18 0 -9 3 -6 16.4 -15 1.6 -4.6 -1.6 -4.4 -27 1.4 -10.4 3 -25.6 0 -4.4 -1.4 -4.6 -4.6 -1.4 -13.4 -6 -4.6 0 -7.4 16.4 -18 9 -6 15 -7.6 33 -10.4 12 -7.6 1.6 -3 0 -33 3 -1.4 0 -4.6 3 -3 -6 -4.4 -3 0 -19.6 -19.6 0 -3 -6 -9 0 -13.4 3 -3 0 -6 3 -3 -1.4 -3 10.4 -10.6 10.6 -4.4 42 0 0 -40.6 -3 -1.4 -40.6 0 -10.4 4.4 -40.6 34.6 -54 52.4 -39 27 -58.4 31.6 -30 12 -43.6 13.4 -48 12 -85.4 15 -25.6 7.6 -19.4 9 -15 10.4 -15 15 -31.6 39 -13.4 19.6 -10.6 21 -9 13.4 -9 9 -12 1.6 -19.4 -15 -4.6 0 -6 -4.6 -21 -21 -7.4 -4.4 -4.6 -6 -4.4 0 -1.6 -3 -7.4 -6 -3 0 -6 -6 -3 0 -3 -3 -3 0 -6 -6 -9 -3 -9 -9 -3 0 -6 -6 -3 0 -6 -6 -3 0 -6 -6 -3 0 -6 -6 -3 0 -6 -6 -3 0 -15 -12 -10.6 -1.6 -3 -3 -15 0 -3 -3 -6 0 -4.4 -3 12 -13.4 0 -3 18 -18 0 -3 18 -18 0 -3 18 -18 0 -3 24 -25.6 0 -3 6 -6 0 -3 6 -6 0 -3 12 -15 4.4 -7.4 0 -3 3 -1.6 6 -21 16.6 -18 1.4 -25.4 3 -4.6 0 -4.4 9 -10.6 3 -21 6 -13.4 0 -9 -9 -22.6 -3 -16.4 -3 -4.6 -24 -10.4 -24 0 -6 -3 -15 -12 -7.4 -4.6 -4.6 0 -3 -3 -3 0 -1.4 -3 -4.6 0 -4.4 -6 -4.6 0 -4.4 -6 -4.6 0 -1.4 -3 -7.6 -4.4 -18 -18 -3 0zM2282.8 1203.8l6 -6 3 0 3 -3 13.4 0 10.6 6 10.4 12 -7.4 7.4 -6 0 -4.6 3 -6 -6 -3 0 -6 -6 -9 -3zM1844.8 716.2l10.4 9 7.6 13.6 3 10.4 0 10.6 -1.6 1.4 -1.4 12 -6 12 -10.6 10.6 -6 3 -12 0 -10.4 -6 -10.6 -13.6 -3 -9 1.6 -21 4.4 -13.4 6 -6 24 -13.6zM1747.2 72.8l-1.4 1.4 3 3 3 9 6 6 3 9 4.4 4.6 3 18 3 4.4 0 6 1.6 1.6 0 9 7.4 16.4 10.6 12 9 4.6 15 0 19.4 -10.6 9 -16.4 0 -6 -3 -7.6 -4.4 -4.4 0 -15 -3 -3 0 -22.6 3 -3 0 -12 3 -3 0 -6 -1.6 -1.4 -7.4 0 -3 -3 -52.6 0 -3 3 -9 0 -3 3 -6 0 -3 3z"/>
<path fill="#e2402a" d="M2216.8 918.8l-4.6 0 -3 3 -4.4 9 -4.6 4.4 -34.4 52.6 -19.6 19.4 -13.4 9 -3 0 -3 3 -4.6 0 -15 9 10.6 18 0 9 3 3 0 9 3 3 0 6 3 1.6 0 7.4 3 1.6 0 7.4 3 1.6 0 6 6 6 0 3 10.4 13.4 3 -1.4 0 -3 6 -6 0 -3 6 -6 0 -3 6 -6 0 -3 9 -9 0 -3 12 -12 3 -9 6 -6 0 -3 3 -3 3 -9 6 -6 3 -9 13.6 -16.6 0 -39 3 -3 0 -12 3 -3 0 -10.4 -4.6 -4.6 0 -3 -7.4 -6 0 -3zM2503.2 897.8l-19.4 -1.6 -9 3 -30 27 -18 12 -43.6 21 -18 6 -28.4 16.6 -3 3 -3 9 -7.6 7.4 -15 1.6 -3 -3 -27 0 -3 3 -9 0 -7.4 4.4 0 3 15 13.6 3 7.4 6 6 3 0 3 4.6 6 1.4 0 13.6 16.4 24 3 10.4 -1.4 22.6 -7.6 18 -13.4 15 -4.6 1.4 -4.4 4.6 -19.6 0 -3 3 -12 0 -3 3 -9 0 -3 3 -7.4 1.4 -3 3 -3 0 -3 3 -3 0 -3 3 -3 0 -3 3 -3 0 -3 3 -3 0 -7.6 4.6 -4.4 0 -1.6 -3 -7.4 0 -1.6 -3 -4.4 0 -1.6 -3 -4.4 0 -1.6 -3 -4.4 0 -4.6 -6 -4.4 0 -1.6 -3 -4.4 0 -1.6 3 -4.4 0 -1.6 3 -4.4 0 -1.6 3 -7.4 0 -1.6 3 -4.4 0 -1.6 3 -7.4 0 -1.6 3 -7.4 0 -1.6 3 -4.4 0 -1.6 3 -7.4 0 -1.6 3 -10.4 0 -1.6 3 -10.4 0 -1.6 3 -22.4 0 -1.6 3 -16.4 0 -1.6 3 -4.4 0 -10.6 12 -4.4 0 -4.6 6 -4.4 0 -4.6 6 -4.4 0 -1.6 3 -4.4 0 -1.6 3 -7.4 0 -1.6 3 -7.4 0 -1.6 3 -19.4 0 -1.6 3 -7.4 0 -1.6 -3 -25.4 0 -1.6 -3 -25.4 0 -10.6 -13.6 0 -3 -3 -3 0 -4.4 -4.4 -4.6 0 -15 -4.6 0 -1.4 -3 -4.6 0 -4.4 -3 -36 -49.4 -16.6 -15 -16.4 -9 -18 -3 -1.6 1.4 -10.4 0 -19.6 4.6 -43.4 -1.6 -1.6 -1.4 -9 0 -12 -3 -24 -9 -19.4 -3 0 190.4 781.4 0 0 -7.4 3 -4.6 0 -7.4 3 -3 0 -9 3 -3 0 -3 10.6 -12 -9 -9 -1.6 -12 4.6 -19.6 12 -34.4 6 -12 9 -9 0 -34.6 4.4 -15 25.6 -45 3 -3 10.4 -3 13.6 -9 3 0 4.4 -10.4 4.6 -4.6 4.4 -1.4zM2282.8 1203.8l7.4 -7.6 3 0 3 -3 10.6 0 3 3 9 3 10.4 10.6 0 4.4 -6 6 -6 0 -3 3 -4.4 0 -15 -12 -9 -3zM2479.2 704.2l-6 3 -22.4 24 -4.6 10.6 0 10.4 6 12 10.6 9 9 4.6 12 3 19.4 1.4 0 -79.4zM2453.8 353.2l-42 0 -6 1.6 -12 9 -24 22.4 -55.6 57 -15 12 -49.4 34.6 -52.6 30 -3 0 -15 7.4 -63 19.6 -121.4 27 -34.6 13.4 -28.4 19.6 -42 43.4 -10.6 18 0 3 -10.4 22.6 -3 12 1.4 15 6 15 3 12 0 9 1.6 1.4 -1.6 58.6 4.6 15 6 9 19.4 16.4 31.6 13.6 25.4 4.4 1.6 1.6 10.4 0 1.6 1.4 49.4 0 1.6 -1.4 21 -3 18 -7.6 6 -6 3 -9 7.4 -6 9 -1.4 22.6 -9 6 0 13.4 -6 10.6 -1.6 4.4 -3 4.6 0 10.4 -4.4 19.6 -1.6 15 13.6 1.4 10.4 3 3 13.6 0 24 -12 12 -1.4 15 -13.6 3 0 9 -9 -1.6 -3 1.6 -19.4 3 -9 10.4 -18 9 -9 12 -7.6 13.6 -1.4 9 3 1.4 -3 13.6 -7.6 0 -3 4.4 -7.4 0 -15 3 -3 0 -7.6 36 -39 0 -7.4 -6 -10.6 -3 -12 6 -13.4 15 -13.6 0 -7.4 -24 3 -24 6 -13.4 0 -6 1.4 -9 6 -16.6 1.6 -7.4 3 -19.6 0 -19.4 -7.6 -7.6 -9 0 -16.4 1.6 -4.6 4.4 -4.4 15 -4.6 36 -4.4 16.6 -13.6 21 -13.4 31.4 -12 18 -9 7.6 -6 1.4 -4.6 0 -18 1.6 -6 6 -9 -6 -4.4 -3 0 -19.6 -19.6 -3 -9 -4.4 -4.4 0 -10.6 3 -3 0 -6 3 -3 0 -6 9 -9 12 -6 42 0zM1607.8 144.8l0 166.4 3 -3 3 0 3 -3 3 0 3 -3 3 0 3 -3 3 0 3 -3 15 -6 4.4 -6 15 -6 10.6 1.6 12 13.4 0 3 -4.6 7.6 -6 6 -6 1.4 -3 3 -1.4 4.6 -4.6 4.4 0 3 -15 19.6 0 3 -7.4 7.4 -4.6 0 -7.4 9 -4.6 0 -7.4 9 -4.6 0 -4.4 6 -3 0 0 525 4.4 0 16.6 -6 27 -25.4 7.4 -4.6 42 -15 4.6 -3 42 -7.4 25.4 -10.6 10.6 -10.4 6 -13.6 0 -36 6 -25.4 10.4 -18 16.6 -15 1.4 -3 0 -10.6 -10.4 -15 -9 -4.4 -25.6 -27 -7.4 -6 -3 0 -7.6 -7.6 -3 0 -6 -6 -9 -3 -6 -6 -9 -3 -9 -9 -3 0 -6 -6 -3 0 -6 -6 -3 0 -7.4 -7.4 -3 0 -6 -6 -3 0 -6 -6 -3 0 -15 -12 -12 -1.6 -3 -3 -15 0 -3 -3 -6 0 -3 -3 12 -13.4 0 -3 18 -18 0 -3 18 -18 0 -3 18 -18 0 -3 18 -18 0 -3 6 -6 0 -3 6 -6 0 -3 6 -6 0 -3 6 -6 0 -3 10.4 -12 0 -3 3 -3 4.6 -19.6 16.4 -18 3 -27 6 -13.4 6 -4.6 1.6 -21 3 -6 0 -12 -7.6 -9 -10.4 0 -1.6 1.6 -9 0 -4.4 3 -7.6 0 -6 -3 -9 0 -3 -3 -6 0 -3 -3 0 -42 -1.4 -3 -9 -9 -7.6 -4.6 -3 -4.4 -4.4 0 -7.6 -6 -3 0 -6 -6 -3 0 -6 -6 -3 0 -27 -27 -4.4 0zM1747.2 72.8l-1.4 1.4 3 3 3 9 6 6 3 9 6 6 0 9 3 1.6 0 7.4 3 3 0 6 3 3 1.4 9 9 15 10.6 9 9 3 9 0 15 -6 6 -6 3 -6 0 -10.4 -1.6 -4.6 -4.4 -4.4 1.4 -3 0 -15 -3 -3 0 -22.6 3 -3 0 -12 3 -3 0 -6 -1.4 -1.4 -6 0 -3 -3 -52.6 0 -3 3 -9 0 -3 3 -6 0 -3 3z"/>
<path fill="#dd3729" d="M2215.2 918.8l-6 4.4 -3 7.6 -6 6 -21 33 -4.4 4.4 -1.6 4.6 -4.4 4.4 -1.6 4.6 -24 22.4 -18 10.6 -4.4 0 -3 3 -9 3 0 3 6 9 0 4.4 3 1.6 0 10.4 3 1.6 0 9 3 3 0 6 3 3 0 6 3 3 0 6 3 3 0 4.4 7.4 9 0 3 6 6 1.6 4.6 3 0 0 -3 6 -6 0 -3 6 -6 0 -3 6 -6 0 -3 9 -9 0 -3 12 -12 0 -3 9 -10.6 6 -15 6 -6 3 -9 6 -6 0 -3 9 -9 0 -40.4 3 -3 0 -12 3 -3 0 -7.6 -6 -7.4 0 -3 -9 -6zM2503.2 900.8l-22.4 -1.6 -6 3 -25.6 24 -16.4 12 -39 19.6 -30 10.4 -15 7.6 -10.6 7.4 -10.4 15 -6 4.6 -13.6 0 -3 -3 -27 0 -3 3 -9 0 -7.4 4.4 0 3 18 16.6 0 4.4 6 6 3 0 4.4 4.6 6 1.4 1.6 3 0 12 16.4 19.6 3 7.4 1.6 13.6 -1.6 1.4 0 10.6 -3 10.4 -10.4 21 -12 10.6 -4.6 1.4 -3 -1.4 -13.4 0 -1.6 1.4 -6 0 -3 3 -13.4 0 -3 3 -7.6 0 -3 3 -6 0 -3 3 -3 0 -3 3 -3 0 -3 3 -3 0 -3 3 -3 0 -3 3 -3 0 -7.4 4.6 -6 0 -1.6 -3 -7.4 0 -1.6 -3 -4.4 0 -1.6 -3 -4.4 0 -1.6 -3 -4.4 0 -4.6 -6 -4.4 0 -1.6 -3 -3 0 -15 9 -6 0 -9 6 -6 0 -3 3 -6 0 -3 3 -3 0 -3 3 -6 0 -3 3 -9 0 -3 3 -9 0 -3 3 -21 0 -3 3 -15 0 -3 3 -3 0 -12 12 -3 0 -6 6 -3 0 -6 6 -3 0 -9 6 -6 0 -3 3 -6 0 -3 3 -18 0 -3 3 -7.4 0 -3 -3 -24 0 -3 -3 -24 0 -15 -21 -3 -12 -12 -12 -3 0 -33 -36 -22.6 -16.6 -10.4 -4.4 -19.6 -4.6 -19.4 0 -1.6 1.6 -36 1.4 -1.4 1.6 -84 0 0 154.4 780 0 0 -6 4.4 -6 0 -7.4 3 -3 0 -6 -1.4 -1.6 3 -3 1.4 -6 9 -10.4 -10.4 -10.6 0 -10.4 6 -25.6 15 -39 4.4 -6 6 -3 0 -18 -1.4 -1.4 0 -13.6 -1.6 -1.4 1.6 -15 3 -9 22.4 -43.6 0 -10.4 -3 -6 0 -16.6 3 -3 1.6 -12 15 -15 9 -4.4 7.4 0 1.6 1.4 6 0 4.4 3 6 0zM2282.8 1202.2l6 -6 3 0 3 -3 13.4 0 1.6 3 4.4 0 1.6 3 3 0 12 13.6 -9 9 -6 0 -4.6 3 -15 -12 -9 -3 -4.4 -4.6zM2479.2 705.8l-6 3 -18 21 -4.4 9 0 9 4.4 9 13.6 9 12 3 22.4 0 0 -61.6zM2453.8 356.2l-46.6 0 -3 1.6 -27 25.4 -31.4 36 -31.6 31.6 -70.4 54 -36 24 -25.6 12 -45 15 -4.4 0 -6 3 -4.6 0 -6 3 -10.4 1.4 -6 3 -24 6 -6 0 -13.6 4.6 -6 0 -13.4 4.4 -6 0 -24 6 -33 10.6 -28.6 13.4 -22.4 15 -16.6 13.6 -13.4 15 -9 16.4 -6 25.6 0 13.4 7.4 30 3 6 9 42 7.6 18 9 13.6 10.4 10.4 15 10.6 27 12 24 6 9 0 1.6 1.4 37.4 0 21 -6 22.6 -15 78 -28.4 19.4 -1.6 7.6 3 10.4 10.6 7.6 18 10.4 0 27 -13.6 13.6 1.6 13.4 -12 3 0 4.6 -6 -4.6 -13.6 0 -16.4 4.6 -15 4.4 -7.6 15 -15 10.6 -6 10.4 -3 10.6 0 9 3 3 3 6 -1.4 6 -6 0 -3 3 -3 0 -15 4.4 -6 0 -9 3 -3 0 -3 31.6 -33 0 -7.6 -7.6 -13.4 0 -10.6 3 -7.4 15 -13.6 3 -9 -4.4 -1.4 -6 3 -12 1.4 -10.6 4.6 -31.4 6 -13.6 6 -12 1.4 -7.4 3 -21 1.6 -18 -4.6 -6 -3 -7.6 -7.4 -3 -6 0 -16.6 1.6 -4.4 10.4 -10.6 48 -12 28.6 -18 21 -10.4 10.4 -3 21 -10.6 7.6 -6 9 -3 1.4 -24 6 -9 -4.4 -4.4 -3 0 -19.6 -19.6 0 -3 -7.4 -10.4 0 -12 3 -3 0 -6 3 -3 -1.6 -3 7.6 -9 15 -9 42 0zM1607.8 144.8l0 139.4 42 0 18 -7.4 12 0 6 3 7.4 9 0 7.4 -6 10.6 -12 9 -10.4 13.4 0 3 -6 4.6 0 3 -15 16.4 -3 0 -21 18 -3 0 -6 6 -3 0 0 501 3 -1.4 9 0 16.4 -6 18 -10.6 76.6 -30 15 -7.4 10.4 -7.6 15 -18 15 -42 9 -16.4 24 -27 1.6 -3 0 -13.6 -4.6 -6 0 -3 -12 -13.4 -28.4 -27 -3 0 -9 -7.6 -3 0 -6 -6 -9 -3 -6 -6 -9 -3 -9 -9 -3 0 -6 -6 -3 0 -6 -6 -3 0 -4.6 -6 -3 0 -6 -6 -3 0 -6 -6 -3 0 -15 -12 -3 0 -3 -3 -7.4 0 -3 -3 -15 0 -3 -3 -6 0 -3 -3 0 -3 12 -10.4 0 -4.6 18 -16.4 0 -4.6 18 -16.4 0 -4.6 18 -16.4 0 -4.6 18 -16.4 0 -4.6 6 -4.4 0 -4.6 6 -4.4 0 -4.6 6 -4.4 0 -4.6 6 -4.4 0 -4.6 6 -4.4 0 -3 7.4 -12 1.6 -12 4.4 -10.6 15 -15 3 -25.4 3 -7.6 9 -10.4 0 -13.6 1.6 -1.4 1.4 -16.6 -7.4 -9 -4.6 -1.4 -30 1.4 -6 -3 -7.4 0 -9 -3 -4.6 -4.4 -1.4 -4.6 0 -6 1.4 -1.4 0 -24 -3 -7.6 -18 -18 -10.4 -7.4 -3 0 -6 -6 -3 0 -4.6 -6 -4.4 0 -4.6 -6 -22.4 -21 -3 0zM1745.8 74.2l3 1.6 0 4.4 3 1.6 0 4.4 6 4.6 0 4.4 3 1.6 0 4.4 6 4.6 0 6 3 6 0 6 3 3 0 6 6 7.4 4.4 10.6 13.6 13.4 10.4 4.6 12 0 12 -6 4.6 -7.6 0 -12 -3 -3 -1.6 -6 3 -3 0 -13.4 -3 -1.6 0 -25.4 3 -1.6 0 -13.4 3 -1.6 0 -6 -6 0 -3 -3 -55.4 0 -3 3 -9 0 -3 3 -6 0 -3 3z"/>
<path fill="#d82d29" d="M2215.2 920.2l-4.4 3 -3 7.6 -6 6 -21 33 -6 6 0 3 -6 6 0 3 -25.6 24 -34.4 16.4 4.4 4.6 1.6 9 3 3 0 9 3 3 0 6 4.4 7.4 0 6 3 3 0 6 3 3 0 6 3 3 0 4.6 6 6 0 3 6 6 0 3 3 3 1.6 0 0 -3 12 -15 0 -3 6 -6 0 -3 9 -9 0 -3 12 -12 3 -9 6 -6 0 -3 3 -3 3 -9 6 -6 3 -9 6 -6 0 -3 9 -9 0 -39 3 -3 0 -12 3 -3 0 -7.6 -3 -1.4 -3 -7.6 -13.6 -9zM2503.2 905.2l-12 -4.4 -7.4 0 -7.6 3 -37.4 34.4 -37.6 19.6 -49.4 18 -6 6 -6 3 -18 18 -15 0 -1.6 -3 -27 0 -3 3 -9 0 -7.4 4.4 18 19.6 0 3 6 7.4 3 0 3 3 4.4 0 7.6 6 -1.6 12 19.6 18 3 7.6 0 24 -9 28.4 -7.6 13.6 -9 9 -6 3 -54 0 -1.4 1.4 -7.6 0 -1.4 3 -4.6 0 -1.4 3 -4.6 0 -1.4 3 -4.6 0 -1.4 3 -4.6 0 -1.4 3 -4.6 0 -1.4 3 -12 1.6 -3 -3 -6 0 -31.6 -18 -15 9 -6 0 -9 6 -6 0 -3 3 -6 0 -3 3 -3 0 -3 3 -6 0 -3 3 -9 0 -3 3 -9 0 -3 3 -21 0 -3 3 -15 0 -3 3 -3 0 -12 12 -3 0 -6 6 -3 0 -6 6 -3 0 -9 6 -6 0 -3 3 -6 0 -3 3 -18 0 -3 3 -7.4 0 -3 -3 -24 0 -3 -3 -24 0 -15 -19.6 0 -6 -16.6 -16.4 -3 0 -22.4 -21 -18 -13.6 -28.6 -12 -6 0 -1.4 -1.4 -34.6 0 -1.4 1.4 -27 3 -7.6 3 -6 0 -7.4 3 -6 0 -24 6 -36 3 0 123 778.4 0 0 -6 4.6 -4.4 1.4 -9 3 -3 -1.4 -9 3 -3 0 -3 9 -9 -10.6 -12 0 -12 1.6 -1.6 0 -7.4 4.4 -18 9 -25.6 7.6 -15 6 -6 4.4 -1.4 -3 -24 -6 -12 1.6 -19.6 22.4 -45 3 -27 6 -15 0 -7.4 22.6 -21 12 -4.6 15 0 1.4 -1.4zM2281.2 1203.8l9 -9 18 -1.6 3 3 9 3 7.6 7.6 3 6 -9 9 -6 0 -4.6 3 -6 -6 -3 0 -6 -6 -9 -3zM2476.2 708.8l-9 9 -12 16.4 -1.4 4.6 1.4 9 7.6 7.4 7.4 3 25.6 0 1.4 -1.4 6 0 0 -43.6 -13.4 -4.4 -9 0 -1.6 -1.6zM1607.8 560.2l0 303 15 0 43.4 -13.4 25.6 -12 3 0 30 -16.6 12 -9 18 -19.4 24 -42 36 -37.6 1.4 -15 -12 -21 -21 -21 -7.4 -6 -3 0 -9 -9 -3 0 -6 -6 -3 0 -3 -3 -3 0 -6 -6 -9 -3 -9 -9 -3 0 -6 -6 -3 0 -6 -6 -3 0 -6 -6 -3 0 -6 -6 -3 0 -6 -6 -3 0 -15 -12 -3 0 -3 -3 -6 0 -3 -3 -15 0 -3 -3 -6 0 -3 -3zM2453.8 357.8l-46.6 0 -4.4 3 -24 25.4 -39 48 -18 18 -72 58.6 -21 19.4 -19.6 13.6 -30 13.4 -46.4 15 -42 10.6 -6 3 -24 6 -6 0 -60 15 -21 7.4 -4.6 0 -40.4 18 -22.6 15 -9 9 -7.4 13.6 -3 10.4 0 22.6 4.4 18 16.6 45 16.4 30 19.6 19.4 18 12 19.4 9 34.6 9 33 0 1.4 -1.4 6 0 22.6 -10.6 28.4 -10.4 37.6 -18 19.4 -6 18 0 9 4.4 7.6 7.6 3 6 3 21 6 0 16.4 -10.6 13.6 -6 12 0 6 3 9 -7.4 3 0 3 -3 -4.6 -6 -1.4 -10.6 -6 -16.4 0 -10.6 6 -15 13.4 -15 13.6 -9 10.4 -4.4 12 -1.6 1.6 -1.4 10.4 0 12 4.4 7.6 6 3 -1.4 0 -4.6 3 -1.4 0 -18 3 -3 0 -7.6 3 -4.4 -1.6 -3 33 -33 0 -7.6 -7.4 -13.4 1.4 -13.6 3 -3 0 -3 15 -13.4 3 -7.6 -3 -1.4 -30 12 -25.4 6 -24 9 -19.6 4.4 -9 0 -1.4 1.6 -13.6 0 -1.4 -1.6 -12 -1.4 -10.6 -6 -6 -6 -6 -15 1.6 -15 3 -6 12 -10.6 52.4 -16.4 42 -22.6 13.6 -4.4 27 -15 15 -15 1.4 -10.6 6 -9 -3 -3 -3 0 -22.4 -22.4 0 -3 -6 -7.6 0 -13.4 3 -3 0 -6 3 -3 -1.6 -4.6 12 -12 3 0 6 -6 43.6 0zM1607.8 146.2l0 133.6 48 0 16.4 -6 9 0 12 4.4 3 4.6 0 12 -4.4 9 -31.6 33 0 3 -16.4 18 -3 0 -21 18 -3 0 -6 6 -3 0 0 147 1.4 0 127.6 -127.6 3 -16.4 3 -6 9 -6 7.4 -10.6 0 -12 3 -4.4 0 -7.6 3 -7.4 9 -9 1.6 -30 -1.6 -3 -9 -4.6 -31.4 -1.4 -7.6 -3 -9 0 -10.4 -3 -4.6 -6 1.6 -16.6 1.4 -1.4 0 -16.6 -4.4 -9 -12 -9 -13.6 -15 -15 -12 -3 0 -27 -27 -3 0zM1747.2 74.2l4.6 7.6 0 3 6 6 3 9 6 6 1.4 9 3 3 0 6 3 1.4 0 7.6 6 4.4 3 7.6 15 15 9 4.4 12 1.6 7.6 -3 7.4 -9 0 -10.6 -3 -3 0 -7.4 3 -3 0 -10.6 -3 -3 0 -25.4 3 -3 0 -12 3 -3 0 -4.6 -7.4 0 -3 -3 -52.6 0 -3 3 -9 0 -3 3 -6 0 -3 3z"/>
<path fill="#d32428" d="M2212.2 923.2l-3 9 -9 9 0 3 -6 6 0 3 -6 6 0 3 -6 6 0 3 -6 6 0 3 -6 6 0 3 -30 27 -3 0 -9 6 -6 0 -10.4 6 3 1.6 1.4 12 3 1.4 0 10.6 3 1.4 0 10.6 3 1.4 0 7.6 3 1.4 0 7.6 3 1.4 0 7.6 3 1.4 0 7.6 6 4.4 0 4.6 6 4.4 0 4.6 3 3 1.6 0 0 -4.6 6 -4.4 0 -4.6 6 -4.4 0 -4.6 6 -4.4 0 -4.6 9 -7.4 0 -4.6 12 -10.4 0 -4.6 3 -1.4 0 -4.6 6 -4.4 0 -4.6 3 -1.4 0 -4.6 3 -1.4 0 -4.6 6 -4.4 0 -4.6 3 -1.4 0 -4.6 6 -4.4 0 -4.6 9 -7.4 0 -40.6 3 -3 -12 -10.4 0 -4.6 -3 -1.4 0 -4.6 -3 -1.4zM2503.2 911.2l-3 0 -6 -7.4 -13.4 0 -33 31.4 -10.6 7.6 -39 19.4 -15 6 -6 0 -4.4 3 -18 4.6 -31.6 27 -16.4 0 -3 -3 -25.6 0 -3 3 -9 0 -7.4 4.4 25.4 30 3 0 1.6 3 6 0 4.4 4.6 4.6 1.4 0 6 -3 6 15 7.6 7.4 7.4 4.6 16.6 -3 22.4 -12 37.6 -12 19.4 -15 13.6 -10.6 1.4 -3 3 -6 0 -3 3 -6 0 -3 3 -6 0 -3 3 -9 0 -1.4 -3 -13.6 0 -1.4 -3 -13.6 0 -1.4 -3 -10.6 0 -1.4 -3 -9 -1.4 -3 -3 -6 0 -31.6 -18 -15 9 -6 0 -9 6 -6 0 -3 3 -6 0 -3 3 -3 0 -3 3 -6 0 -3 3 -9 0 -3 3 -9 0 -3 3 -21 0 -3 3 -15 0 -3 3 -3 0 -12 12 -3 0 -6 6 -3 0 -6 6 -3 0 -9 6 -6 0 -3 3 -6 0 -3 3 -18 0 -3 3 -7.4 0 -3 -3 -24 0 -3 -3 -24 0 -15 -19.6 0 -4.4 -12 -7.6 -18 -16.4 -37.6 -22.6 -24 -6 -37.4 1.6 -1.6 1.4 -13.4 1.6 -16.6 6 -57 28.4 -18 4.6 -10.4 0 0 85.4 775.4 0 1.6 -6 6 -6 0 -6 3 -3 0 -10.4 10.4 -15 -10.4 -7.6 -1.6 -6 0 -7.4 3 -4.6 0 -10.4 3 -4.6 0 -7.4 3 -4.6 0 -4.4 3 -4.6 0 -4.4 3 -4.6 1.6 -7.4 7.4 -15 6 -6 4.6 0 0 -7.6 -4.6 -16.4 -12 -13.6 -1.4 -6 1.4 -9 27 -52.4 7.6 -25.6 4.4 -6 0 -6 6 -12 24 -27 10.6 -6 13.4 -3zM2281.2 1202.2l6 -7.4 4.6 0 1.4 -3 15 0 9 7.4 3 0 10.6 10.6 0 4.4 -7.6 7.6 -7.4 0 -1.6 3 -4.4 0 -4.6 -6 -4.4 0 -4.6 -6 -4.4 0 -1.6 -3 -4.4 0 -4.6 -4.6zM2503.2 720.8l-3 0 -13.4 -10.6 -9 -1.4 -18 22.4 -3 6 0 7.6 7.4 6 15 0 24 -9zM1607.8 561.8l0 288 21 0 40.4 -10.6 22.6 -10.4 22.4 -15 21 -21 25.6 -39 13.4 -13.6 12 -7.4 24 -19.6 1.6 -3 0 -18 -7.6 -13.4 -28.4 -28.6 -3 0 -9 -9 -4.6 0 -4.4 -6 -4.6 0 -1.4 -3 -4.6 0 -4.4 -6 -4.6 0 -1.4 -3 -4.6 0 -7.4 -9 -4.6 0 -4.4 -6 -4.6 0 -4.4 -6 -4.6 0 -4.4 -6 -3 0 -6 -6 -3 0 -6 -6 -3 0 -15 -12 -3 0 -3 -3 -7.6 0 -1.4 -3 -16.6 0 -1.4 -3zM2453.8 359.2l-42 0 -3 -1.4 -25.6 27 -22.4 33 -24 28.4 -72 63 -42 45 -33 15 -46.6 15 -4.4 0 -15 6 -4.6 0 -15 6 -100.4 25.6 -7.6 0 -45 10.4 -19.4 7.6 -27 15 -4.6 4.4 -7.4 15 1.4 24 10.6 27 7.4 13.6 0 3 10.6 21 9 13.4 21 21 24 16.6 30 13.4 21 6 10.4 0 1.6 1.6 13.4 0 18 -4.6 54 -25.4 28.6 -16.6 21 -6 21 1.6 12 10.4 1.4 4.6 0 22.4 -4.4 13.6 1.4 1.4 6 -3 10.6 -10.4 12 -7.6 9 -3 15 0 6 -4.4 -1.6 -7.6 -16.4 -16.4 -6 -13.6 1.4 -9 7.6 -13.4 18 -16.6 31.4 -15 24 -6 31.6 0 0 -3 3 -1.4 0 -12 -1.6 -1.6 1.6 -6 9 -9 13.4 -9 12 -13.4 -3 -9 -6 -9 0 -9 3 -3 3 -9 15 -13.6 1.6 -6 -15 4.6 -16.6 9 -25.4 7.4 -22.6 9 -4.4 0 -24 7.6 -24 1.4 -21 -6 -13.6 -13.4 -4.4 -16.6 3 -21 9 -10.4 12 -6 49.4 -16.6 33 -16.4 34.6 -13.6 4.4 -4.4 24 -13.6 6 -6 3 -6 0 -4.4 3 -1.6 0 -4.4 3 -1.6 -3 -3 -3 0 -22.4 -21 0 -3 -6 -9 0 -15 3 -1.4 0 -13.6 12 -12 3 0 9 -9 42 0zM1774.2 291.8l-12 -4.6 -25.4 -1.4 -6 -3 -9 0 -1.6 -1.6 -13.4 0 -3 1.6 -9 19.4 -15 16.6 0 3 -36 36 -3 0 -21 18 -3 0 -6 6 -3 0 0 145.4 130.4 -130.4 1.6 -18 9 -7.6 3 0 4.4 -6 3 -9 1.6 -16.4 3 -7.6 9 -10.4zM1607.8 146.2l0 130.6 42 0 4.4 1.4 21 -7.4 16.6 0 3 -1.6 6 -10.4 0 -7.6 3 -7.4 0 -4.6 -6 -10.4 -12 -7.6 -28.6 -30 -28.4 -27 -3 0zM1748.8 74.2l4.4 7.6 0 3 6 6 3 9 6 6 1.6 9 6 6 0 4.4 3 1.6 0 4.4 3 1.6 3 9 16.4 15 10.6 6 13.4 -1.6 6 -6 0 -19.4 -1.4 -1.6 3 -3 0 -12 -3 -3 0 -25.4 3 -3 0 -12 3 -3 0 -4.6 -6 0 -3 -3 -52.6 0 -3 3 -9 0 -3 3 -6 0z"/>
<path fill="#cd1e27" d="M2471.8 948.8l-16.6 -13.6 -3 0 -7.4 9 -4.6 0 -1.4 3 -4.6 0 -1.4 3 -4.6 0 -1.4 3 -4.6 0 -1.4 3 -4.6 0 -1.4 3 -4.6 0 -1.4 3 -4.6 0 -3 3 -6 0 -9 6 -9 0 -3 3 -9 0 -3 3 -6 0 -12 12 -3 0 -3 3 0 7.6 -1.4 1.4 -12 0 -1.6 1.6 -16.4 0 -3 -3 -4.6 1.4 -22.4 0 -3 3 -9 0 -6 4.6 18 18 0 3 7.4 7.4 3 0 3 3 6 0 1.6 3 7.4 1.6 3 3 0 12 10.6 0 13.4 13.4 0 28.6 -3 3 0 9 -3 3 0 7.4 -3 3 0 9 -3 3 0 10.6 -3 3 0 6 -3 3 0 16.4 3 3 0 6 -6 4.6 0 3 9 3 10.6 12 0 4.4 -7.6 7.6 -7.4 0 -1.6 3 -4.4 0 -4.6 -6 -4.4 0 -4.6 -6 -4.4 0 -1.6 -3 -4.4 0 -4.6 -4.6 0 -3 -21 0 -3 -3 -9 0 -3 -3 -9 0 -3 -3 -12 0 -3 -3 -12 0 -3 -3 -10.4 0 -4.6 -4.4 -4.4 0 -3 -3 -6 0 -31.6 -18 -15 9 -6 0 -9 6 -6 0 -3 3 -6 0 -3 3 -3 0 -3 3 -6 0 -3 3 -9 0 -3 3 -9 0 -3 3 -21 0 -3 3 -15 0 -3 3 -3 0 -12 12 -3 0 -6 6 -3 0 -6 6 -3 0 -9 6 -6 0 -3 3 -6 0 -3 3 -18 0 -3 3 -7.4 0 -3 -3 -24 0 -3 -3 -24 0 -6 -4.6 0 -3 -6 -6 0 -3 -3 -3 0 -4.4 -9 -3 -1.6 -3 -7.4 -1.6 -12 -12 -3 0 -3 -3 -3 0 -3 -3 -3 0 -21 -12 -12 0 -3 -3 -28.6 0 -3 3 -15 0 -3 3 -9 0 -30 21 0 3 -6 7.6 0 3 -3 3 -6 15 -6 6 -3 9 -12 15 -3 9 -7.4 7.4 -6 3 -3 9 753 0 1.4 -6 7.6 -6 0 -7.4 3 -3 0 -10.6 3 -1.4 -1.6 -6 -6 0 -1.4 -1.6 0 -12 3 -3 0 -13.4 3 -3 0 -12 3 -3 0 -9 3 -3 0 -6 3 -3 0 -6 3 -3 0 -6 3 -3 0 -3 3 -3 6 -15 3 -3 3 0 0 -7.6 -3 -1.4 0 -7.6 -25.6 0 -1.4 -4.4 -4.6 -1.6 -4.4 -4.4 0 -7.6 6 -4.4 18 -22.6 0 -3 9 -13.4 0 -3 3 -3 6 -15 6 -6 0 -3 9 -15 0 -4.6 6 -4.4 0 -7.6 3 -1.4 0 -4.6 3 -1.4 0 -4.6 3 -1.4 0 -4.6 6 -4.4 0 -4.6 3 -1.4 0 -4.6 3 -1.4 0 -4.6 3 -1.4zM2396.8 606.8l-4.6 -4.6 -1.4 3 -4.6 0 -4.4 6 -4.6 0 -1.4 3 -7.6 0 -1.4 3 -4.6 0 -3 3 -6 0 -9 6 -6 0 -3 3 -6 0 -3 3 -7.4 0 -3 3 -6 0 -3 3 -6 0 -3 3 -12 0 -3 3 -12 0 -1.6 1.6 -3 -1.6 -24 0 -6 -6 -3 0 -7.4 -7.4 0 -3 -3 -3 0 -9 -3 -3 0 -12 3 -3 0 -10.6 3 -1.4 0 -7.6 -3 -1.4 0 -4.6 -1.6 0 -1.4 3 -4.6 0 -1.4 3 -4.6 0 -3 3 -6 0 -3 3 -6 0 -3 3 -6 0 -3 3 -9 0 -3 3 -6 0 -3 3 -9 0 -3 3 -6 0 -3 3 -6 0 -3 3 -6 0 -3 3 -6 0 -3 3 -6 0 -3 3 -6 0 -3 3 -9 0 -3 3 -9 0 -3 3 -12 0 -3 3 -9 0 -10.4 6 -13.6 0 -3 3 -4.4 0 -9 6 -4.6 -3 -7.4 -1.4 -6 1.4 -3 3 -28.6 0 -3 3 -6 0 -3 3 -9 0 -3 3 -6 0 -21 12 0 4.6 -3 1.4 0 4.6 -3 1.4 0 7.6 3 3 0 9 3 3 0 3 6 6 6 15 6 7.4 0 3 3 3 6 15 6 6 0 3 4.6 7.6 3 0 12 12 3 0 15 15 9 3 6 6 3 0 3 3 3 0 21 12 4.4 0 9 6 15 0 3 3 13.6 0 9 -6 6 0 3 -3 3 0 3 -3 15 -6 6 -6 9 -3 9 -9 3 0 9 -9 3 0 15 -12 3 0 13.4 -9 9 -3 6 -6 9 -3 6 -6 7.6 -3 1.4 -3 3 0 21 -12 6 0 3 -3 3 0 3 -3 6 0 9 -6 7.6 0 3 -3 7.4 0 3 -3 9 0 3 -3 4.6 0 1.4 -3 6 0 3 -3 6 0 3 -3 6 0 3 -3 6 0 3 -3 6 0 3 -3 3 0 22.6 -18 3 0 12 -12 -3 -3 0 -4.6 -3 -1.4 0 -4.6 -6 -10.4 6 -6 0 -4.6 3 -1.4 0 -4.6zM2390.8 402.8l-7.6 -6 -3 0 0 3 -6 4.4 0 4.6 -3 1.4 0 3 -6 6 0 3 -12 12 0 3 -22.4 24 -21 15 -40.6 40.6 -9 10.4 0 3 -6 6 -3 7.6 -3 1.4 0 4.6 -6 6 4.6 0 1.4 3 4.6 0 1.4 -3 10.6 0 1.4 -3 4.6 0 3 -3 6 0 9 -6 7.4 0 9 -6 6 0 9 -6 6 0 3 -3 3 0 9 -6 6 0 9 -6 6 0 3 -3 6 0 9 -9 3 0 6 -6 4.6 0 3 -3 3 0 4.4 -6 4.6 0 3 -3 0 -4.6 4.4 -4.4 1.6 -4.6 -3 -3 -3 0 -21 -21 0 -3 -6 -9 0 -15 3 -1.4 -6 -4.6 0 -6zM1772.8 293.2l-9 0 -3 -3 -10.6 0 -3 -3 -16.4 0 -3 -3 -16.6 0 -6 4.6 -12 19.4 -9 9 -3 7.6 -19.4 19.4 -7.6 3 -9 10.6 -4.4 0 -7.6 9 -4.4 0 -7.6 9 -4.4 0 -4.6 6 -4.4 0 0 144 129 -129 0 -22.6 6 -1.4 3 -3 6 0 0 -3 6 -6 0 -12 3 -3 0 -9 6 -10.6 6 -4.4zM1700.8 239.2l-3 -1.4 -3 -7.6 -4.6 -3 -4.4 0 -3 -3 -4.6 0 -1.4 3 -4.6 0 -1.4 3 -7.6 0 -1.4 6 -34.6 0 -1.4 -3 -18 0 0 24 4.4 0 1.6 3 7.4 0 1.6 3 7.4 0 1.6 3 7.4 0 1.6 3 4.4 0 9 6 1.6 -1.4 6 0 3 -3 7.4 0 3 -3 9 0 3 -3 4.6 0 6 -7.6 0 -9 3 -3z"/>
<path fill="#c61c25" d="M2420.8 995.2l-10.6 -12 -10.4 -4.4 -30 0 -18 7.4 -7.6 7.6 0 3 -4.4 4.4 -13.6 0 -1.4 1.6 -46.6 -1.6 -3 3 -9 0 -3 3 -3 0 0 3 18 18 0 3 4.6 4.6 7.4 4.4 6 0 3 3 12 1.6 3 6 18 16.4 3 6 0 30 -3 7.6 0 6 -4.4 13.4 -3 22.6 -3 9 1.4 31.4 -3 4.6 10.6 12 0 4.4 -7.6 7.6 -6 0 -3 3 -4.4 0 -15 -12 -9 -3 -4.6 -6 -21 0 -3 -3 -9 0 -3 -3 -9 0 -3 -3 -12 0 -3 -3 -12 0 -3 -3 -9 0 -4.4 -4.6 -6 -1.4 -3 -3 -6 0 -9 -6 -7.6 -1.6 -6 -6 -3 0 -3 -3 -4.4 0 -15 9 -6 0 -9 6 -6 0 -3 3 -6 0 -3 3 -3 0 -3 3 -6 0 -3 3 -9 0 -3 3 -9 0 -3 3 -21 0 -3 3 -15 0 -3 3 -3 0 -12 12 -3 0 -6 6 -3 0 -6 6 -3 0 -9 6 -6 0 -3 3 -6 0 -3 3 -18 0 -3 3 -4.6 0 -3 -3 -24 0 -3 -3 -24 0 -7.4 -6 0 -3 -6 -6 0 -3 -3 -1.4 0 -4.6 -3 0 -9 -6 -6 0 -3 -3 -7.6 0 -21 -9 -21 -6 -25.4 -1.4 -30 7.4 -13.6 7.6 -16.4 15 -12 18 -9 18 -7.6 22.4 0 12 709.6 0 1.4 -6 10.6 -7.4 0 -6 3 -3 0 -7.6 -9 -7.4 0 -18 3 -9 4.4 -33 3 -6 4.6 -22.6 4.4 -12 0 -13.4 -3 -6 -18 -18 -3 -6 7.6 -13.6 9 -10.4 18 -37.6 7.4 -24 0 -19.4zM2375.8 647.2l-1.6 -4.4 -7.4 -9 -7.6 -3 -12 0 -37.4 10.4 -4.6 3 -15 4.6 -16.4 9 -12 1.4 -30 -15 -12 -12 -7.6 -12 -6 -6 -9 -4.4 -12 -1.6 -1.4 1.6 -16.6 1.4 -18 6 -30 15 -13.4 4.6 -6 0 -9 3 -12 0 -1.6 1.4 -30 1.6 -1.4 1.4 -19.6 1.6 -16.4 4.4 -25.6 1.6 -1.4 1.4 -7.6 0 -19.4 4.6 -18 9 -10.6 10.4 -6 15 0 10.6 4.6 18 13.4 30 16.6 18 15 12 24 13.4 27 9 6 0 1.4 1.6 27 0 15 -4.6 21 -10.4 57 -43.6 18 -9 33 -10.4 30 -12 28.6 -18 4.4 -1.6 19.6 0 1.4 1.6 13.6 1.4 1.4 -1.4 9 0 37.6 -12 15 -9 12 -12 3 -6zM2417.8 473.2l-3 -3 -3 0 -21 -21 -3 -9 -3 -1.4 0 -6 -16.6 3 -16.4 12 -18 18 -21 15 -15 13.4 -19.6 21 -3 7.6 0 6 3 6 4.6 3 24 -1.6 31.4 -15 7.6 -1.4 7.4 -4.6 18 -6 15 -12 12 -4.4 10.6 -7.6 3 0 0 -4.4 4.4 -3zM1765.2 297.8l-7.4 -4.6 -7.6 0 -4.4 -3 -12 0 -7.6 -3 -9 0 -7.4 3 -18 22.6 -7.6 13.4 -12 12 -10.4 7.6 -7.6 3 -9 9 -3 0 -21 18 -3 0 -6 6 -4.4 0 0 100.4 16.4 -15 3 0 15 -15 3 0 12 -12 3 0 12 -12 3 0 9 -9 3 0 7.6 -9 4.4 0 4.6 -6 3 0 7.4 -7.4 6 -3 6 -6 0 -3 4.6 -4.6 3 -7.4 3 -3 6 -1.6 9 -7.4 6 -15 1.4 -9 10.6 -18 -1.6 -16.6zM1697.8 243.8l-4.6 -10.6 -10.4 -4.4 -7.6 3 -10.4 0 0 3 -3 3 -34.6 0 -3 -3 -16.4 0 0 9 3 0 3 3 3 0 3 3 3 0 3 3 3 0 21 12 4.4 0 1.6 3 4.4 1.4 21 -3 6 -3 7.6 -7.4z"/>
<path fill="#be1a22" d="M2408.8 1005.8l-10.6 -15 -13.4 -6 -15 -1.6 -13.6 4.6 -16.4 15 -33 1.4 -3 -3 -25.6 0 -3 3 -9 0 -3 3 -3 0 18 19.6 0 3 10.6 9 4.4 0 6 4.4 15 0 15 13.6 7.6 12 1.4 6 0 28.4 -1.4 1.6 0 7.4 -1.6 1.6 0 7.4 -1.4 1.6 -3 25.4 -1.6 1.6 0 10.4 -1.4 1.6 0 30 -4.6 9 6 6 1.6 7.4 -7.6 7.6 -6 0 -3 3 -4.4 0 -6 -6 -3 0 -6 -6 -9 -3 -6 -6 -19.6 0 -3 -3 -9 0 -3 -3 -10.4 0 -1.6 -3 -13.4 0 -1.6 -3 -13.4 0 -1.6 -3 -10.4 0 -1.6 -3 -6 -1.6 -3 -3 -6 0 -3 -3 -15 -6 -6 -6 -3 0 -3 -3 -3 0 -15 9 -6 0 -9 6 -6 0 -3 3 -6 0 -9 6 -6 0 -3 3 -9 0 -3 3 -9 0 -3 3 -21 0 -3 3 -15 0 -3 3 -3 0 -12 12 -3 0 -6 6 -3 0 -6 6 -3 0 -9 6 -6 0 -3 3 -6 0 -3 3 -18 0 -3 3 -7.4 0 -3 -3 -24 0 -3 -3 -24 0 -6 -6 0 -3 -6 -4.4 0 -3 -6 0 -1.6 -3 -7.4 0 -3 -3 -6 0 -6 -3 -7.6 0 -33 -9 -30 0 -22.4 7.4 -13.6 9 -10.4 10.6 -13.6 22.4 -6 19.6 -1.4 16.4 687 0 3 -9 4.4 -4.4 7.6 0 0 -7.6 3 -1.4 0 -6 -6 -1.6 -6 -7.4 0 -19.6 1.4 -1.4 4.6 -39 1.4 -1.6 4.6 -30 1.4 -1.4 0 -21 -16.4 -30 3 -9 16.4 -30 1.6 -7.6 4.4 -9 6 -25.4zM2369.8 651.8l-3 -6 -10.6 -7.6 -21 0 -31.4 10.6 -7.6 4.4 -10.4 10.6 -3 6 0 9 6 9 10.4 6 10.6 0 21 -7.6 4.4 0 9 -3 12 -7.4 10.6 -12 3 -6zM2245.2 663.8l-10.4 -12 -4.6 -1.6 -27 -25.4 -3 -1.6 -10.4 0 -36 10.6 -7.6 6 -6 10.4 -10.4 10.6 -10.6 4.4 -19.4 0 -1.6 -1.4 -27 -3 -1.4 -1.6 -49.6 0 -1.4 1.6 -25.6 1.4 -1.4 1.6 -7.6 0 -18 4.4 -18 9 -10.4 10.6 -4.6 10.4 0 19.6 6 21 6 10.4 7.6 9 27 21 18 7.6 21 3 1.4 1.4 22.6 0 21 -6 24 -15 24 -24 12 -16.4 10.4 -10.6 15 -7.4 15 0 1.6 1.4 19.4 1.6 1.6 -1.6 21 -3 6 -3 6 0 10.4 -4.4 4.6 -4.6 7.4 -13.4 3 -9zM2417.8 473.2l-3 -3 -3 0 -21 -19.4 0 -4.6 -3 -1.4 0 -4.6 -19.6 6 -15 9 -52.4 42 -16.6 16.6 -3 6 0 4.4 3 6 7.6 4.6 12 0 9 -3 27 -13.6 7.4 -1.4 24 -10.6 30 -22.4 6 0 4.6 -3zM1759.2 297.8l-13.4 -4.6 -7.6 0 -10.4 -3 -13.6 1.6 -12 10.4 -13.4 24 -10.6 10.6 -10.4 6 -3 0 -1.6 3 -9 3 -10.4 10.4 -3 0 -7.6 7.6 -3 0 -9 9 -3 0 -6 6 -4.4 0 0 100.4 15 -15 3 0 15 -15 3 0 12 -12 4.4 -1.4 12 -12 24 -19.6 37.6 -39 4.4 -1.4 9 -7.6 19.6 -40.4 -1.6 -12zM1694.8 251.2l0 -10.4 -3 -6 -6 -3 -12 3 -6 0 -1.6 -1.6 -3 4.6 -37.4 0 -1.6 -3 -16.4 0 0 7.4 3 0 3 3 4.4 0 3 3 9 1.6 21 12 4.6 0 3 3 6 1.4 16.4 -1.4z"/>
<path fill="#b71820" d="M2395.2 1001.2l-9 -9 -12 -4.4 -9 0 -12 6 -7.4 7.4 -4.6 1.6 -34.4 1.4 -3 -3 -25.6 0 -1.4 3 -10.6 0 -1.4 3 -4.6 0 18 19.6 0 3 6 6 3 0 3 3 6 0 3 3 7.6 0 1.4 1.4 12 -1.4 3 1.4 9 9 7.6 15 0 6 1.4 1.6 0 30 -1.4 1.4 0 10.6 -1.6 1.4 0 10.6 -1.4 1.4 0 10.6 -1.6 1.4 0 13.6 -1.4 1.4 0 25.6 -1.6 1.4 0 9 -4.4 7.6 0 3 4.4 6 0 4.4 -10.4 9 -6 0 -4.6 3 -15 -12 -9 -3 -7.4 -7.4 -21 0 -3 -3 -9 0 -3 -3 -9 0 -3 -3 -12 0 -3 -3 -12 0 -3 -3 -9 0 -4.6 -4.6 -4.4 0 -3 -3 -6 0 -31.6 -18 -15 9 -6 0 -9 6 -6 0 -3 3 -6 0 -3 3 -3 0 -3 3 -6 0 -3 3 -9 0 -3 3 -9 0 -3 3 -21 0 -3 3 -15 0 -3 3 -3 0 -12 12 -3 0 -6 6 -3 0 -6 6 -3 0 -9 6 -6 0 -3 3 -6 0 -3 3 -18 0 -3 3 -7.4 0 -3 -3 -24 0 -3 -3 -24 0 -6 -6 -22.6 0 -3 -3 -6 0 -7.4 -6 -31.6 -7.4 -22.4 -1.6 -1.6 1.6 -15 1.4 -22.4 12 -13.6 15 -9 19.6 -1.4 12 -1.6 1.4 0 12 667.6 0 1.4 -7.4 9 -13.6 0 -4.4 -4.4 -9 0 -25.6 1.4 -1.4 1.6 -25.6 1.4 -1.4 0 -10.6 1.6 -1.4 3 -31.6 1.4 -1.4 0 -15 -10.4 -27 0 -13.6 12 -27 0 -4.4 6 -16.6 0 -6 3 -9 0 -22.4zM1946.8 692.2l-4.6 7.6 0 6 -1.4 1.4 1.4 21 4.6 15 19.4 19.6 12 9 13.6 6 18 1.4 1.4 1.6 18 0 1.6 -1.6 10.4 0 9 -3 21 -13.4 15 -15 6 -9 4.6 -12 1.4 -13.6 -6 -18 -12 -12 -19.4 -9 -22.6 -1.4 -1.4 -1.6 -40.6 1.6 -33 9zM2363.8 650.2l-3 -3 -12 -4.4 -12 0 -24 7.4 -15 9 -4.6 10.6 0 9 4.6 9 4.4 3 16.6 -1.6 4.4 -3 19.6 -4.4 6 -3 12 -12 4.4 -9zM2416.2 473.2l-1.4 -3 -4.6 0 -19.4 -19.4 0 -4.6 -6 4.6 -21 6 -15 9 -52.6 40.4 -9 9 -1.4 9 9 7.6 16.4 -1.6 27 -13.4 31.6 -12 7.4 -4.6 10.6 -12 6 -1.4 6 -4.6 6 0 3 -3 6 -1.4zM1756.2 299.2l-16.4 -4.4 -9 0 -1.6 -1.6 -10.4 0 -19.6 16.6 -1.4 9 -4.6 9 -6 6 -3 0 -3 3 -9 3 -4.4 4.4 -9 3 -13.6 12 -3 0 -9 9 -3 0 -9 9 -3 0 -6 6 -4.4 0 0 97.6 15 -15 3 0 94.4 -94.6 16.6 -7.4 6 -4.6 9 -13.4 1.4 -6 10.6 -19.6 -1.6 -12zM1693.2 251.2l0 -7.4 -3 -9 -16.4 1.4 -9 3 -37.6 0 -3 -3 -16.4 0 0 6 4.4 0 3 3 6 0 3 3 9 0 1.6 3 10.4 0 1.6 3 4.4 0 3 3 3 0 6 6 18 0z"/>
<path fill="#ae161e" d="M2390.8 1008.8l-3 -6 -7.6 -7.6 -10.4 -4.4 -7.6 1.4 -15 10.6 -42 1.4 -1.4 -3 -25.6 0 -1.4 3 -10.6 0 -1.4 3 -4.6 0 18 18 0 4.6 6 6 4.6 0 1.4 3 9 0 1.6 -4.6 4.4 -4.4 10.6 0 7.4 3 13.6 15 6 16.4 0 7.6 1.4 1.4 0 34.6 -1.4 1.4 -1.6 36 -1.4 1.6 -1.6 43.4 -1.4 6 -6 9 1.4 9 -9 9 -6 0 -3 3 -4.4 0 -15 -12 -9 -3 -6 -7.4 -21 0 -3 -3 -9 0 -3 -3 -9 0 -3 -3 -12 0 -3 -3 -12 0 -3 -3 -6 0 -1.6 1.4 -6 -6 -4.4 0 -3 -3 -6 0 -31.6 -18 -15 9 -6 0 -9 6 -6 0 -3 3 -6 0 -3 3 -3 0 -3 3 -6 0 -3 3 -9 0 -3 3 -9 0 -3 3 -21 0 -3 3 -15 0 -3 3 -3 0 -12 12 -3 0 -15 12 -3 0 -9 6 -6 0 -3 3 -6 0 -3 3 -18 0 -3 3 -7.4 0 -3 -3 -24 0 -3 -3 -25.6 0 -4.4 -4.4 -45 -1.6 -1.6 -1.4 -7.4 0 -7.6 -3 -18 -1.6 -1.4 -1.4 -21 1.4 -12 4.6 -9 6 -10.6 10.4 -7.4 15 -1.6 12 -1.4 1.6 0 13.4 649.4 0 0 -3 7.6 -15 -1.6 -34.4 1.6 -1.6 0 -10.4 1.4 -1.6 1.6 -36 1.4 -1.4 0 -15 1.6 -1.6 0 -15 1.4 -1.4 0 -13.6 -1.4 -1.4 0 -7.6 -6 -24 1.4 -1.4 1.6 -13.6 6 -15 3 -19.4 1.4 -1.6 0 -7.4 1.6 -1.6 0 -9 1.4 -1.4zM1949.8 699.8l-1.6 4.4 1.6 36 19.4 18 16.6 12 30 1.6 1.4 -1.6 24 -1.4 21 -16.6 9 -9 9 -13.4 -6 -24 -4.4 -9 -9 -9 -6 0 -7.6 -3 -21 0 -1.4 -1.6 -19.6 -1.4 -1.4 1.4 -21 3 -18 7.6 -9 1.4zM2362.2 654.8l-10.4 -6 -15 -1.6 -33 12 -3 6 1.4 22.6 6 1.4 39 -12 12 -13.4zM2408.8 467.2l-6 -6 -28.6 0 -1.4 1.6 -12 1.4 -12 7.6 -31.6 25.4 -21 13.6 -7.4 7.4 0 4.6 10.4 7.4 7.6 0 19.4 -10.4 3 0 3 -3 33 -12 10.6 -6 3 -3 1.4 -6 18 -16.6 9 -3zM1754.8 300.8l-6 0 -3 -3 -13.6 0 -4.4 -3 -7.6 0 -19.4 16.4 -1.6 19.6 -1.4 4.4 -7.6 7.6 -3 0 -9 6 -6 0 -3 3 -6 0 -3 3 -6 0 -3 3 -7.4 1.4 -9 9 -4.6 0 -7.4 9 -4.6 0 -4.4 6 -6 0 0 85.6 102 -103.6 24 -3 7.4 -6 0 -3 9 -10.4 0 -3 12 -21 -3 -6 0 -4.6z"/>
<path fill="#a3151c" d="M2383.2 1005.8l-4.4 -6 -9 -6 -4.6 0 -13.4 9 -22.6 1.4 1.6 1.6 1.4 12 6 12 7.6 27 0 10.4 1.4 1.6 0 48 -1.4 1.4 0 37.6 -1.6 1.4 0 34.6 -1.4 1.4 0 6 -1.6 4.6 -7.4 7.4 -1.6 4.6 -9 7.4 -6 0 -3 3 -4.4 0 -6 -6 -3 0 -6 -6 -9 -3 -6 -6 -21 0 -3 -3 -9 0 -3 -3 -9 0 -3 -3 -12 0 -3 -3 -12 0 -3 -3 -9 0 -6 -6 -4.6 0 -1.4 -3 -7.6 0 -1.4 -3 -4.6 0 -1.4 -3 -4.6 0 -1.4 -3 -4.6 0 -4.4 -6 -4.6 0 -3 -3 -1.4 3 -4.6 0 -1.4 3 -4.6 0 -1.4 3 -7.6 0 -1.4 3 -4.6 0 -1.4 3 -7.6 0 -1.4 3 -7.6 0 -1.4 3 -4.6 0 -1.4 3 -7.6 0 -1.4 3 -10.6 0 -1.4 3 -10.6 0 -1.4 3 -22.6 0 -1.4 3 -16.6 0 -1.4 3 -4.6 0 -10.4 12 -4.6 0 -4.4 6 -4.6 0 -4.4 6 -4.6 0 -1.4 3 -4.6 0 -1.4 3 -7.6 0 -1.4 3 -7.6 0 -1.4 3 -19.6 0 -1.4 3 -10.6 0 -1.4 -3 -25.6 0 -1.4 -3 -25.6 0 -1.4 -3 -27 0 -3 3 -6 0 -4.6 4.6 -12 0 -10.4 -4.6 -12 -1.4 -1.6 -1.6 -9 0 -1.4 -1.4 -18 1.4 -9 4.6 -15 13.4 -6 18 0 18 631.4 0 0 -3 7.6 -9 1.4 -6 0 -37.4 1.6 -1.6 0 -16.4 1.4 -1.6 0 -36 1.6 -1.4 0 -24 1.4 -1.6 0 -22.4 -1.4 -1.6 0 -12 -1.6 -1.4 0 -13.6 1.6 -1.4 0 -10.6 4.4 -12 1.6 -25.4 1.4 -1.6 0 -12 1.6 -1.4 0 -22.6zM2380.2 468.8l-18 0 -42 33 -3 0 -6 6 -9 3 -6 6 -4.4 1.4 -1.6 3 10.6 7.6 4.4 0 3 -3 3 0 3 -3 3 0 21 -12 6 0 9 -6 6 0 3 -3 9 -3 4.6 -3 1.4 -10.6 4.6 -10.4z"/>
<path fill="#98131a" d="M1741.2 1256.2l0 22.6 58.6 0 3 -3 0 -4.6 6 -4.4 0 -10.6 -6 -4.4 0 -4.6 -3 -3 -7.6 0 -1.4 -3 -16.6 0 -1.4 -3 -7.6 0 -4.4 6 -4.6 0 -7.4 9 -4.6 0zM2369.8 998.2l-4.6 0 -4.4 6 -4.6 0 -6 6 0 202.6 -3 1.4 0 58.6 19.6 0 0 -43.6 3 -1.4 0 -85.6 3 -1.4 0 -64.6 3 -1.4 0 -46.6 3 -1.4 0 -19.6z"/>
</g>
<g fill="#e5e5e5" stroke="#2a2a2a" stroke-width="1.1" stroke-linejoin="round"><polygon points="1605,0 2276,0 2276.3,6.2 2269.5,9.1 2258.2,14.7 2246.8,22.7 2235.5,28.4 2227.5,34 2221.9,43.1 2212.8,47.6 2210.5,56.7 2195.8,61.2 2184.4,66.9 2173.1,70.3 2161.8,73.7 2150.4,72.6 2139.1,72.6 2131.1,74.8 2122.1,73.7 2110.7,79.4 2099.4,93 2090.3,99.8 2083.5,94.1 2074.4,90.7 2068.8,96.4 2057.4,105.5 2042.7,108.9 2031.3,113.4 2020,116 2005.8,116.6 1993.7,121.5 1981.5,127.6 1969.4,131.2 1963.3,136 1945,139.7 1929,143.4 1913,155 1909,161 1897,155 1888,165 1885,172 1893,182 1898,187 1904,197 1901,203 1890,210 1880,210 1871,209 1875,202 1866,195 1863,188 1859,171 1860,162 1862,153 1860,146 1851.4,130.9 1838.9,141.3 1830.5,147.6 1818,133 1807.5,130.9 1801.3,119.4 1797.1,126.7 1788.7,137.2 1776.2,141.3 1763.7,143.4 1755.3,149.7 1742.8,153.9 1734.4,164.3 1724,170.6 1713.5,174.7 1705.2,183.1 1701,193.5 1692.7,210.3 1680.1,222.8 1667.6,229 1663.4,243.7 1659.2,260.4 1653,275 1650.9,283.4 1657.2,293.8 1665.5,306.3 1680.1,318.9 1690.6,329.3 1692.7,339.7 1698.9,354.4 1713.5,371.1 1726.1,383.6 1738.6,398.2 1755.3,410.8 1763.7,420 1770,424 1784,432 1798,449 1813,472 1819,487 1827,507 1833,536 1836,565 1839,594 1836,623 1833,652 1830,675 1824,681 1819,690 1807,698 1790,707 1778,713 1767,721 1755,724 1740,733 1726,736 1711,739 1703,750 1697,768 1685,782 1668,794 1654,800 1639,808 1627,820 1619,832 1605,840" /><polygon points="1805.1,264.5 1813.2,252.3 1829.4,244.3 1837.4,234.1 1853.6,228.1 1871.8,226.1 1886,224 1902.1,222 1918.3,224 1924.4,232.1 1926.4,242.2 1918.3,248.3 1910.2,260.4 1906.2,276.6 1898.1,290.7 1890,300.8 1877.9,308.9 1861.7,319 1853.6,323.1 1841.5,319 1825.3,313 1809.1,296.8 1805.1,280.6" /><polygon points="2405,0 2405,6 2398,29 2394,58 2398,67 2412,84 2424,98 2427,116 2432,119 2435,110 2438,93 2447,75 2461,52 2470,32 2473,17 2473,0" /><polygon points="2418,306 2429,301 2442,299 2461,301 2475,307 2486,315 2500,318 2500,432 2473,441.5 2469,456.6 2462,475.5 2467.5,494.3 2473,505.7 2479,522.6 2483,535.8 2492,543.4 2500,545 2500,549 2492,549 2477,551 2466,556.6 2454,564.2 2443,566 2432,564.2 2422,554.7 2420,543.4 2422,530.2 2430,522.6 2439,518.9 2435.5,509.4 2424,503.8 2418.5,509.4 2414.7,522.6 2409,513.2 2403.4,505.7 2396,501.9 2392,488.7 2386.4,471.7 2384.5,456.6 2378,441.5 2380,420 2386,412 2393,402 2395,418 2397,436 2404,441 2412,438 2411,398 2410,377 2412,348 2415,319" /><polygon points="2407.2,573.6 2416.6,571.7 2426,573.6 2435.5,581.1 2443,588.7 2450.6,600 2458.1,607.5 2465.7,613.2 2467.5,626.4 2465.7,637.7 2454.3,641.5 2446.8,637.7 2439.2,622.6 2431.7,611.3 2422.3,596.2 2414.7,584.9 2407.2,577.4" /><polygon points="2362.1,683 2352.6,698.1 2350.8,713.2 2347,728.3 2335.7,735.8 2328.1,750.9 2320.6,766 2313,779.2 2301.7,788.7 2286.6,800 2273.4,807.5 2262.1,817 2252.6,826.4 2245.1,843.4 2252.6,837.7 2264,826.4 2279,813.2 2292.3,801.9 2305.5,794.3 2316.8,781.1 2326.2,769.8 2331.9,756.6 2343.2,750.9 2354.5,741.5 2365.8,734 2371.5,728.3 2367.7,717 2364,705.7 2365.8,694.3" /><polygon points="1832,1280 1823,1255 1820.5,1225.4 1823.4,1210.6 1826.4,1195.8 1835.3,1186.8 1844.2,1175 1856,1169.1 1859,1175 1867.9,1183.9 1876.8,1185.4 1891.6,1183.9 1900.5,1186.8 1906.4,1189.8 1921.3,1191.3 1930.2,1195.8 1933.1,1186.8 1936.1,1166.1 1939,1154.2 1942,1136.4 1948,1130.5 1965.8,1126.1 1980.6,1121.6 1995.4,1118.7 2010.2,1112.7 2025,1106.8 2039.8,1095 2050,1083.1 2064.8,1065.3 2079.6,1047.5 2081.1,1038.6 2094.5,1035.7 2109.3,1029.7 2127.1,1023.8 2138.9,1017.9 2150.8,1009 2162.6,1003 2168.6,988.2 2180.4,970.4 2192.3,952.6 2204.1,937.8 2216,928.9 2221.9,914.1 2227.9,920 2239.7,914.1 2245.7,920 2257.5,928.9 2266.4,946.7 2272.3,964.5 2281.2,970.4 2293.1,973.4 2307.9,979.3 2322.7,985.3 2340.5,991.2 2352.4,1000.1 2346.4,1009 2331.6,1011.9 2316.8,1017.9 2296.1,1020.8 2296.1,1029.7 2310.9,1035.7 2322.7,1044.5 2307.9,1050.5 2293.1,1050.5 2281.2,1053.4 2269.4,1047.5 2266.4,1059.4 2257.5,1062.3 2269.4,1077.2 2272.3,1092 2257.5,1097.9 2251.6,1106.8 2263.4,1115.7 2275.3,1124.6 2281.2,1136.4 2287.2,1151.3 2284.2,1166.1 2287.2,1180.9 2302,1189.8 2316.8,1195.7 2331.6,1204.6 2337.6,1216.5 2334.6,1225.4 2316.8,1228.3 2287.2,1225.4 2275.3,1234.3 2266.4,1249.1 2263.4,1263.9 2260.5,1280" /><polygon points="2385,1280 2390.9,1240.2 2405.7,1222.4 2429.5,1210.6 2450.2,1206.1 2500,1221 2500,1250.6 2465,1249.1 2435.4,1247.6 2414.6,1249.1 2402.8,1255 2396.8,1280" /><polygon points="2436,962 2446,959 2456,961 2462,966 2455,971 2440,970" /><polygon points="2376,1008 2385,1002 2398,999 2405,1003 2398,1010 2384,1014 2377,1014" /><polygon points="2427,987 2432,984 2436,990 2430,992" /><polygon points="2357,1022 2362,1020 2364,1030 2358,1033" /><polygon points="2484,760 2492,755 2500,755 2500,790 2490,785" /><polygon points="2486,880 2494,870 2500,870 2500,930 2490,920" /><polygon points="2391,556 2398,553 2408,558 2404,565 2395,563" /><polygon points="2383,636 2392,640 2402,645 2406,652 2400,662 2390,668 2384,660 2381,648" /><polygon points="2377,726 2386,724 2389,730 2381,735" /><polygon points="1771,1056 1778,1052 1786,1060 1792,1070 1790,1082 1781,1086 1774,1078 1770,1066" /><polygon points="1650,1113 1656,1111 1655,1121 1650,1124" /><polygon points="1677,1099 1684,1097 1688,1106 1682,1112" /><polygon points="2486,630 2500,620 2500,700 2490,690" /><polygon points="2235,848 2243,846 2244,858 2237,864" /><polygon points="2467,313 2474,311 2476,318 2469,320" /><polygon points="2470,332 2476,331 2477,337 2471,338" /></g>
<polygon points="2018,113 2022,95 2028,75 2035,55 2045,50 2055,58 2062,75 2072,88 2074,92 2068,96 2057,105 2043,109 2031,113" fill="#ea5a2a" stroke="#2a2a2a" stroke-width="1"/>
<polygon points="1670,712 1680,707 1692,710 1690,722 1678,726 1668,720" fill="#fcc450" stroke="#333" stroke-width="0.6"/><polygon points="1619,772 1630,762 1645,756 1652,760 1640,770 1625,778" fill="#f58a2c" stroke="#333" stroke-width="0.6"/><polygon points="1658,748 1668,745 1672,750 1660,754" fill="#f7902e" stroke="#333" stroke-width="0.6"/><polygon points="1695,752 1705,747 1710,755 1700,762" fill="#ec5a2a" stroke="#333" stroke-width="0.6"/><polygon points="1620,735 1628,732 1630,738 1622,741" fill="#f58a2c" stroke="#333" stroke-width="0.6"/><polygon points="2003,72 2010,68 2013,75 2006,78" fill="#fca040" stroke="#333" stroke-width="0.6"/><polygon points="2060,45 2066,42 2068,50 2062,52" fill="#f47a2b" stroke="#333" stroke-width="0.6"/><polygon points="2150,63 2160,60 2163,66 2153,68" fill="#f7902e" stroke="#333" stroke-width="0.6"/>
<g fill="#e5e5e5" stroke="#2a2a2a" stroke-width="1"><polygon points="2030,85 2040,80 2046,92 2038,100 2031,96" /><polygon points="2047,62 2053,66 2050,76 2045,72" /><polygon points="2050,96 2058,92 2062,99 2055,103" /><polygon points="2024,100 2030,103 2026,110" /></g>
<g fill="none" stroke="#1a1a1a" stroke-width="1.4" stroke-linejoin="round"><polyline points="1925.6,246 1951.2,251.1 1968.8,266.5 1976.9,285 1981.9,320.2 1993,333 2007,341 2028,345.8 2063.9,356.1 2081,362 2098.5,367 2104.9,367.6 2156.1,367.6 2232.9,370.2 2284.1,363.8 2335.3,351 2373.7,330.5 2412.2,313.8 2419,312" /><polyline points="1851,321 1862,325 1882,333 1902,341 1918,351 1926,362 1928,378 1924,396 1916,412 1902,428 1882,446 1862,463 1842,477 1819,490" /><polyline points="1963,138.5 1975.4,148.2 1993.7,148.8 2018,145.8 2042.3,140.9 2054.4,139.7 2066.6,131.2 2078.7,121.5 2087.2,109.4 2096.9,103.3 2115.2,91.1 2127.3,82.6 2139.5,76.3 2160,74.5 2190,66 2210,58 2228,38 2250,28 2268,14 2277,4" /><polyline points="2398,61 2375,78 2357,101 2351,116 2369,122 2389,119 2406,104 2416,93" /><polygon points="2389,101 2398,87 2409,90 2406,98 2398,101" /><polyline points="2493,55 2485,67 2470,87 2467,104 2479,116 2493,122" /><polyline points="2412,107.7 2386.6,135.9 2370,165 2383,185 2395,189.6 2425,176.8 2437.8,151.2 2440.3,125.6 2432.7,107.7" /><polyline points="2438,300 2450,287 2467,272.4 2485,261 2493,255" /><polyline points="1945.3,145.8 1939.6,176 1932.1,199.6 1922.6,218.5 1917,223.5" /><polyline points="1761.6,150 1767.8,170.6 1765.8,189.4 1755.3,204 1738.6,214.4 1730.3,212.3 1717.7,204 1707.3,199.8 1700,199.8" /><polyline points="1784.6,140 1797.1,149.7 1811.7,160.1 1824.2,160.1 1831.5,154.9 1831,146" /><polyline points="1661,232 1682.2,223.8 1696.8,231.1 1701,239.5 1698.9,254.1 1692.7,264.6 1671.8,270.8 1654,276" /><polyline points="1682,320 1694.7,304.2 1709.4,283.4 1734.4,285.4 1755.3,289.6 1772,293.8 1774.1,308.4 1772,323 1763.7,335.6 1759.5,350.2 1757.4,360.6 1751.1,371.1 1736.5,373.2 1736.5,381.5 1737,397" /><polyline points="1807,294 1786,299 1779,306 1777,320 1771,331 1767,337 1765,350 1765,361 1767,371 1760,378 1748,387 1742,403" /><polyline points="1807,298.5 1789,303 1783,310 1781,322 1775,334 1771,340 1769,351 1769,361 1771,374 1764,382 1752,391 1747,406" /><polyline points="1807,303 1792,307 1787,314 1785,326 1779,338 1776,345 1777,352 1786,361 1797,358.5 1811.7,346 1828.4,333.5 1833,318" /><polygon points="1791,311 1800,309 1818,312 1828,317 1814,321 1801,324 1792,325" /><polyline points="1859.7,146 1851.4,164.3 1834.7,181 1818,197.7 1809.6,208.2 1807.5,224.9 1809.6,239.5 1812,250" /><polyline points="1861.8,189.4 1849.3,199.8 1838.9,210.3 1836.8,222.8 1834.7,236" /><polyline points="1874.3,206.1 1863.9,214.4 1859.7,222.8 1851.4,230.5" /><polygon points="1763,420 1770,408 1783,405 1797,412 1797,424 1786,430 1775,428" /><polygon points="1801,453 1806,444 1813,447 1815,460 1810,468" /><polyline points="1830.2,676.4 1841.8,675 1853.4,666.3 1865,648.9 1876.6,628.6 1888.2,611.3 1892.5,593.9 1882.4,573.6 1865,556.2 1853.4,535.9 1850.5,515.6 1859.2,501.1 1885.3,492.4 1914.2,489.5 1972.2,495.3 2015.7,500.5 2051,501 2068,498 2084.8,494.5 2125.2,485.1 2160.2,478.1 2195.2,469.3 2230.3,460.6 2265.3,446.6 2300.3,425.5 2317.8,408 2335.4,390 2366.9,372 2393.9,352 2409,344" /><polyline points="1840.4,591.3 1850.5,591.3 1855.6,604.7 1855.6,621.6 1850.5,638.4 1840.4,651.9 1834,649" /><polygon points="1896.9,675 1902.7,660.5 1928.7,648.9 1957.7,640.2 1980.9,640.2 1992.5,635.9 2004.1,640.2 2015.7,633 2030.2,631.5 2044.7,625.7 2051,624.5 2068,621 2085,617.5 2125.2,604.2 2160.2,593.7 2195.2,583.2 2223.3,570.9 2226.8,579.7 2219.7,607.7 2226.8,632.2 2240.8,642.7 2267.7,645.3 2305.5,637.7 2343.2,624.5 2380.9,609.4 2394.2,600 2407,594 2401.9,604.2 2387.9,618.2 2380,632 2392.3,656.6 2380.9,666 2362.1,679.2 2343.2,688.7 2305.5,701.9 2267.7,713.2 2230,728.3 2212.8,737.3 2160.2,768.9 2125.2,793.4 2090.1,814.4 2060,827.1 2030.2,822.8 2001.2,808.3 1972.2,790.9 1943.3,767.7 1928.8,744.5 1914.3,718.5 1899.8,695.3 1896.9,675" /><polyline points="2240.8,555.2 2265.3,520.1 2299.5,486 2335.4,457 2360.9,425 2386.6,385 2409.6,358.6" /><polyline points="2390,499 2370.4,513.1 2335.4,527.1 2300.3,541.2 2265.3,555.2 2247.8,560.4 2240.8,555.2" /><polyline points="2378,418 2391,402 2402,394 2409,384" /><polyline points="2342,569 2370,548 2405,545 2423,552 2412,575 2409,594 2388,590 2353,590 2342,576 2342,569" /><polyline points="2395,625 2412,611 2433,608 2437,632 2405,639 2395,625" /><polyline points="2386,676 2410,664 2432,652 2449,640" /><polyline points="1745.1,736.1 1750.4,741.3 1741.6,758.8 1724.1,785.1 1706.6,806.1 1689.1,820.1 1671.5,828.9 1655.8,836.8 1647,835 1650.5,802.6" /><polyline points="1629.5,823.6 1641.8,834.1 1627.8,839.4 1617,841.1" /><polyline points="1757.4,725.5 1759.1,730.8 1776.6,729 1794.2,720.3 1808.2,709.8 1809.9,695.8" /><polyline points="1841.2,1176 1847.2,1136.4 1853.1,1106.8 1862,1077.2 1876.8,1047.5 1891.6,1032.7 1906.4,1017.9 1936.1,1000.1 1965.8,988.2 1995.4,976.4 2025,967.5 2042,962 2059,956 2079.6,937.8 2109.3,923 2138.9,908.2 2168.6,890.4 2198.2,875.6 2228,869.6 2237.5,864 2260.2,849.1 2262.1,834 2301.7,834 2305.5,822.6 2293,801" /><polyline points="2206.5,834.4 2223.9,811.2 2252.8,799.6 2262,806" /><polyline points="2493,683.6 2468.2,700.6 2444,720 2407.6,741.8 2371.2,761.2 2347,780.6 2330,797.6 2322.7,821.9 2334.9,826.7 2371.2,829.1 2407.6,831.6 2439.1,847.3 2463.4,851 2493,843.7" /><polyline points="2456,741.8 2478,710.3 2490,715.2 2482.8,741.8 2465.8,747.9 2456,741.8" /><polyline points="1862,1163 1870,1146 1890,1141 1910,1145 1922,1160 1918,1180 1890,1186 1866,1183 1862,1163" /><polyline points="1963,1120 1985,1098 2008,1088 2030,1085 2037,1093 2025,1110 2000,1115 1963,1120" /><polyline points="2254.8,901.9 2274.2,894.6 2298.5,891 2315.5,894.6 2325.2,911.6 2325.2,931 2317.9,950.4 2305.8,962.5 2291.2,964.9 2274.2,960 2262,945 2254.8,901.9" /><polyline points="2318,977 2347.2,965.7 2375.5,948.7 2403.8,935.5 2432.1,920.4 2450.9,905.3 2479.2,877.9 2493,888.3" /><polyline points="2334,994 2356.6,977 2384.9,969.4 2413.2,958.1 2441.5,943 2464.2,922.3 2481.1,903.4 2493,905.3" /><polyline points="2493,935 2481.1,939.2 2469.8,958.1 2460.4,977 2447.2,1003.4 2432.1,1029.8 2417,1058.1 2403.8,1080.8 2381.1,1105.3 2394.3,1116.6 2420.8,1118.5 2428.3,1140 2421,1136 2406,1166 2397,1196 2391,1225 2387,1250" /><polyline points="2493,1035.5 2484.9,1048.7 2483,1067.5 2488.7,1080.8 2477.4,1092.1 2456.6,1101.5 2439.6,1118.5 2432.1,1140 2420,1170 2410,1200 2404,1222" /><polyline points="2493,1099.6 2460.4,1105.3 2445.3,1124.2 2441.5,1140 2432,1170 2425,1200 2420,1212" /><polyline points="2440,1150 2455,1135 2470,1140 2478,1160 2462,1180 2444,1175 2440,1150" /><polyline points="2300,1058.1 2318.9,1061.9 2330.2,1073.2 2332.1,1095.8 2324.5,1124.2 2318,1150 2312,1172 2320,1193" /><polyline points="2400,1262 2420,1256 2450,1258 2493,1262" /><polyline points="2213,911 2200,927 2190,942 2175,963 2160,985 2145,1003 2125,1015 2100,1025 2085,1033" /><polyline points="1639.6,1274 1669.3,1225.4 1684.1,1195.8 1713.8,1175 1758.2,1167.6 1787.9,1172 1817.5,1186.8 1826.4,1193" /></g>
<g transform="translate(2080.8 363.6) rotate(11.6)"><rect x="-15.5" y="-14.5" width="31" height="29" fill="#fff"/><text x="0" y="5.2" font-size="14.5" text-anchor="middle">0.7</text></g>
<g transform="translate(2068 497.5) rotate(-5)"><rect x="-15.5" y="-14.5" width="31" height="29" fill="#fff"/><text x="0" y="5.2" font-size="14.5" text-anchor="middle">0.8</text></g>
<g transform="translate(2068 622) rotate(-8)"><rect x="-15.5" y="-14.5" width="31" height="29" fill="#fff"/><text x="0" y="5.2" font-size="14.5" text-anchor="middle">0.9</text></g>
<g transform="translate(2042 964) rotate(-20)"><rect x="-15.5" y="-14.5" width="31" height="29" fill="#fff"/><text x="0" y="5.2" font-size="14.5" text-anchor="middle">0.8</text></g>
<g transform="translate(2378 187) rotate(28)"><rect x="-15.5" y="-14.5" width="31" height="29" fill="#fff"/><text x="0" y="5.2" font-size="14.5" text-anchor="middle">0.6</text></g>
<rect x="2100.6" y="669.1" width="44.6" height="75.5" fill="#fff"/>
<text x="2122.8" y="720.6" font-size="37" text-anchor="middle">A</text>
<circle cx="2080.9" cy="705.2" r="12.4" fill="none" stroke="#fff" stroke-width="3"/>
<circle cx="2080.9" cy="705.2" r="8.9" fill="none" stroke="#d60f12" stroke-width="4"/>
<circle cx="2080.9" cy="705.2" r="6.4" fill="#f4f4f4"/><circle cx="2080.9" cy="705.2" r="5.6" fill="#000"/>
<rect x="2198.4" y="190.7" width="44.3" height="74.4" fill="#fff"/>
<text x="2220.6" y="241.5" font-size="37" text-anchor="middle">B</text>
<circle cx="2182.9" cy="224.9" r="12.4" fill="none" stroke="#fff" stroke-width="3"/>
<circle cx="2182.9" cy="224.9" r="8.9" fill="none" stroke="#fbb33e" stroke-width="4"/>
<circle cx="2182.9" cy="224.9" r="6.4" fill="#f4f4f4"/><circle cx="2182.9" cy="224.9" r="5.6" fill="#000"/>
<text x="1894" y="146.5" font-size="40" fill="url(#tg)" stroke="#e5e5e5" stroke-width="1.1" transform="rotate(-23 1894 146.5)" textLength="270" lengthAdjust="spacingAndGlyphs">China Mainland</text>
<text x="1737" y="447" font-size="36" fill="url(#tg)" stroke="#e5e5e5" stroke-width="1.1" transform="rotate(63.5 1737 447)" textLength="140" lengthAdjust="spacingAndGlyphs">Vietnam</text>
<text x="2438.8" y="429.4" font-size="36" fill="url(#tg)" stroke="#e5e5e5" stroke-width="1.1" transform="rotate(-90 2438.8 429.4)" textLength="95.4" lengthAdjust="spacingAndGlyphs">Luzon</text>
<text x="2490.5" y="430.5" font-size="38" fill="url(#tg)" stroke="#e5e5e5" stroke-width="1.1" transform="rotate(-90 2490.5 430.5)" textLength="96.5" lengthAdjust="spacingAndGlyphs">Island</text>
<text x="2050.5" y="1161" font-size="38" fill="url(#tg)" stroke="#e5e5e5" stroke-width="1.1" textLength="190.5" lengthAdjust="spacingAndGlyphs">Kalimantan</text>
<text x="2097" y="1212.7" font-size="38" fill="url(#tg)" stroke="#e5e5e5" stroke-width="1.1" textLength="97" lengthAdjust="spacingAndGlyphs">Island</text>
<text x="1630" y="54" font-size="50.5" textLength="60.5" lengthAdjust="spacingAndGlyphs">(e)</text>
</g>
<text x="1501.5" y="245" font-size="37" textLength="39" lengthAdjust="spacingAndGlyphs">20</text>
<circle cx="1547.9" cy="210.3" r="4.2" fill="none" stroke="#000" stroke-width="1.2"/>
<text x="1566.5" y="245" font-size="37">N</text>
<text x="1501.5" y="513.3" font-size="37" textLength="39" lengthAdjust="spacingAndGlyphs">15</text>
<circle cx="1547.9" cy="478.6" r="4.2" fill="none" stroke="#000" stroke-width="1.2"/>
<text x="1566.5" y="513.3" font-size="37">N</text>
<text x="1501.5" y="776.9" font-size="37" textLength="39" lengthAdjust="spacingAndGlyphs">10</text>
<circle cx="1547.9" cy="742.2" r="4.2" fill="none" stroke="#000" stroke-width="1.2"/>
<text x="1566.5" y="776.9" font-size="37">N</text>
<text x="1521.5" y="1036.4" font-size="37">5</text><circle cx="1547.9" cy="1001.7" r="4.2" fill="none" stroke="#000" stroke-width="1.2"/><text x="1566.5" y="1036.4" font-size="37">N</text>
<text x="1559" y="1291" font-size="37">0</text><circle cx="1584.4" cy="1257.8" r="4.2" fill="none" stroke="#000" stroke-width="1.2"/>
<text x="1571" y="1344.4" font-size="37" textLength="60" lengthAdjust="spacingAndGlyphs">105</text>
<circle cx="1635.6" cy="1311" r="4.2" fill="none" stroke="#000" stroke-width="1.2"/>
<text x="1653" y="1344.4" font-size="37">E</text>
<text x="1827" y="1344.4" font-size="37" textLength="60" lengthAdjust="spacingAndGlyphs">110</text>
<circle cx="1891.6" cy="1311" r="4.2" fill="none" stroke="#000" stroke-width="1.2"/>
<text x="1909" y="1344.4" font-size="37">E</text>
<text x="2084" y="1344.4" font-size="37" textLength="60" lengthAdjust="spacingAndGlyphs">115</text>
<circle cx="2148.6" cy="1311" r="4.2" fill="none" stroke="#000" stroke-width="1.2"/>
<text x="2166" y="1344.4" font-size="37">E</text>
<text x="2338.6" y="1344.4" font-size="37" textLength="60" lengthAdjust="spacingAndGlyphs">120</text>
<circle cx="2403.2" cy="1311" r="4.2" fill="none" stroke="#000" stroke-width="1.2"/>
<text x="2420.6" y="1344.4" font-size="37">E</text>
<rect x="1621.4" y="1390.7" width="849.2" height="23.9" fill="url(#cb)" stroke="#333" stroke-width="1.2"/>
<text x="1621.4" y="1457" font-size="36" text-anchor="middle">0.5</text>
<line x1="1791.2" y1="1414" x2="1791.2" y2="1406" stroke="#222" stroke-width="1.3"/>
<text x="1791.2" y="1457" font-size="36" text-anchor="middle">0.6</text>
<line x1="1961.1" y1="1414" x2="1961.1" y2="1406" stroke="#222" stroke-width="1.3"/>
<text x="1961.1" y="1457" font-size="36" text-anchor="middle">0.7</text>
<line x1="2130.9" y1="1414" x2="2130.9" y2="1406" stroke="#222" stroke-width="1.3"/>
<text x="2130.9" y="1457" font-size="36" text-anchor="middle">0.8</text>
<line x1="2300.8" y1="1414" x2="2300.8" y2="1406" stroke="#222" stroke-width="1.3"/>
<text x="2300.8" y="1457" font-size="36" text-anchor="middle">0.9</text>
<text x="2470.7" y="1457" font-size="36" text-anchor="middle">1</text>
</svg>
</body></html>
